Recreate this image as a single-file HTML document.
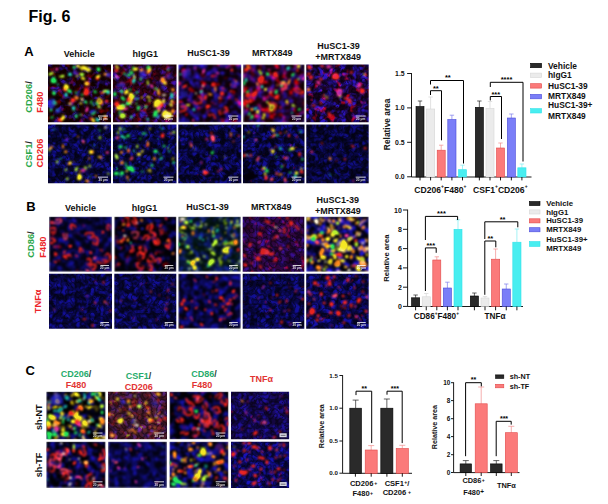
<!DOCTYPE html>
<html><head><meta charset="utf-8"><title>Fig. 6</title>
<style>html,body{margin:0;padding:0;background:#fff;}svg{display:block;}text{font-family:"Liberation Sans", sans-serif;font-weight:bold;}</style></head><body>
<svg width="608" height="504" viewBox="0 0 608 504">
<rect width="608" height="504" fill="#ffffff"/>
<defs>
<filter id="bl" x="-5%" y="-5%" width="110%" height="110%" color-interpolation-filters="sRGB"><feTurbulence type="fractalNoise" baseFrequency="0.11" numOctaves="2" seed="7" result="t"/><feDisplacementMap in="SourceGraphic" in2="t" scale="5" xChannelSelector="R" yChannelSelector="G" result="d"/><feGaussianBlur in="d" stdDeviation="0.85" result="g"/><feComponentTransfer in="g"><feFuncA type="linear" slope="1.35" intercept="0"/></feComponentTransfer></filter>
<filter id="bl2" x="-20%" y="-20%" width="140%" height="140%"><feGaussianBlur stdDeviation="0.9"/></filter>
<filter id="tb" x="-5%" y="-5%" width="110%" height="110%"><feGaussianBlur stdDeviation="0.28"/></filter>
<clipPath id="c0"><rect x="48.0" y="64.5" width="63.00" height="57.70"/></clipPath>
<filter id="f0" x="0" y="0" width="100%" height="100%" color-interpolation-filters="sRGB"><feTurbulence type="fractalNoise" baseFrequency="0.15" numOctaves="2" seed="1" result="n1"/><feColorMatrix in="n1" type="matrix" values="0 0 0 0 0.090  0 0 0 0 0.000  4.000 0 0 0 -1.880  0 0 0 0 1" result="b1"/><feComponentTransfer in="b1" result="b2"><feFuncB type="table" tableValues="0.0 0.5"/></feComponentTransfer><feTurbulence type="fractalNoise" baseFrequency="0.14" numOctaves="2" seed="18" result="n2"/><feColorMatrix in="n2" type="matrix" values="3 0 0 0 -1.740  0 6 0 0 -6.600  0 0 0 0 0  0 0 0 0 1" result="r0"/><feComponentTransfer in="r0" result="r1"><feFuncR type="table" tableValues="0 0.4"/><feFuncG type="table" tableValues="0 0.85"/></feComponentTransfer><feTurbulence type="turbulence" baseFrequency="0.21" numOctaves="1" seed="41" result="n3"/><feColorMatrix in="n3" type="matrix" values="4.0 0 0 0 -0.120  4.0 0 0 0 -0.120  4.0 0 0 0 -0.120  0 0 0 0 1" result="m0"/><feComponentTransfer in="m0" result="m1"><feFuncR type="table" tableValues="0.5 1"/><feFuncG type="table" tableValues="0.5 1"/><feFuncB type="table" tableValues="0.5 1"/></feComponentTransfer><feComposite in="b2" in2="m1" operator="arithmetic" k1="1.15" k2="0" k3="0" k4="0" result="b3"/><feColorMatrix in="b3" type="matrix" values="1 0 0.12 0 0  0 1 0.10 0 0  0 0 1 0 0  0 0 0 1 0" result="b4"/><feComposite in="b4" in2="r1" operator="arithmetic" k1="0" k2="1" k3="1" k4="0" result="cc"/><feGaussianBlur in="cc" stdDeviation="0.6"/></filter>
<clipPath id="c1"><rect x="113.0" y="64.5" width="63.50" height="57.70"/></clipPath>
<filter id="f1" x="0" y="0" width="100%" height="100%" color-interpolation-filters="sRGB"><feTurbulence type="fractalNoise" baseFrequency="0.15" numOctaves="2" seed="2" result="n1"/><feColorMatrix in="n1" type="matrix" values="0 0 0 0 0.160  0 0 0 0 0.000  4.000 0 0 0 -1.840  0 0 0 0 1" result="b1"/><feComponentTransfer in="b1" result="b2"><feFuncB type="table" tableValues="0.06 0.6"/></feComponentTransfer><feTurbulence type="fractalNoise" baseFrequency="0.14" numOctaves="2" seed="19" result="n2"/><feColorMatrix in="n2" type="matrix" values="3 0 0 0 -1.680  0 6 0 0 -6.600  0 0 0 0 0  0 0 0 0 1" result="r0"/><feComponentTransfer in="r0" result="r1"><feFuncR type="table" tableValues="0 0.5"/><feFuncG type="table" tableValues="0 0.85"/></feComponentTransfer><feTurbulence type="turbulence" baseFrequency="0.21" numOctaves="1" seed="42" result="n3"/><feColorMatrix in="n3" type="matrix" values="4.0 0 0 0 -0.120  4.0 0 0 0 -0.120  4.0 0 0 0 -0.120  0 0 0 0 1" result="m0"/><feComponentTransfer in="m0" result="m1"><feFuncR type="table" tableValues="0.5 1"/><feFuncG type="table" tableValues="0.5 1"/><feFuncB type="table" tableValues="0.5 1"/></feComponentTransfer><feComposite in="b2" in2="m1" operator="arithmetic" k1="1.15" k2="0" k3="0" k4="0" result="b3"/><feColorMatrix in="b3" type="matrix" values="1 0 0.12 0 0  0 1 0.10 0 0  0 0 1 0 0  0 0 0 1 0" result="b4"/><feComposite in="b4" in2="r1" operator="arithmetic" k1="0" k2="1" k3="1" k4="0" result="cc"/><feGaussianBlur in="cc" stdDeviation="0.6"/></filter>
<clipPath id="c2"><rect x="178.3" y="64.5" width="63.00" height="57.70"/></clipPath>
<filter id="f2" x="0" y="0" width="100%" height="100%" color-interpolation-filters="sRGB"><feTurbulence type="fractalNoise" baseFrequency="0.16" numOctaves="2" seed="3" result="n1"/><feColorMatrix in="n1" type="matrix" values="0 0 0 0 0.060  0 0 0 0 0.000  4.000 0 0 0 -1.640  0 0 0 0 1" result="b1"/><feComponentTransfer in="b1" result="b2"><feFuncB type="table" tableValues="0.02 0.72"/></feComponentTransfer><feTurbulence type="fractalNoise" baseFrequency="0.16" numOctaves="2" seed="20" result="n2"/><feColorMatrix in="n2" type="matrix" values="5 0 0 0 -3.000  0 6 0 0 -6.600  0 0 0 0 0  0 0 0 0 1" result="r0"/><feComponentTransfer in="r0" result="r1"><feFuncR type="table" tableValues="0 0.9"/><feFuncG type="table" tableValues="0 0.85"/></feComponentTransfer><feTurbulence type="turbulence" baseFrequency="0.21" numOctaves="1" seed="43" result="n3"/><feColorMatrix in="n3" type="matrix" values="4.0 0 0 0 -0.120  4.0 0 0 0 -0.120  4.0 0 0 0 -0.120  0 0 0 0 1" result="m0"/><feComponentTransfer in="m0" result="m1"><feFuncR type="table" tableValues="0.5 1"/><feFuncG type="table" tableValues="0.5 1"/><feFuncB type="table" tableValues="0.5 1"/></feComponentTransfer><feComposite in="b2" in2="m1" operator="arithmetic" k1="1.15" k2="0" k3="0" k4="0" result="b3"/><feColorMatrix in="b3" type="matrix" values="1 0 0.12 0 0  0 1 0.10 0 0  0 0 1 0 0  0 0 0 1 0" result="b4"/><feComposite in="b4" in2="r1" operator="arithmetic" k1="0" k2="1" k3="1" k4="0" result="cc"/><feGaussianBlur in="cc" stdDeviation="0.8"/></filter>
<clipPath id="c3"><rect x="243.0" y="64.5" width="61.50" height="57.70"/></clipPath>
<filter id="f3" x="0" y="0" width="100%" height="100%" color-interpolation-filters="sRGB"><feTurbulence type="fractalNoise" baseFrequency="0.16" numOctaves="2" seed="4" result="n1"/><feColorMatrix in="n1" type="matrix" values="0 0 0 0 0.100  0 0 0 0 0.000  4.000 0 0 0 -1.720  0 0 0 0 1" result="b1"/><feComponentTransfer in="b1" result="b2"><feFuncB type="table" tableValues="0.02 0.66"/></feComponentTransfer><feTurbulence type="fractalNoise" baseFrequency="0.16" numOctaves="2" seed="21" result="n2"/><feColorMatrix in="n2" type="matrix" values="5 0 0 0 -2.800  0 6 0 0 -6.600  0 0 0 0 0  0 0 0 0 1" result="r0"/><feComponentTransfer in="r0" result="r1"><feFuncR type="table" tableValues="0 0.9"/><feFuncG type="table" tableValues="0 0.85"/></feComponentTransfer><feTurbulence type="turbulence" baseFrequency="0.21" numOctaves="1" seed="44" result="n3"/><feColorMatrix in="n3" type="matrix" values="4.0 0 0 0 -0.120  4.0 0 0 0 -0.120  4.0 0 0 0 -0.120  0 0 0 0 1" result="m0"/><feComponentTransfer in="m0" result="m1"><feFuncR type="table" tableValues="0.5 1"/><feFuncG type="table" tableValues="0.5 1"/><feFuncB type="table" tableValues="0.5 1"/></feComponentTransfer><feComposite in="b2" in2="m1" operator="arithmetic" k1="1.15" k2="0" k3="0" k4="0" result="b3"/><feColorMatrix in="b3" type="matrix" values="1 0 0.12 0 0  0 1 0.10 0 0  0 0 1 0 0  0 0 0 1 0" result="b4"/><feComposite in="b4" in2="r1" operator="arithmetic" k1="0" k2="1" k3="1" k4="0" result="cc"/><feGaussianBlur in="cc" stdDeviation="0.8"/></filter>
<clipPath id="c4"><rect x="306.3" y="64.5" width="62.40" height="57.70"/></clipPath>
<filter id="f4" x="0" y="0" width="100%" height="100%" color-interpolation-filters="sRGB"><feTurbulence type="fractalNoise" baseFrequency="0.15" numOctaves="2" seed="5" result="n1"/><feColorMatrix in="n1" type="matrix" values="0 0 0 0 0.070  0 0 0 0 0.000  4.000 0 0 0 -1.680  0 0 0 0 1" result="b1"/><feComponentTransfer in="b1" result="b2"><feFuncB type="table" tableValues="0.12 0.66"/></feComponentTransfer><feTurbulence type="fractalNoise" baseFrequency="0.14" numOctaves="2" seed="22" result="n2"/><feColorMatrix in="n2" type="matrix" values="4 0 0 0 -2.280  0 6 0 0 -6.600  0 0 0 0 0  0 0 0 0 1" result="r0"/><feComponentTransfer in="r0" result="r1"><feFuncR type="table" tableValues="0 0.7"/><feFuncG type="table" tableValues="0 0.85"/></feComponentTransfer><feTurbulence type="turbulence" baseFrequency="0.21" numOctaves="1" seed="45" result="n3"/><feColorMatrix in="n3" type="matrix" values="4.0 0 0 0 -0.120  4.0 0 0 0 -0.120  4.0 0 0 0 -0.120  0 0 0 0 1" result="m0"/><feComponentTransfer in="m0" result="m1"><feFuncR type="table" tableValues="0.5 1"/><feFuncG type="table" tableValues="0.5 1"/><feFuncB type="table" tableValues="0.5 1"/></feComponentTransfer><feComposite in="b2" in2="m1" operator="arithmetic" k1="1.15" k2="0" k3="0" k4="0" result="b3"/><feColorMatrix in="b3" type="matrix" values="1 0 0.12 0 0  0 1 0.10 0 0  0 0 1 0 0  0 0 0 1 0" result="b4"/><feComposite in="b4" in2="r1" operator="arithmetic" k1="0" k2="1" k3="1" k4="0" result="cc"/><feGaussianBlur in="cc" stdDeviation="0.6"/></filter>
<clipPath id="c5"><rect x="48.0" y="124.4" width="63.00" height="58.90"/></clipPath>
<filter id="f5" x="0" y="0" width="100%" height="100%" color-interpolation-filters="sRGB"><feTurbulence type="fractalNoise" baseFrequency="0.16" numOctaves="2" seed="6" result="n1"/><feColorMatrix in="n1" type="matrix" values="0 0 0 0 0.000  0 0 0 0 0.000  4.000 0 0 0 -1.560  0 0 0 0 1" result="b1"/><feComponentTransfer in="b1" result="b2"><feFuncB type="table" tableValues="0.14 0.5"/></feComponentTransfer><feTurbulence type="fractalNoise" baseFrequency="0.14" numOctaves="2" seed="23" result="n2"/><feColorMatrix in="n2" type="matrix" values="3 0 0 0 -2.400  0 6 0 0 -6.600  0 0 0 0 0  0 0 0 0 1" result="r0"/><feComponentTransfer in="r0" result="r1"><feFuncR type="table" tableValues="0 0.9"/><feFuncG type="table" tableValues="0 0.85"/></feComponentTransfer><feTurbulence type="turbulence" baseFrequency="0.21" numOctaves="1" seed="46" result="n3"/><feColorMatrix in="n3" type="matrix" values="4.0 0 0 0 -0.120  4.0 0 0 0 -0.120  4.0 0 0 0 -0.120  0 0 0 0 1" result="m0"/><feComponentTransfer in="m0" result="m1"><feFuncR type="table" tableValues="0.5 1"/><feFuncG type="table" tableValues="0.5 1"/><feFuncB type="table" tableValues="0.5 1"/></feComponentTransfer><feComposite in="b2" in2="m1" operator="arithmetic" k1="1.15" k2="0" k3="0" k4="0" result="b3"/><feColorMatrix in="b3" type="matrix" values="1 0 0.12 0 0  0 1 0.10 0 0  0 0 1 0 0  0 0 0 1 0" result="b4"/><feComposite in="b4" in2="r1" operator="arithmetic" k1="0" k2="1" k3="1" k4="0" result="cc"/><feGaussianBlur in="cc" stdDeviation="0.75"/></filter>
<clipPath id="c6"><rect x="113.0" y="124.4" width="63.50" height="58.90"/></clipPath>
<filter id="f6" x="0" y="0" width="100%" height="100%" color-interpolation-filters="sRGB"><feTurbulence type="fractalNoise" baseFrequency="0.16" numOctaves="2" seed="7" result="n1"/><feColorMatrix in="n1" type="matrix" values="0 0 0 0 0.000  0 0 0 0 0.000  4.000 0 0 0 -1.560  0 0 0 0 1" result="b1"/><feComponentTransfer in="b1" result="b2"><feFuncB type="table" tableValues="0.14 0.5"/></feComponentTransfer><feTurbulence type="fractalNoise" baseFrequency="0.14" numOctaves="2" seed="24" result="n2"/><feColorMatrix in="n2" type="matrix" values="3 0 0 0 -2.400  0 3 0 0 -2.250  0 0 0 0 0  0 0 0 0 1" result="r0"/><feComponentTransfer in="r0" result="r1"><feFuncR type="table" tableValues="0 0.9"/><feFuncG type="table" tableValues="0 0.85"/></feComponentTransfer><feTurbulence type="turbulence" baseFrequency="0.21" numOctaves="1" seed="47" result="n3"/><feColorMatrix in="n3" type="matrix" values="4.0 0 0 0 -0.120  4.0 0 0 0 -0.120  4.0 0 0 0 -0.120  0 0 0 0 1" result="m0"/><feComponentTransfer in="m0" result="m1"><feFuncR type="table" tableValues="0.5 1"/><feFuncG type="table" tableValues="0.5 1"/><feFuncB type="table" tableValues="0.5 1"/></feComponentTransfer><feComposite in="b2" in2="m1" operator="arithmetic" k1="1.15" k2="0" k3="0" k4="0" result="b3"/><feColorMatrix in="b3" type="matrix" values="1 0 0.12 0 0  0 1 0.10 0 0  0 0 1 0 0  0 0 0 1 0" result="b4"/><feComposite in="b4" in2="r1" operator="arithmetic" k1="0" k2="1" k3="1" k4="0" result="cc"/><feGaussianBlur in="cc" stdDeviation="0.75"/></filter>
<clipPath id="c7"><rect x="178.3" y="124.4" width="63.00" height="58.90"/></clipPath>
<filter id="f7" x="0" y="0" width="100%" height="100%" color-interpolation-filters="sRGB"><feTurbulence type="fractalNoise" baseFrequency="0.16" numOctaves="2" seed="8" result="n1"/><feColorMatrix in="n1" type="matrix" values="0 0 0 0 0.000  0 0 0 0 0.000  4.000 0 0 0 -1.560  0 0 0 0 1" result="b1"/><feComponentTransfer in="b1" result="b2"><feFuncB type="table" tableValues="0.14 0.5"/></feComponentTransfer><feTurbulence type="fractalNoise" baseFrequency="0.14" numOctaves="2" seed="25" result="n2"/><feColorMatrix in="n2" type="matrix" values="3 0 0 0 -2.400  0 6 0 0 -6.600  0 0 0 0 0  0 0 0 0 1" result="r0"/><feComponentTransfer in="r0" result="r1"><feFuncR type="table" tableValues="0 0.9"/><feFuncG type="table" tableValues="0 0.85"/></feComponentTransfer><feTurbulence type="turbulence" baseFrequency="0.21" numOctaves="1" seed="48" result="n3"/><feColorMatrix in="n3" type="matrix" values="4.0 0 0 0 -0.120  4.0 0 0 0 -0.120  4.0 0 0 0 -0.120  0 0 0 0 1" result="m0"/><feComponentTransfer in="m0" result="m1"><feFuncR type="table" tableValues="0.5 1"/><feFuncG type="table" tableValues="0.5 1"/><feFuncB type="table" tableValues="0.5 1"/></feComponentTransfer><feComposite in="b2" in2="m1" operator="arithmetic" k1="1.15" k2="0" k3="0" k4="0" result="b3"/><feColorMatrix in="b3" type="matrix" values="1 0 0.12 0 0  0 1 0.10 0 0  0 0 1 0 0  0 0 0 1 0" result="b4"/><feComposite in="b4" in2="r1" operator="arithmetic" k1="0" k2="1" k3="1" k4="0" result="cc"/><feGaussianBlur in="cc" stdDeviation="0.75"/></filter>
<clipPath id="c8"><rect x="243.0" y="124.4" width="61.50" height="58.90"/></clipPath>
<filter id="f8" x="0" y="0" width="100%" height="100%" color-interpolation-filters="sRGB"><feTurbulence type="fractalNoise" baseFrequency="0.16" numOctaves="2" seed="9" result="n1"/><feColorMatrix in="n1" type="matrix" values="0 0 0 0 0.000  0 0 0 0 0.000  4.000 0 0 0 -1.560  0 0 0 0 1" result="b1"/><feComponentTransfer in="b1" result="b2"><feFuncB type="table" tableValues="0.14 0.5"/></feComponentTransfer><feTurbulence type="fractalNoise" baseFrequency="0.14" numOctaves="2" seed="26" result="n2"/><feColorMatrix in="n2" type="matrix" values="3 0 0 0 -2.250  0 6 0 0 -6.600  0 0 0 0 0  0 0 0 0 1" result="r0"/><feComponentTransfer in="r0" result="r1"><feFuncR type="table" tableValues="0 0.9"/><feFuncG type="table" tableValues="0 0.85"/></feComponentTransfer><feTurbulence type="turbulence" baseFrequency="0.21" numOctaves="1" seed="49" result="n3"/><feColorMatrix in="n3" type="matrix" values="4.0 0 0 0 -0.120  4.0 0 0 0 -0.120  4.0 0 0 0 -0.120  0 0 0 0 1" result="m0"/><feComponentTransfer in="m0" result="m1"><feFuncR type="table" tableValues="0.5 1"/><feFuncG type="table" tableValues="0.5 1"/><feFuncB type="table" tableValues="0.5 1"/></feComponentTransfer><feComposite in="b2" in2="m1" operator="arithmetic" k1="1.15" k2="0" k3="0" k4="0" result="b3"/><feColorMatrix in="b3" type="matrix" values="1 0 0.12 0 0  0 1 0.10 0 0  0 0 1 0 0  0 0 0 1 0" result="b4"/><feComposite in="b4" in2="r1" operator="arithmetic" k1="0" k2="1" k3="1" k4="0" result="cc"/><feGaussianBlur in="cc" stdDeviation="0.75"/></filter>
<clipPath id="c9"><rect x="306.3" y="124.4" width="62.40" height="58.90"/></clipPath>
<filter id="f9" x="0" y="0" width="100%" height="100%" color-interpolation-filters="sRGB"><feTurbulence type="fractalNoise" baseFrequency="0.16" numOctaves="2" seed="10" result="n1"/><feColorMatrix in="n1" type="matrix" values="0 0 0 0 0.000  0 0 0 0 0.000  4.000 0 0 0 -1.560  0 0 0 0 1" result="b1"/><feComponentTransfer in="b1" result="b2"><feFuncB type="table" tableValues="0.14 0.44"/></feComponentTransfer><feTurbulence type="fractalNoise" baseFrequency="0.14" numOctaves="2" seed="27" result="n2"/><feColorMatrix in="n2" type="matrix" values="3 0 0 0 -2.700  0 6 0 0 -6.600  0 0 0 0 0  0 0 0 0 1" result="r0"/><feComponentTransfer in="r0" result="r1"><feFuncR type="table" tableValues="0 0.9"/><feFuncG type="table" tableValues="0 0.85"/></feComponentTransfer><feTurbulence type="turbulence" baseFrequency="0.21" numOctaves="1" seed="50" result="n3"/><feColorMatrix in="n3" type="matrix" values="4.0 0 0 0 -0.120  4.0 0 0 0 -0.120  4.0 0 0 0 -0.120  0 0 0 0 1" result="m0"/><feComponentTransfer in="m0" result="m1"><feFuncR type="table" tableValues="0.5 1"/><feFuncG type="table" tableValues="0.5 1"/><feFuncB type="table" tableValues="0.5 1"/></feComponentTransfer><feComposite in="b2" in2="m1" operator="arithmetic" k1="1.15" k2="0" k3="0" k4="0" result="b3"/><feColorMatrix in="b3" type="matrix" values="1 0 0.12 0 0  0 1 0.10 0 0  0 0 1 0 0  0 0 0 1 0" result="b4"/><feComposite in="b4" in2="r1" operator="arithmetic" k1="0" k2="1" k3="1" k4="0" result="cc"/><feGaussianBlur in="cc" stdDeviation="0.75"/></filter>
<clipPath id="c10"><rect x="49.0" y="216.8" width="63.00" height="54.90"/></clipPath>
<filter id="f10" x="0" y="0" width="100%" height="100%" color-interpolation-filters="sRGB"><feTurbulence type="fractalNoise" baseFrequency="0.16" numOctaves="2" seed="11" result="n1"/><feColorMatrix in="n1" type="matrix" values="0 0 0 0 0.000  0 0 0 0 0.000  4.000 0 0 0 -1.640  0 0 0 0 1" result="b1"/><feComponentTransfer in="b1" result="b2"><feFuncB type="table" tableValues="0.1 0.56"/></feComponentTransfer><feTurbulence type="fractalNoise" baseFrequency="0.16" numOctaves="2" seed="28" result="n2"/><feColorMatrix in="n2" type="matrix" values="4 0 0 0 -2.800  0 6 0 0 -6.600  0 0 0 0 0  0 0 0 0 1" result="r0"/><feComponentTransfer in="r0" result="r1"><feFuncR type="table" tableValues="0 0.9"/><feFuncG type="table" tableValues="0 0.85"/></feComponentTransfer><feTurbulence type="turbulence" baseFrequency="0.21" numOctaves="1" seed="51" result="n3"/><feColorMatrix in="n3" type="matrix" values="4.0 0 0 0 -0.120  4.0 0 0 0 -0.120  4.0 0 0 0 -0.120  0 0 0 0 1" result="m0"/><feComponentTransfer in="m0" result="m1"><feFuncR type="table" tableValues="0.5 1"/><feFuncG type="table" tableValues="0.5 1"/><feFuncB type="table" tableValues="0.5 1"/></feComponentTransfer><feComposite in="b2" in2="m1" operator="arithmetic" k1="1.15" k2="0" k3="0" k4="0" result="b3"/><feColorMatrix in="b3" type="matrix" values="1 0 0.12 0 0  0 1 0.10 0 0  0 0 1 0 0  0 0 0 1 0" result="b4"/><feComposite in="b4" in2="r1" operator="arithmetic" k1="0" k2="1" k3="1" k4="0" result="cc"/><feGaussianBlur in="cc" stdDeviation="0.8"/></filter>
<clipPath id="c11"><rect x="114.3" y="216.8" width="62.00" height="54.90"/></clipPath>
<filter id="f11" x="0" y="0" width="100%" height="100%" color-interpolation-filters="sRGB"><feTurbulence type="fractalNoise" baseFrequency="0.16" numOctaves="2" seed="12" result="n1"/><feColorMatrix in="n1" type="matrix" values="0 0 0 0 0.000  0 0 0 0 0.000  4.000 0 0 0 -1.880  0 0 0 0 1" result="b1"/><feComponentTransfer in="b1" result="b2"><feFuncB type="table" tableValues="0.03 0.56"/></feComponentTransfer><feTurbulence type="fractalNoise" baseFrequency="0.16" numOctaves="2" seed="29" result="n2"/><feColorMatrix in="n2" type="matrix" values="4 0 0 0 -2.640  0 6 0 0 -6.600  0 0 0 0 0  0 0 0 0 1" result="r0"/><feComponentTransfer in="r0" result="r1"><feFuncR type="table" tableValues="0 0.9"/><feFuncG type="table" tableValues="0 0.85"/></feComponentTransfer><feTurbulence type="turbulence" baseFrequency="0.21" numOctaves="1" seed="52" result="n3"/><feColorMatrix in="n3" type="matrix" values="4.0 0 0 0 -0.120  4.0 0 0 0 -0.120  4.0 0 0 0 -0.120  0 0 0 0 1" result="m0"/><feComponentTransfer in="m0" result="m1"><feFuncR type="table" tableValues="0.5 1"/><feFuncG type="table" tableValues="0.5 1"/><feFuncB type="table" tableValues="0.5 1"/></feComponentTransfer><feComposite in="b2" in2="m1" operator="arithmetic" k1="1.15" k2="0" k3="0" k4="0" result="b3"/><feColorMatrix in="b3" type="matrix" values="1 0 0.12 0 0  0 1 0.10 0 0  0 0 1 0 0  0 0 0 1 0" result="b4"/><feComposite in="b4" in2="r1" operator="arithmetic" k1="0" k2="1" k3="1" k4="0" result="cc"/><feGaussianBlur in="cc" stdDeviation="0.8"/></filter>
<clipPath id="c12"><rect x="178.3" y="216.8" width="62.50" height="54.90"/></clipPath>
<filter id="f12" x="0" y="0" width="100%" height="100%" color-interpolation-filters="sRGB"><feTurbulence type="fractalNoise" baseFrequency="0.15" numOctaves="2" seed="13" result="n1"/><feColorMatrix in="n1" type="matrix" values="0 0 0 0 0.000  0 0 0 0 0.070  4.000 0 0 0 -1.680  0 0 0 0 1" result="b1"/><feComponentTransfer in="b1" result="b2"><feFuncB type="table" tableValues="0.08 0.56"/></feComponentTransfer><feTurbulence type="fractalNoise" baseFrequency="0.17" numOctaves="2" seed="30" result="n2"/><feColorMatrix in="n2" type="matrix" values="5 0 0 0 -3.000  6 0 0 0 -3.600  0 0 0 0 0  0 0 0 0 1" result="r0"/><feComponentTransfer in="r0" result="r1"><feFuncR type="table" tableValues="0 0.7"/><feFuncG type="table" tableValues="0 0.72"/></feComponentTransfer><feTurbulence type="turbulence" baseFrequency="0.21" numOctaves="1" seed="53" result="n3"/><feColorMatrix in="n3" type="matrix" values="4.0 0 0 0 -0.120  4.0 0 0 0 -0.120  4.0 0 0 0 -0.120  0 0 0 0 1" result="m0"/><feComponentTransfer in="m0" result="m1"><feFuncR type="table" tableValues="0.5 1"/><feFuncG type="table" tableValues="0.5 1"/><feFuncB type="table" tableValues="0.5 1"/></feComponentTransfer><feComposite in="b2" in2="m1" operator="arithmetic" k1="1.15" k2="0" k3="0" k4="0" result="b3"/><feColorMatrix in="b3" type="matrix" values="1 0 0.12 0 0  0 1 0.10 0 0  0 0 1 0 0  0 0 0 1 0" result="b4"/><feComposite in="b4" in2="r1" operator="arithmetic" k1="0" k2="1" k3="1" k4="0" result="cc"/><feGaussianBlur in="cc" stdDeviation="0.8"/></filter>
<clipPath id="c13"><rect x="242.7" y="216.8" width="61.60" height="54.90"/></clipPath>
<filter id="f13" x="0" y="0" width="100%" height="100%" color-interpolation-filters="sRGB"><feTurbulence type="fractalNoise" baseFrequency="0.15" numOctaves="2" seed="14" result="n1"/><feColorMatrix in="n1" type="matrix" values="0 0 0 0 0.130  0 0 0 0 0.000  3.000 0 0 0 -1.320  0 0 0 0 1" result="b1"/><feComponentTransfer in="b1" result="b2"><feFuncB type="table" tableValues="0.22 0.55"/></feComponentTransfer><feTurbulence type="fractalNoise" baseFrequency="0.14" numOctaves="2" seed="31" result="n2"/><feColorMatrix in="n2" type="matrix" values="4 0 0 0 -2.440  0 6 0 0 -7.200  0 0 0 0 0  0 0 0 0 1" result="r0"/><feComponentTransfer in="r0" result="r1"><feFuncR type="table" tableValues="0 0.5"/><feFuncG type="table" tableValues="0 0.85"/></feComponentTransfer><feTurbulence type="turbulence" baseFrequency="0.21" numOctaves="1" seed="54" result="n3"/><feColorMatrix in="n3" type="matrix" values="4.0 0 0 0 -0.120  4.0 0 0 0 -0.120  4.0 0 0 0 -0.120  0 0 0 0 1" result="m0"/><feComponentTransfer in="m0" result="m1"><feFuncR type="table" tableValues="0.5 1"/><feFuncG type="table" tableValues="0.5 1"/><feFuncB type="table" tableValues="0.5 1"/></feComponentTransfer><feComposite in="b2" in2="m1" operator="arithmetic" k1="1.15" k2="0" k3="0" k4="0" result="b3"/><feColorMatrix in="b3" type="matrix" values="1 0 0.12 0 0  0 1 0.10 0 0  0 0 1 0 0  0 0 0 1 0" result="b4"/><feComposite in="b4" in2="r1" operator="arithmetic" k1="0" k2="1" k3="1" k4="0" result="cc"/><feGaussianBlur in="cc" stdDeviation="0.6"/></filter>
<clipPath id="c14"><rect x="306.2" y="216.8" width="62.50" height="54.90"/></clipPath>
<filter id="f14" x="0" y="0" width="100%" height="100%" color-interpolation-filters="sRGB"><feTurbulence type="fractalNoise" baseFrequency="0.15" numOctaves="2" seed="15" result="n1"/><feColorMatrix in="n1" type="matrix" values="0 0 0 0 0.000  0 0 0 0 0.000  4.000 0 0 0 -1.680  0 0 0 0 1" result="b1"/><feComponentTransfer in="b1" result="b2"><feFuncB type="table" tableValues="0.05 0.95"/></feComponentTransfer><feTurbulence type="fractalNoise" baseFrequency="0.17" numOctaves="2" seed="32" result="n2"/><feColorMatrix in="n2" type="matrix" values="6 0 0 0 -3.360  6 0 0 0 -3.540  0 0 0 0 0  0 0 0 0 1" result="r0"/><feComponentTransfer in="r0" result="r1"><feFuncR type="table" tableValues="0 0.98"/><feFuncG type="table" tableValues="0 0.9"/></feComponentTransfer><feTurbulence type="turbulence" baseFrequency="0.21" numOctaves="1" seed="55" result="n3"/><feColorMatrix in="n3" type="matrix" values="4.0 0 0 0 -0.120  4.0 0 0 0 -0.120  4.0 0 0 0 -0.120  0 0 0 0 1" result="m0"/><feComponentTransfer in="m0" result="m1"><feFuncR type="table" tableValues="0.5 1"/><feFuncG type="table" tableValues="0.5 1"/><feFuncB type="table" tableValues="0.5 1"/></feComponentTransfer><feComposite in="b2" in2="m1" operator="arithmetic" k1="1.15" k2="0" k3="0" k4="0" result="b3"/><feColorMatrix in="b3" type="matrix" values="1 0 0.12 0 0  0 1 0.10 0 0  0 0 1 0 0  0 0 0 1 0" result="b4"/><feComposite in="b4" in2="r1" operator="arithmetic" k1="0" k2="1" k3="1" k4="0" result="cc"/><feGaussianBlur in="cc" stdDeviation="0.8"/></filter>
<clipPath id="c15"><rect x="49.0" y="273.7" width="63.00" height="55.00"/></clipPath>
<filter id="f15" x="0" y="0" width="100%" height="100%" color-interpolation-filters="sRGB"><feTurbulence type="fractalNoise" baseFrequency="0.16" numOctaves="2" seed="16" result="n1"/><feColorMatrix in="n1" type="matrix" values="0 0 0 0 0.000  0 0 0 0 0.000  3.500 0 0 0 -1.295  0 0 0 0 1" result="b1"/><feComponentTransfer in="b1" result="b2"><feFuncB type="table" tableValues="0.18 0.52"/></feComponentTransfer><feTurbulence type="fractalNoise" baseFrequency="0.14" numOctaves="2" seed="33" result="n2"/><feColorMatrix in="n2" type="matrix" values="3 0 0 0 -2.400  0 6 0 0 -7.200  0 0 0 0 0  0 0 0 0 1" result="r0"/><feComponentTransfer in="r0" result="r1"><feFuncR type="table" tableValues="0 0.6"/><feFuncG type="table" tableValues="0 0.85"/></feComponentTransfer><feTurbulence type="turbulence" baseFrequency="0.21" numOctaves="1" seed="56" result="n3"/><feColorMatrix in="n3" type="matrix" values="4.0 0 0 0 -0.120  4.0 0 0 0 -0.120  4.0 0 0 0 -0.120  0 0 0 0 1" result="m0"/><feComponentTransfer in="m0" result="m1"><feFuncR type="table" tableValues="0.5 1"/><feFuncG type="table" tableValues="0.5 1"/><feFuncB type="table" tableValues="0.5 1"/></feComponentTransfer><feComposite in="b2" in2="m1" operator="arithmetic" k1="1.15" k2="0" k3="0" k4="0" result="b3"/><feColorMatrix in="b3" type="matrix" values="1 0 0.12 0 0  0 1 0.10 0 0  0 0 1 0 0  0 0 0 1 0" result="b4"/><feComposite in="b4" in2="r1" operator="arithmetic" k1="0" k2="1" k3="1" k4="0" result="cc"/><feGaussianBlur in="cc" stdDeviation="0.75"/></filter>
<clipPath id="c16"><rect x="114.3" y="273.7" width="62.00" height="55.00"/></clipPath>
<filter id="f16" x="0" y="0" width="100%" height="100%" color-interpolation-filters="sRGB"><feTurbulence type="fractalNoise" baseFrequency="0.16" numOctaves="2" seed="17" result="n1"/><feColorMatrix in="n1" type="matrix" values="0 0 0 0 0.000  0 0 0 0 0.000  3.500 0 0 0 -1.295  0 0 0 0 1" result="b1"/><feComponentTransfer in="b1" result="b2"><feFuncB type="table" tableValues="0.18 0.52"/></feComponentTransfer><feTurbulence type="fractalNoise" baseFrequency="0.14" numOctaves="2" seed="34" result="n2"/><feColorMatrix in="n2" type="matrix" values="3 0 0 0 -2.400  0 6 0 0 -7.200  0 0 0 0 0  0 0 0 0 1" result="r0"/><feComponentTransfer in="r0" result="r1"><feFuncR type="table" tableValues="0 0.6"/><feFuncG type="table" tableValues="0 0.85"/></feComponentTransfer><feTurbulence type="turbulence" baseFrequency="0.21" numOctaves="1" seed="57" result="n3"/><feColorMatrix in="n3" type="matrix" values="4.0 0 0 0 -0.120  4.0 0 0 0 -0.120  4.0 0 0 0 -0.120  0 0 0 0 1" result="m0"/><feComponentTransfer in="m0" result="m1"><feFuncR type="table" tableValues="0.5 1"/><feFuncG type="table" tableValues="0.5 1"/><feFuncB type="table" tableValues="0.5 1"/></feComponentTransfer><feComposite in="b2" in2="m1" operator="arithmetic" k1="1.15" k2="0" k3="0" k4="0" result="b3"/><feColorMatrix in="b3" type="matrix" values="1 0 0.12 0 0  0 1 0.10 0 0  0 0 1 0 0  0 0 0 1 0" result="b4"/><feComposite in="b4" in2="r1" operator="arithmetic" k1="0" k2="1" k3="1" k4="0" result="cc"/><feGaussianBlur in="cc" stdDeviation="0.75"/></filter>
<clipPath id="c17"><rect x="178.3" y="273.7" width="62.50" height="55.00"/></clipPath>
<filter id="f17" x="0" y="0" width="100%" height="100%" color-interpolation-filters="sRGB"><feTurbulence type="fractalNoise" baseFrequency="0.16" numOctaves="2" seed="18" result="n1"/><feColorMatrix in="n1" type="matrix" values="0 0 0 0 0.000  0 0 0 0 0.000  4.000 0 0 0 -1.560  0 0 0 0 1" result="b1"/><feComponentTransfer in="b1" result="b2"><feFuncB type="table" tableValues="0.08 0.62"/></feComponentTransfer><feTurbulence type="fractalNoise" baseFrequency="0.14" numOctaves="2" seed="35" result="n2"/><feColorMatrix in="n2" type="matrix" values="3 0 0 0 -2.250  0 6 0 0 -7.200  0 0 0 0 0  0 0 0 0 1" result="r0"/><feComponentTransfer in="r0" result="r1"><feFuncR type="table" tableValues="0 0.7"/><feFuncG type="table" tableValues="0 0.85"/></feComponentTransfer><feTurbulence type="turbulence" baseFrequency="0.21" numOctaves="1" seed="58" result="n3"/><feColorMatrix in="n3" type="matrix" values="4.0 0 0 0 -0.120  4.0 0 0 0 -0.120  4.0 0 0 0 -0.120  0 0 0 0 1" result="m0"/><feComponentTransfer in="m0" result="m1"><feFuncR type="table" tableValues="0.5 1"/><feFuncG type="table" tableValues="0.5 1"/><feFuncB type="table" tableValues="0.5 1"/></feComponentTransfer><feComposite in="b2" in2="m1" operator="arithmetic" k1="1.15" k2="0" k3="0" k4="0" result="b3"/><feColorMatrix in="b3" type="matrix" values="1 0 0.12 0 0  0 1 0.10 0 0  0 0 1 0 0  0 0 0 1 0" result="b4"/><feComposite in="b4" in2="r1" operator="arithmetic" k1="0" k2="1" k3="1" k4="0" result="cc"/><feGaussianBlur in="cc" stdDeviation="0.8"/></filter>
<clipPath id="c18"><rect x="242.7" y="273.7" width="61.60" height="55.00"/></clipPath>
<filter id="f18" x="0" y="0" width="100%" height="100%" color-interpolation-filters="sRGB"><feTurbulence type="fractalNoise" baseFrequency="0.16" numOctaves="2" seed="19" result="n1"/><feColorMatrix in="n1" type="matrix" values="0 0 0 0 0.000  0 0 0 0 0.000  3.500 0 0 0 -1.295  0 0 0 0 1" result="b1"/><feComponentTransfer in="b1" result="b2"><feFuncB type="table" tableValues="0.18 0.52"/></feComponentTransfer><feTurbulence type="fractalNoise" baseFrequency="0.14" numOctaves="2" seed="36" result="n2"/><feColorMatrix in="n2" type="matrix" values="3 0 0 0 -2.250  0 6 0 0 -7.200  0 0 0 0 0  0 0 0 0 1" result="r0"/><feComponentTransfer in="r0" result="r1"><feFuncR type="table" tableValues="0 0.6"/><feFuncG type="table" tableValues="0 0.85"/></feComponentTransfer><feTurbulence type="turbulence" baseFrequency="0.21" numOctaves="1" seed="59" result="n3"/><feColorMatrix in="n3" type="matrix" values="4.0 0 0 0 -0.120  4.0 0 0 0 -0.120  4.0 0 0 0 -0.120  0 0 0 0 1" result="m0"/><feComponentTransfer in="m0" result="m1"><feFuncR type="table" tableValues="0.5 1"/><feFuncG type="table" tableValues="0.5 1"/><feFuncB type="table" tableValues="0.5 1"/></feComponentTransfer><feComposite in="b2" in2="m1" operator="arithmetic" k1="1.15" k2="0" k3="0" k4="0" result="b3"/><feColorMatrix in="b3" type="matrix" values="1 0 0.12 0 0  0 1 0.10 0 0  0 0 1 0 0  0 0 0 1 0" result="b4"/><feComposite in="b4" in2="r1" operator="arithmetic" k1="0" k2="1" k3="1" k4="0" result="cc"/><feGaussianBlur in="cc" stdDeviation="0.75"/></filter>
<clipPath id="c19"><rect x="306.2" y="273.7" width="62.50" height="55.00"/></clipPath>
<filter id="f19" x="0" y="0" width="100%" height="100%" color-interpolation-filters="sRGB"><feTurbulence type="fractalNoise" baseFrequency="0.16" numOctaves="2" seed="20" result="n1"/><feColorMatrix in="n1" type="matrix" values="0 0 0 0 0.000  0 0 0 0 0.000  3.500 0 0 0 -1.330  0 0 0 0 1" result="b1"/><feComponentTransfer in="b1" result="b2"><feFuncB type="table" tableValues="0.2 0.58"/></feComponentTransfer><feTurbulence type="fractalNoise" baseFrequency="0.14" numOctaves="2" seed="37" result="n2"/><feColorMatrix in="n2" type="matrix" values="3 0 0 0 -2.100  0 6 0 0 -7.200  0 0 0 0 0  0 0 0 0 1" result="r0"/><feComponentTransfer in="r0" result="r1"><feFuncR type="table" tableValues="0 0.7"/><feFuncG type="table" tableValues="0 0.85"/></feComponentTransfer><feTurbulence type="turbulence" baseFrequency="0.21" numOctaves="1" seed="60" result="n3"/><feColorMatrix in="n3" type="matrix" values="4.0 0 0 0 -0.120  4.0 0 0 0 -0.120  4.0 0 0 0 -0.120  0 0 0 0 1" result="m0"/><feComponentTransfer in="m0" result="m1"><feFuncR type="table" tableValues="0.5 1"/><feFuncG type="table" tableValues="0.5 1"/><feFuncB type="table" tableValues="0.5 1"/></feComponentTransfer><feComposite in="b2" in2="m1" operator="arithmetic" k1="1.15" k2="0" k3="0" k4="0" result="b3"/><feColorMatrix in="b3" type="matrix" values="1 0 0.12 0 0  0 1 0.10 0 0  0 0 1 0 0  0 0 0 1 0" result="b4"/><feComposite in="b4" in2="r1" operator="arithmetic" k1="0" k2="1" k3="1" k4="0" result="cc"/><feGaussianBlur in="cc" stdDeviation="0.6"/></filter>
<clipPath id="c20"><rect x="46.3" y="391.8" width="59.20" height="47.40"/></clipPath>
<filter id="f20" x="0" y="0" width="100%" height="100%" color-interpolation-filters="sRGB"><feTurbulence type="fractalNoise" baseFrequency="0.15" numOctaves="2" seed="21" result="n1"/><feColorMatrix in="n1" type="matrix" values="0 0 0 0 0.000  0 0 0 0 0.000  4.000 0 0 0 -1.840  0 0 0 0 1" result="b1"/><feComponentTransfer in="b1" result="b2"><feFuncB type="table" tableValues="0.0 0.65"/></feComponentTransfer><feTurbulence type="fractalNoise" baseFrequency="0.17" numOctaves="2" seed="38" result="n2"/><feColorMatrix in="n2" type="matrix" values="6 0 0 0 -3.480  6 0 0 0 -3.540  0 0 0 0 0  0 0 0 0 1" result="r0"/><feComponentTransfer in="r0" result="r1"><feFuncR type="table" tableValues="0 0.95"/><feFuncG type="table" tableValues="0 0.88"/></feComponentTransfer><feTurbulence type="turbulence" baseFrequency="0.21" numOctaves="1" seed="61" result="n3"/><feColorMatrix in="n3" type="matrix" values="4.0 0 0 0 -0.120  4.0 0 0 0 -0.120  4.0 0 0 0 -0.120  0 0 0 0 1" result="m0"/><feComponentTransfer in="m0" result="m1"><feFuncR type="table" tableValues="0.5 1"/><feFuncG type="table" tableValues="0.5 1"/><feFuncB type="table" tableValues="0.5 1"/></feComponentTransfer><feComposite in="b2" in2="m1" operator="arithmetic" k1="1.15" k2="0" k3="0" k4="0" result="b3"/><feColorMatrix in="b3" type="matrix" values="1 0 0.12 0 0  0 1 0.10 0 0  0 0 1 0 0  0 0 0 1 0" result="b4"/><feComposite in="b4" in2="r1" operator="arithmetic" k1="0" k2="1" k3="1" k4="0" result="cc"/><feGaussianBlur in="cc" stdDeviation="0.9"/></filter>
<clipPath id="c21"><rect x="108.0" y="391.8" width="59.00" height="47.40"/></clipPath>
<filter id="f21" x="0" y="0" width="100%" height="100%" color-interpolation-filters="sRGB"><feTurbulence type="fractalNoise" baseFrequency="0.16" numOctaves="2" seed="22" result="n1"/><feColorMatrix in="n1" type="matrix" values="0 0 0 0 0.240  0 0 0 0 0.080  3.000 0 0 0 -1.410  0 0 0 0 1" result="b1"/><feComponentTransfer in="b1" result="b2"><feFuncB type="table" tableValues="0.15 0.55"/></feComponentTransfer><feTurbulence type="fractalNoise" baseFrequency="0.16" numOctaves="2" seed="39" result="n2"/><feColorMatrix in="n2" type="matrix" values="3 0 0 0 -1.680  4 0 0 0 -2.800  0 0 0 0 0  0 0 0 0 1" result="r0"/><feComponentTransfer in="r0" result="r1"><feFuncR type="table" tableValues="0 0.4"/><feFuncG type="table" tableValues="0 0.7"/></feComponentTransfer><feTurbulence type="turbulence" baseFrequency="0.21" numOctaves="1" seed="62" result="n3"/><feColorMatrix in="n3" type="matrix" values="4.0 0 0 0 -0.120  4.0 0 0 0 -0.120  4.0 0 0 0 -0.120  0 0 0 0 1" result="m0"/><feComponentTransfer in="m0" result="m1"><feFuncR type="table" tableValues="0.5 1"/><feFuncG type="table" tableValues="0.5 1"/><feFuncB type="table" tableValues="0.5 1"/></feComponentTransfer><feComposite in="b2" in2="m1" operator="arithmetic" k1="1.15" k2="0" k3="0" k4="0" result="b3"/><feColorMatrix in="b3" type="matrix" values="1 0 0.12 0 0  0 1 0.10 0 0  0 0 1 0 0  0 0 0 1 0" result="b4"/><feComposite in="b4" in2="r1" operator="arithmetic" k1="0" k2="1" k3="1" k4="0" result="cc"/><feGaussianBlur in="cc" stdDeviation="0.6"/></filter>
<clipPath id="c22"><rect x="169.5" y="391.8" width="58.90" height="47.40"/></clipPath>
<filter id="f22" x="0" y="0" width="100%" height="100%" color-interpolation-filters="sRGB"><feTurbulence type="fractalNoise" baseFrequency="0.16" numOctaves="2" seed="23" result="n1"/><feColorMatrix in="n1" type="matrix" values="0 0 0 0 0.000  0 0 0 0 0.000  4.000 0 0 0 -1.680  0 0 0 0 1" result="b1"/><feComponentTransfer in="b1" result="b2"><feFuncB type="table" tableValues="0.02 0.6"/></feComponentTransfer><feTurbulence type="fractalNoise" baseFrequency="0.16" numOctaves="2" seed="40" result="n2"/><feColorMatrix in="n2" type="matrix" values="4 0 0 0 -2.800  0 6 0 0 -7.200  0 0 0 0 0  0 0 0 0 1" result="r0"/><feComponentTransfer in="r0" result="r1"><feFuncR type="table" tableValues="0 0.9"/><feFuncG type="table" tableValues="0 0.85"/></feComponentTransfer><feTurbulence type="turbulence" baseFrequency="0.21" numOctaves="1" seed="63" result="n3"/><feColorMatrix in="n3" type="matrix" values="4.0 0 0 0 -0.120  4.0 0 0 0 -0.120  4.0 0 0 0 -0.120  0 0 0 0 1" result="m0"/><feComponentTransfer in="m0" result="m1"><feFuncR type="table" tableValues="0.5 1"/><feFuncG type="table" tableValues="0.5 1"/><feFuncB type="table" tableValues="0.5 1"/></feComponentTransfer><feComposite in="b2" in2="m1" operator="arithmetic" k1="1.15" k2="0" k3="0" k4="0" result="b3"/><feColorMatrix in="b3" type="matrix" values="1 0 0.12 0 0  0 1 0.10 0 0  0 0 1 0 0  0 0 0 1 0" result="b4"/><feComposite in="b4" in2="r1" operator="arithmetic" k1="0" k2="1" k3="1" k4="0" result="cc"/><feGaussianBlur in="cc" stdDeviation="0.8"/></filter>
<clipPath id="c23"><rect x="231.0" y="391.8" width="58.10" height="47.40"/></clipPath>
<filter id="f23" x="0" y="0" width="100%" height="100%" color-interpolation-filters="sRGB"><feTurbulence type="fractalNoise" baseFrequency="0.16" numOctaves="2" seed="24" result="n1"/><feColorMatrix in="n1" type="matrix" values="0 0 0 0 0.040  0 0 0 0 0.000  3.500 0 0 0 -1.295  0 0 0 0 1" result="b1"/><feComponentTransfer in="b1" result="b2"><feFuncB type="table" tableValues="0.22 0.52"/></feComponentTransfer><feTurbulence type="fractalNoise" baseFrequency="0.14" numOctaves="2" seed="41" result="n2"/><feColorMatrix in="n2" type="matrix" values="3 0 0 0 -2.250  0 6 0 0 -7.200  0 0 0 0 0  0 0 0 0 1" result="r0"/><feComponentTransfer in="r0" result="r1"><feFuncR type="table" tableValues="0 0.6"/><feFuncG type="table" tableValues="0 0.85"/></feComponentTransfer><feTurbulence type="turbulence" baseFrequency="0.21" numOctaves="1" seed="64" result="n3"/><feColorMatrix in="n3" type="matrix" values="4.0 0 0 0 -0.120  4.0 0 0 0 -0.120  4.0 0 0 0 -0.120  0 0 0 0 1" result="m0"/><feComponentTransfer in="m0" result="m1"><feFuncR type="table" tableValues="0.5 1"/><feFuncG type="table" tableValues="0.5 1"/><feFuncB type="table" tableValues="0.5 1"/></feComponentTransfer><feComposite in="b2" in2="m1" operator="arithmetic" k1="1.15" k2="0" k3="0" k4="0" result="b3"/><feColorMatrix in="b3" type="matrix" values="1 0 0.12 0 0  0 1 0.10 0 0  0 0 1 0 0  0 0 0 1 0" result="b4"/><feComposite in="b4" in2="r1" operator="arithmetic" k1="0" k2="1" k3="1" k4="0" result="cc"/><feGaussianBlur in="cc" stdDeviation="0.75"/></filter>
<clipPath id="c24"><rect x="46.3" y="441.8" width="59.20" height="46.20"/></clipPath>
<filter id="f24" x="0" y="0" width="100%" height="100%" color-interpolation-filters="sRGB"><feTurbulence type="fractalNoise" baseFrequency="0.16" numOctaves="2" seed="25" result="n1"/><feColorMatrix in="n1" type="matrix" values="0 0 0 0 0.000  0 0 0 0 0.000  4.000 0 0 0 -1.680  0 0 0 0 1" result="b1"/><feComponentTransfer in="b1" result="b2"><feFuncB type="table" tableValues="0.02 0.62"/></feComponentTransfer><feTurbulence type="fractalNoise" baseFrequency="0.16" numOctaves="2" seed="42" result="n2"/><feColorMatrix in="n2" type="matrix" values="4 0 0 0 -2.800  0 6 0 0 -7.200  0 0 0 0 0  0 0 0 0 1" result="r0"/><feComponentTransfer in="r0" result="r1"><feFuncR type="table" tableValues="0 0.9"/><feFuncG type="table" tableValues="0 0.85"/></feComponentTransfer><feTurbulence type="turbulence" baseFrequency="0.21" numOctaves="1" seed="65" result="n3"/><feColorMatrix in="n3" type="matrix" values="4.0 0 0 0 -0.120  4.0 0 0 0 -0.120  4.0 0 0 0 -0.120  0 0 0 0 1" result="m0"/><feComponentTransfer in="m0" result="m1"><feFuncR type="table" tableValues="0.5 1"/><feFuncG type="table" tableValues="0.5 1"/><feFuncB type="table" tableValues="0.5 1"/></feComponentTransfer><feComposite in="b2" in2="m1" operator="arithmetic" k1="1.15" k2="0" k3="0" k4="0" result="b3"/><feColorMatrix in="b3" type="matrix" values="1 0 0.12 0 0  0 1 0.10 0 0  0 0 1 0 0  0 0 0 1 0" result="b4"/><feComposite in="b4" in2="r1" operator="arithmetic" k1="0" k2="1" k3="1" k4="0" result="cc"/><feGaussianBlur in="cc" stdDeviation="0.8"/></filter>
<clipPath id="c25"><rect x="108.0" y="441.8" width="59.00" height="46.20"/></clipPath>
<filter id="f25" x="0" y="0" width="100%" height="100%" color-interpolation-filters="sRGB"><feTurbulence type="fractalNoise" baseFrequency="0.16" numOctaves="2" seed="26" result="n1"/><feColorMatrix in="n1" type="matrix" values="0 0 0 0 0.000  0 0 0 0 0.000  4.000 0 0 0 -1.520  0 0 0 0 1" result="b1"/><feComponentTransfer in="b1" result="b2"><feFuncB type="table" tableValues="0.1 0.56"/></feComponentTransfer><feTurbulence type="fractalNoise" baseFrequency="0.14" numOctaves="2" seed="43" result="n2"/><feColorMatrix in="n2" type="matrix" values="3 0 0 0 -2.400  0 6 0 0 -7.200  0 0 0 0 0  0 0 0 0 1" result="r0"/><feComponentTransfer in="r0" result="r1"><feFuncR type="table" tableValues="0 0.6"/><feFuncG type="table" tableValues="0 0.85"/></feComponentTransfer><feTurbulence type="turbulence" baseFrequency="0.21" numOctaves="1" seed="66" result="n3"/><feColorMatrix in="n3" type="matrix" values="4.0 0 0 0 -0.120  4.0 0 0 0 -0.120  4.0 0 0 0 -0.120  0 0 0 0 1" result="m0"/><feComponentTransfer in="m0" result="m1"><feFuncR type="table" tableValues="0.5 1"/><feFuncG type="table" tableValues="0.5 1"/><feFuncB type="table" tableValues="0.5 1"/></feComponentTransfer><feComposite in="b2" in2="m1" operator="arithmetic" k1="1.15" k2="0" k3="0" k4="0" result="b3"/><feColorMatrix in="b3" type="matrix" values="1 0 0.12 0 0  0 1 0.10 0 0  0 0 1 0 0  0 0 0 1 0" result="b4"/><feComposite in="b4" in2="r1" operator="arithmetic" k1="0" k2="1" k3="1" k4="0" result="cc"/><feGaussianBlur in="cc" stdDeviation="0.8"/></filter>
<clipPath id="c26"><rect x="169.5" y="441.8" width="58.90" height="46.20"/></clipPath>
<filter id="f26" x="0" y="0" width="100%" height="100%" color-interpolation-filters="sRGB"><feTurbulence type="fractalNoise" baseFrequency="0.16" numOctaves="2" seed="27" result="n1"/><feColorMatrix in="n1" type="matrix" values="0 0 0 0 0.000  0 0 0 0 0.000  4.000 0 0 0 -1.640  0 0 0 0 1" result="b1"/><feComponentTransfer in="b1" result="b2"><feFuncB type="table" tableValues="0.04 0.76"/></feComponentTransfer><feTurbulence type="fractalNoise" baseFrequency="0.16" numOctaves="2" seed="44" result="n2"/><feColorMatrix in="n2" type="matrix" values="5 0 0 0 -3.200  5 0 0 0 -3.350  0 0 0 0 0  0 0 0 0 1" result="r0"/><feComponentTransfer in="r0" result="r1"><feFuncR type="table" tableValues="0 0.85"/><feFuncG type="table" tableValues="0 0.75"/></feComponentTransfer><feTurbulence type="turbulence" baseFrequency="0.21" numOctaves="1" seed="67" result="n3"/><feColorMatrix in="n3" type="matrix" values="4.0 0 0 0 -0.120  4.0 0 0 0 -0.120  4.0 0 0 0 -0.120  0 0 0 0 1" result="m0"/><feComponentTransfer in="m0" result="m1"><feFuncR type="table" tableValues="0.5 1"/><feFuncG type="table" tableValues="0.5 1"/><feFuncB type="table" tableValues="0.5 1"/></feComponentTransfer><feComposite in="b2" in2="m1" operator="arithmetic" k1="1.15" k2="0" k3="0" k4="0" result="b3"/><feColorMatrix in="b3" type="matrix" values="1 0 0.12 0 0  0 1 0.10 0 0  0 0 1 0 0  0 0 0 1 0" result="b4"/><feComposite in="b4" in2="r1" operator="arithmetic" k1="0" k2="1" k3="1" k4="0" result="cc"/><feGaussianBlur in="cc" stdDeviation="0.8"/></filter>
<clipPath id="c27"><rect x="231.0" y="441.8" width="58.10" height="46.20"/></clipPath>
<filter id="f27" x="0" y="0" width="100%" height="100%" color-interpolation-filters="sRGB"><feTurbulence type="fractalNoise" baseFrequency="0.16" numOctaves="2" seed="28" result="n1"/><feColorMatrix in="n1" type="matrix" values="0 0 0 0 0.000  0 0 0 0 0.000  3.500 0 0 0 -1.295  0 0 0 0 1" result="b1"/><feComponentTransfer in="b1" result="b2"><feFuncB type="table" tableValues="0.24 0.64"/></feComponentTransfer><feTurbulence type="fractalNoise" baseFrequency="0.14" numOctaves="2" seed="45" result="n2"/><feColorMatrix in="n2" type="matrix" values="3 0 0 0 -2.100  0 6 0 0 -7.200  0 0 0 0 0  0 0 0 0 1" result="r0"/><feComponentTransfer in="r0" result="r1"><feFuncR type="table" tableValues="0 0.7"/><feFuncG type="table" tableValues="0 0.85"/></feComponentTransfer><feTurbulence type="turbulence" baseFrequency="0.21" numOctaves="1" seed="68" result="n3"/><feColorMatrix in="n3" type="matrix" values="4.0 0 0 0 -0.120  4.0 0 0 0 -0.120  4.0 0 0 0 -0.120  0 0 0 0 1" result="m0"/><feComponentTransfer in="m0" result="m1"><feFuncR type="table" tableValues="0.5 1"/><feFuncG type="table" tableValues="0.5 1"/><feFuncB type="table" tableValues="0.5 1"/></feComponentTransfer><feComposite in="b2" in2="m1" operator="arithmetic" k1="1.15" k2="0" k3="0" k4="0" result="b3"/><feColorMatrix in="b3" type="matrix" values="1 0 0.12 0 0  0 1 0.10 0 0  0 0 1 0 0  0 0 0 1 0" result="b4"/><feComposite in="b4" in2="r1" operator="arithmetic" k1="0" k2="1" k3="1" k4="0" result="cc"/><feGaussianBlur in="cc" stdDeviation="0.6"/></filter>
</defs>
<g clip-path="url(#c0)">
<rect x="48.0" y="64.5" width="63.00" height="57.70" fill="#000" filter="url(#f0)"/>
<g filter="url(#bl)" transform="translate(48.0 64.5)" opacity="1">
<ellipse cx="9.3" cy="46.1" rx="1.72" ry="1.73" fill="#22d8b8" transform="rotate(-30 9.3 46.1)" opacity="0.8"/>
<ellipse cx="6.4" cy="13.3" rx="1.14" ry="1.58" fill="#22e05a" transform="rotate(30 6.4 13.3)" opacity="0.8"/>
<ellipse cx="57.2" cy="51.7" rx="1.05" ry="1.01" fill="#f6e824" transform="rotate(60 57.2 51.7)" opacity="0.91"/>
<ellipse cx="43.0" cy="36.9" rx="1.01" ry="1.29" fill="#22e05a" transform="rotate(60 43.0 36.9)" opacity="0.84"/>
<ellipse cx="44.9" cy="55.6" rx="1.76" ry="1.52" fill="#f6e824" transform="rotate(60 44.9 55.6)"/>
<ellipse cx="59.7" cy="28.0" rx="1.73" ry="2.44" fill="#22d8b8" opacity="0.8"/>
<ellipse cx="21.8" cy="39.4" rx="1.59" ry="1.13" fill="#f6e824" transform="rotate(30 21.8 39.4)" opacity="0.9"/>
<ellipse cx="34.6" cy="3.0" rx="1.64" ry="2.18" fill="#f6e824" transform="rotate(60 34.6 3.0)" opacity="0.78"/>
<ellipse cx="40.0" cy="4.8" rx="1.76" ry="1.48" fill="#f6e824" transform="rotate(90 40.0 4.8)" opacity="0.84"/>
<ellipse cx="3.4" cy="44.8" rx="1.62" ry="1.55" fill="#22e05a" transform="rotate(60 3.4 44.8)" opacity="0.86"/>
<ellipse cx="25.6" cy="44.3" rx="1.58" ry="1.72" fill="#22d8b8" transform="rotate(-30 25.6 44.3)" opacity="0.76"/>
<ellipse cx="29.6" cy="11.6" rx="1.13" ry="1.65" fill="#f6e824" transform="rotate(90 29.6 11.6)" opacity="0.85"/>
<ellipse cx="3.3" cy="51.8" rx="1.23" ry="1.15" fill="#22e05a" transform="rotate(60 3.3 51.8)" opacity="0.86"/>
<ellipse cx="34.7" cy="9.9" rx="1.5" ry="1.09" fill="#22e05a" transform="rotate(90 34.7 9.9)" opacity="0.96"/>
<ellipse cx="50.9" cy="43.1" rx="1.36" ry="1.42" fill="#b4f030" transform="rotate(60 50.9 43.1)" opacity="0.97"/>
<ellipse cx="49.7" cy="39.6" rx="1.65" ry="1.89" fill="#22e05a" transform="rotate(60 49.7 39.6)" opacity="0.99"/>
<ellipse cx="57.7" cy="9.7" rx="1.32" ry="1.93" fill="#ff8a1e" transform="rotate(90 57.7 9.7)" opacity="0.99"/>
<ellipse cx="7.0" cy="37.9" rx="1.38" ry="1.96" fill="#22e05a" transform="rotate(90 7.0 37.9)" opacity="0.85"/>
<ellipse cx="33.8" cy="34.9" rx="1.43" ry="1.46" fill="#f6e824" transform="rotate(60 33.8 34.9)" opacity="0.95"/>
<ellipse cx="28.6" cy="51.7" rx="1.8" ry="1.49" fill="#22e05a" transform="rotate(60 28.6 51.7)"/>
<ellipse cx="35.1" cy="50.2" rx="1.29" ry="1.07" fill="#f2261e" opacity="0.75"/>
<ellipse cx="45.7" cy="49.2" rx="1.47" ry="2.18" fill="#22e05a" transform="rotate(60 45.7 49.2)" opacity="0.9"/>
<ellipse cx="28.6" cy="33.3" rx="1.64" ry="2.12" fill="#ff8a1e" transform="rotate(-30 28.6 33.3)" opacity="0.8"/>
<ellipse cx="50.0" cy="55.8" rx="1.66" ry="1.46" fill="#22d8b8" transform="rotate(-30 50.0 55.8)" opacity="0.83"/>
<ellipse cx="32.2" cy="39.9" rx="1.12" ry="0.78" fill="#f6e824" transform="rotate(-30 32.2 39.9)" opacity="0.93"/>
<ellipse cx="57.2" cy="53.5" rx="1.44" ry="1.49" fill="#ff8a1e" transform="rotate(60 57.2 53.5)"/>
<ellipse cx="35.1" cy="29.3" rx="1.12" ry="1.07" fill="#22e05a" transform="rotate(-30 35.1 29.3)" opacity="0.78"/>
<ellipse cx="57.3" cy="53.6" rx="1.07" ry="1.21" fill="#f2261e" transform="rotate(60 57.3 53.6)" opacity="0.89"/>
<ellipse cx="3.5" cy="39.0" rx="4.68" ry="4.68" fill="#2a2ae0" opacity="0.5"/>
<ellipse cx="60.0" cy="10.4" rx="2.34" ry="2.34" fill="#2a2ae0" opacity="0.6"/>
<ellipse cx="27.0" cy="8.0" rx="2.34" ry="2.34" fill="#2a2ae0" opacity="0.5"/>
<ellipse cx="10.0" cy="47.0" rx="3.12" ry="3.12" fill="#2a2ae0" opacity="0.4"/>
<ellipse cx="45.0" cy="47.0" rx="3.12" ry="2.34" fill="#2a2ae0" opacity="0.4"/>
<ellipse cx="30.0" cy="30.0" rx="2.34" ry="2.34" fill="#2a2ae0" opacity="0.4"/>
<ellipse cx="2.5" cy="9.2" rx="2.5" ry="0.94" fill="#b4f030" transform="rotate(-35.0 2.5 9.2)"/>
<ellipse cx="6.3" cy="15.5" rx="2.5" ry="1.95" fill="#22e05a"/>
<ellipse cx="8.6" cy="4.6" rx="1.56" ry="1.17" fill="#e8309a" transform="rotate(-30.0 8.6 4.6)"/>
<ellipse cx="13.6" cy="11.5" rx="1.72" ry="1.56" fill="#b4f030"/>
<ellipse cx="21.9" cy="10.4" rx="1.95" ry="1.17" fill="#22d8b8"/>
<ellipse cx="25.9" cy="2.9" rx="1.4" ry="1.4" fill="#22e05a"/>
<ellipse cx="31.1" cy="1.4" rx="1.95" ry="1.17" fill="#f6e824"/>
<ellipse cx="36.6" cy="4.0" rx="1.56" ry="1.72" fill="#f6e824"/>
<ellipse cx="34.3" cy="9.8" rx="1.56" ry="1.4" fill="#b4f030"/>
<ellipse cx="35.1" cy="14.4" rx="1.95" ry="1.72" fill="#f6e824"/>
<ellipse cx="49.8" cy="5.5" rx="1.95" ry="2.34" fill="#22e05a"/>
<ellipse cx="49.0" cy="13.8" rx="1.95" ry="1.56" fill="#f2261e"/>
<ellipse cx="50.1" cy="12.1" rx="2.34" ry="1.25" fill="#f6e824" transform="rotate(-20.0 50.1 12.1)"/>
<ellipse cx="39.2" cy="19.4" rx="2.5" ry="2.5" fill="#f2261e"/>
<ellipse cx="39.2" cy="19.2" rx="1.72" ry="1.72" fill="#f6e824"/>
<ellipse cx="38.6" cy="27.0" rx="2.34" ry="2.73" fill="#f2261e"/>
<ellipse cx="17.5" cy="24.0" rx="2.34" ry="2.73" fill="#f2261e" opacity="0.9"/>
<ellipse cx="18.4" cy="21.9" rx="2.34" ry="2.57" fill="#f6e824"/>
<ellipse cx="21.3" cy="26.5" rx="2.73" ry="1.4" fill="#22e05a" transform="rotate(30.0 21.3 26.5)"/>
<ellipse cx="17.9" cy="31.1" rx="1.4" ry="2.34" fill="#22d8b8"/>
<ellipse cx="6.3" cy="28.8" rx="1.17" ry="1.95" fill="#22e05a"/>
<ellipse cx="47.2" cy="26.5" rx="1.4" ry="1.95" fill="#22e05a"/>
<ellipse cx="54.1" cy="28.8" rx="1.72" ry="1.56" fill="#f2261e"/>
<ellipse cx="57.0" cy="27.6" rx="3.12" ry="1.09" fill="#b4f030" transform="rotate(-25.0 57.0 27.6)"/>
<ellipse cx="52.4" cy="37.4" rx="2.5" ry="2.5" fill="#f2261e"/>
<ellipse cx="52.4" cy="37.4" rx="2.03" ry="2.03" fill="#f6e824"/>
<ellipse cx="52.4" cy="37.4" rx="0.86" ry="0.86" fill="#02000a"/>
<ellipse cx="57.6" cy="36.3" rx="1.72" ry="1.72" fill="#f2261e"/>
<ellipse cx="24.8" cy="35.7" rx="2.34" ry="1.95" fill="#f2261e"/>
<ellipse cx="23.6" cy="39.4" rx="1.72" ry="1.56" fill="#7a20c0"/>
<ellipse cx="36.9" cy="37.4" rx="1.17" ry="1.17" fill="#22e05a"/>
<ellipse cx="38.6" cy="43.8" rx="1.56" ry="2.73" fill="#e8309a" transform="rotate(15.0 38.6 43.8)"/>
<ellipse cx="11.5" cy="55.3" rx="1.95" ry="1.56" fill="#f2261e"/>
<ellipse cx="14.4" cy="53.6" rx="3.12" ry="1.56" fill="#f6e824" transform="rotate(-35.0 14.4 53.6)"/>
<ellipse cx="33.4" cy="50.7" rx="1.25" ry="1.09" fill="#22e05a"/>
<ellipse cx="42.6" cy="54.1" rx="1.17" ry="1.17" fill="#f2261e"/>
<ellipse cx="28.0" cy="28.0" rx="0.94" ry="0.94" fill="#22e05a"/>
<ellipse cx="45.0" cy="40.0" rx="0.94" ry="1.17" fill="#22e05a" opacity="0.8"/>
<ellipse cx="9.0" cy="20.0" rx="0.94" ry="0.94" fill="#22d8b8" opacity="0.7"/>
</g>
<g filter="url(#tb)"><rect x="98.00" y="115.60" width="10.0" height="0.85" fill="#fff" opacity="0.95"/><text x="103.00" y="119.80" font-size="3.2" text-anchor="middle" fill="#fff" opacity="0.85">20 μm</text></g>
</g>
<g clip-path="url(#c1)">
<rect x="113.0" y="64.5" width="63.50" height="57.70" fill="#000" filter="url(#f1)"/>
<g filter="url(#bl)" transform="translate(113.0 64.5)" opacity="1">
<ellipse cx="35.2" cy="2.8" rx="1.79" ry="1.66" fill="#22e05a" transform="rotate(30 35.2 2.8)" opacity="0.84"/>
<ellipse cx="44.6" cy="52.3" rx="1.24" ry="1.07" fill="#22d8b8" opacity="0.87"/>
<ellipse cx="20.9" cy="3.0" rx="1.08" ry="1.25" fill="#22e05a" transform="rotate(-30 20.9 3.0)" opacity="0.94"/>
<ellipse cx="18.6" cy="8.4" rx="1.56" ry="1.85" fill="#22e05a" transform="rotate(90 18.6 8.4)" opacity="0.82"/>
<ellipse cx="51.5" cy="38.0" rx="1.56" ry="1.4" fill="#f6e824" transform="rotate(-30 51.5 38.0)" opacity="0.93"/>
<ellipse cx="1.9" cy="30.9" rx="1.2" ry="1.5" fill="#f2261e" transform="rotate(-30 1.9 30.9)" opacity="0.83"/>
<ellipse cx="19.5" cy="32.8" rx="1.16" ry="1.58" fill="#b4f030" transform="rotate(90 19.5 32.8)" opacity="0.93"/>
<ellipse cx="20.8" cy="16.3" rx="1.6" ry="1.83" fill="#22d8b8" transform="rotate(30 20.8 16.3)" opacity="0.94"/>
<ellipse cx="5.6" cy="48.5" rx="1.0" ry="1.08" fill="#22e05a" transform="rotate(30 5.6 48.5)" opacity="0.82"/>
<ellipse cx="36.6" cy="36.0" rx="1.48" ry="1.12" fill="#b4f030" transform="rotate(-30 36.6 36.0)" opacity="0.76"/>
<ellipse cx="46.0" cy="46.4" rx="1.32" ry="1.64" fill="#f6e824" opacity="0.82"/>
<ellipse cx="57.3" cy="40.2" rx="1.4" ry="1.26" fill="#f6e824" opacity="0.92"/>
<ellipse cx="58.9" cy="31.2" rx="1.76" ry="1.97" fill="#22d8b8" transform="rotate(-30 58.9 31.2)" opacity="0.77"/>
<ellipse cx="21.1" cy="12.8" rx="1.21" ry="1.75" fill="#b4f030" transform="rotate(-30 21.1 12.8)" opacity="0.96"/>
<ellipse cx="4.4" cy="1.8" rx="1.43" ry="1.5" fill="#f6e824" opacity="0.77"/>
<ellipse cx="25.2" cy="44.1" rx="1.41" ry="1.81" fill="#22e05a" opacity="0.81"/>
<ellipse cx="15.9" cy="38.4" rx="1.77" ry="2.14" fill="#22e05a" transform="rotate(90 15.9 38.4)" opacity="0.78"/>
<ellipse cx="10.3" cy="33.6" rx="1.47" ry="1.86" fill="#22e05a" opacity="0.91"/>
<ellipse cx="20.6" cy="32.4" rx="1.61" ry="1.36" fill="#22e05a" opacity="0.89"/>
<ellipse cx="43.4" cy="24.3" rx="1.4" ry="1.08" fill="#22e05a" transform="rotate(60 43.4 24.3)" opacity="0.82"/>
<ellipse cx="34.7" cy="55.4" rx="1.16" ry="1.28" fill="#22d8b8" transform="rotate(30 34.7 55.4)" opacity="0.9"/>
<ellipse cx="57.8" cy="36.5" rx="1.19" ry="1.74" fill="#f6e824" transform="rotate(30 57.8 36.5)" opacity="0.93"/>
<ellipse cx="10.2" cy="40.7" rx="1.76" ry="2.39" fill="#22e05a" transform="rotate(-30 10.2 40.7)" opacity="0.99"/>
<ellipse cx="61.4" cy="28.8" rx="1.15" ry="0.94" fill="#f2261e" transform="rotate(-30 61.4 28.8)" opacity="0.77"/>
<ellipse cx="17.5" cy="37.1" rx="1.65" ry="1.32" fill="#f6e824" transform="rotate(-30 17.5 37.1)" opacity="0.76"/>
<ellipse cx="13.0" cy="26.5" rx="1.72" ry="2.56" fill="#f6e824" opacity="0.97"/>
<ellipse cx="28.5" cy="5.7" rx="1.4" ry="1.89" fill="#ff8a1e" transform="rotate(60 28.5 5.7)" opacity="0.97"/>
<ellipse cx="22.6" cy="5.7" rx="1.69" ry="1.42" fill="#f6e824"/>
<ellipse cx="7.9" cy="18.0" rx="1.19" ry="1.12" fill="#f2261e" transform="rotate(-30 7.9 18.0)" opacity="0.84"/>
<ellipse cx="36.1" cy="31.9" rx="1.35" ry="1.54" fill="#f6e824" transform="rotate(90 36.1 31.9)" opacity="0.89"/>
<ellipse cx="14.9" cy="10.5" rx="1.44" ry="1.24" fill="#22e05a" transform="rotate(60 14.9 10.5)" opacity="0.95"/>
<ellipse cx="52.4" cy="48.2" rx="1.65" ry="1.82" fill="#f6e824" transform="rotate(30 52.4 48.2)" opacity="0.81"/>
<ellipse cx="30.0" cy="10.0" rx="3.9" ry="3.9" fill="#2a2ae0" opacity="0.5"/>
<ellipse cx="8.0" cy="20.0" rx="3.12" ry="3.12" fill="#2a2ae0" opacity="0.5"/>
<ellipse cx="56.0" cy="12.0" rx="3.12" ry="3.12" fill="#2a2ae0" opacity="0.4"/>
<ellipse cx="30.0" cy="50.0" rx="3.9" ry="3.12" fill="#2a2ae0" opacity="0.4"/>
<ellipse cx="50.0" cy="22.0" rx="2.34" ry="2.34" fill="#2a2ae0" opacity="0.4"/>
<ellipse cx="3.5" cy="5.8" rx="1.79" ry="2.03" fill="#f2261e"/>
<ellipse cx="3.5" cy="5.8" rx="0.78" ry="0.94" fill="#02000a" opacity="0.7"/>
<ellipse cx="3.5" cy="12.7" rx="0.94" ry="0.94" fill="#fff4d8" opacity="0.6"/>
<ellipse cx="11.5" cy="8.6" rx="1.17" ry="1.17" fill="#22e05a"/>
<ellipse cx="35.7" cy="6.3" rx="1.56" ry="2.73" fill="#ff8a1e"/>
<ellipse cx="35.7" cy="5.0" rx="0.94" ry="1.4" fill="#f6e824"/>
<ellipse cx="27.6" cy="15.0" rx="1.17" ry="1.17" fill="#22e05a"/>
<ellipse cx="34.5" cy="19.0" rx="1.17" ry="2.34" fill="#b4f030"/>
<ellipse cx="49.5" cy="15.0" rx="2.34" ry="1.95" fill="#ff8a1e"/>
<ellipse cx="51.8" cy="17.5" rx="1.56" ry="1.56" fill="#f6e824"/>
<ellipse cx="46.0" cy="27.6" rx="1.56" ry="3.12" fill="#ff8a1e"/>
<ellipse cx="46.0" cy="26.5" rx="0.94" ry="1.95" fill="#f6e824"/>
<ellipse cx="51.2" cy="31.1" rx="1.79" ry="1.79" fill="#fff4d8" opacity="0.9"/>
<ellipse cx="51.2" cy="31.1" rx="0.86" ry="0.86" fill="#02000a"/>
<ellipse cx="59.8" cy="25.3" rx="1.56" ry="1.56" fill="#ff8a1e"/>
<ellipse cx="16.0" cy="34.0" rx="2.5" ry="2.34" fill="#f2261e"/>
<ellipse cx="17.8" cy="32.2" rx="2.73" ry="3.12" fill="#f6e824"/>
<ellipse cx="2.3" cy="29.9" rx="1.95" ry="2.73" fill="#22e05a"/>
<ellipse cx="8.6" cy="27.0" rx="1.4" ry="1.4" fill="#22e05a"/>
<ellipse cx="17.3" cy="24.7" rx="1.4" ry="1.4" fill="#22e05a"/>
<ellipse cx="4.6" cy="39.1" rx="2.5" ry="2.34" fill="#f2261e"/>
<ellipse cx="8.1" cy="42.6" rx="3.51" ry="2.73" fill="#f6e824"/>
<ellipse cx="12.7" cy="44.8" rx="1.95" ry="1.56" fill="#e8309a"/>
<ellipse cx="14.4" cy="38.0" rx="1.56" ry="1.56" fill="#22e05a"/>
<ellipse cx="23.0" cy="39.1" rx="1.17" ry="1.17" fill="#22e05a"/>
<ellipse cx="24.2" cy="34.5" rx="1.17" ry="0.94" fill="#22d8b8"/>
<ellipse cx="32.2" cy="43.2" rx="1.56" ry="1.56" fill="#22e05a"/>
<ellipse cx="48.3" cy="41.0" rx="2.5" ry="2.34" fill="#f2261e"/>
<ellipse cx="44.3" cy="38.5" rx="4.29" ry="3.51" fill="#f6e824"/>
<ellipse cx="46.0" cy="43.5" rx="2.34" ry="1.56" fill="#e8309a"/>
<ellipse cx="42.6" cy="48.3" rx="1.95" ry="3.12" fill="#22e05a"/>
<ellipse cx="54.1" cy="50.6" rx="4.68" ry="3.12" fill="#f6e824"/>
<ellipse cx="55.0" cy="51.0" rx="2.34" ry="1.56" fill="#fff4d8" opacity="0.8"/>
<ellipse cx="59.8" cy="46.0" rx="1.56" ry="2.34" fill="#ff8a1e"/>
<ellipse cx="8.6" cy="51.8" rx="2.73" ry="1.95" fill="#b4f030"/>
<ellipse cx="18.4" cy="52.4" rx="1.17" ry="1.17" fill="#22e05a"/>
<ellipse cx="39.1" cy="21.9" rx="2.73" ry="1.17" fill="#e8309a" transform="rotate(40.0 39.1 21.9)"/>
<ellipse cx="55.2" cy="5.2" rx="1.17" ry="1.17" fill="#159a8a"/>
<ellipse cx="24.0" cy="28.0" rx="1.17" ry="1.17" fill="#22e05a" opacity="0.8"/>
<ellipse cx="29.0" cy="33.0" rx="0.94" ry="0.94" fill="#f6e824" opacity="0.8"/>
<ellipse cx="60.0" cy="38.0" rx="1.17" ry="1.56" fill="#f2261e"/>
</g>
<g filter="url(#tb)"><rect x="163.50" y="115.60" width="10.0" height="0.85" fill="#fff" opacity="0.95"/><text x="168.50" y="119.80" font-size="3.2" text-anchor="middle" fill="#fff" opacity="0.85">20 μm</text></g>
</g>
<g clip-path="url(#c2)">
<rect x="178.3" y="64.5" width="63.00" height="57.70" fill="#000" filter="url(#f2)"/>
<g filter="url(#bl)" transform="translate(178.3 64.5)" opacity="0.88">
<ellipse cx="34.6" cy="11.8" rx="0.93" ry="0.86" fill="#f2261e" transform="rotate(90 34.6 11.8)" opacity="0.96"/>
<ellipse cx="22.9" cy="27.2" rx="1.31" ry="1.89" fill="#22d8b8" transform="rotate(30 22.9 27.2)" opacity="0.9"/>
<ellipse cx="51.6" cy="19.1" rx="0.88" ry="1.02" fill="#f2261e" transform="rotate(-30 51.6 19.1)" opacity="0.99"/>
<ellipse cx="41.1" cy="32.4" rx="0.95" ry="1.18" fill="#ff8a1e" transform="rotate(-30 41.1 32.4)" opacity="0.91"/>
<ellipse cx="57.7" cy="17.8" rx="1.0" ry="1.06" fill="#ff8a1e" transform="rotate(60 57.7 17.8)" opacity="0.94"/>
<ellipse cx="45.1" cy="24.0" rx="1.22" ry="1.13" fill="#f2261e" transform="rotate(90 45.1 24.0)" opacity="0.77"/>
<ellipse cx="1.6" cy="9.8" rx="0.82" ry="0.84" fill="#22d8b8" transform="rotate(30 1.6 9.8)" opacity="0.93"/>
<ellipse cx="10.2" cy="39.5" rx="1.05" ry="1.54" fill="#f6e824" transform="rotate(90 10.2 39.5)" opacity="0.98"/>
<ellipse cx="52.7" cy="26.8" rx="1.2" ry="1.4" fill="#f2261e" transform="rotate(60 52.7 26.8)" opacity="0.83"/>
<ellipse cx="17.8" cy="4.3" rx="0.88" ry="1.23" fill="#f2261e" opacity="0.82"/>
<ellipse cx="8.0" cy="8.0" rx="5.02" ry="4.31" fill="#2a2ae0" opacity="0.5"/>
<ellipse cx="6.0" cy="30.0" rx="3.59" ry="3.59" fill="#2a2ae0" opacity="0.4"/>
<ellipse cx="55.0" cy="20.0" rx="3.59" ry="3.59" fill="#2a2ae0" opacity="0.4"/>
<ellipse cx="34.6" cy="20.7" rx="2.15" ry="2.15" fill="#f2261e"/>
<ellipse cx="32.3" cy="30.0" rx="2.87" ry="1.08" fill="#ff8a1e"/>
<ellipse cx="19.6" cy="35.7" rx="3.95" ry="2.96" fill="#f2261e" fill-opacity="0.12" stroke="#f2261e" stroke-width="1.3" stroke-dasharray="14.4 5.0" stroke-dashoffset="4.3"/>
<ellipse cx="5.8" cy="21.9" rx="2.51" ry="1.08" fill="#f2261e" transform="rotate(-40.0 5.8 21.9)"/>
<ellipse cx="4.6" cy="43.8" rx="3.95" ry="2.51" fill="#f2261e" fill-opacity="0.12" stroke="#f2261e" stroke-width="1.3" stroke-dasharray="13.4 4.7" stroke-dashoffset="3.6" transform="rotate(-30.0 4.6 43.8)"/>
<ellipse cx="28.8" cy="42.6" rx="2.51" ry="1.44" fill="#f2261e"/>
<ellipse cx="44.9" cy="46.0" rx="3.95" ry="2.96" fill="#f2261e" fill-opacity="0.12" stroke="#f2261e" stroke-width="1.3" stroke-dasharray="14.4 5.0" stroke-dashoffset="2.3"/>
<ellipse cx="43.8" cy="28.8" rx="1.79" ry="2.15" fill="#f2261e"/>
<ellipse cx="25.3" cy="6.9" rx="1.08" ry="2.87" fill="#e8309a" transform="rotate(20.0 25.3 6.9)"/>
<ellipse cx="39.2" cy="8.0" rx="2.15" ry="1.08" fill="#e8309a" transform="rotate(30.0 39.2 8.0)"/>
<ellipse cx="15.6" cy="46.0" rx="1.29" ry="1.29" fill="#22d8b8"/>
<ellipse cx="17.3" cy="29.4" rx="1.36" ry="1.36" fill="#fff4d8"/>
<ellipse cx="17.3" cy="29.4" rx="0.57" ry="0.57" fill="#02000a"/>
<ellipse cx="24.8" cy="21.3" rx="1.08" ry="1.29" fill="#fff4d8" opacity="0.8"/>
<ellipse cx="34.6" cy="51.8" rx="2.96" ry="1.98" fill="#f2261e" fill-opacity="0.12" stroke="#f2261e" stroke-width="1.3" stroke-dasharray="10.3 3.6" stroke-dashoffset="7.6"/>
<ellipse cx="14.4" cy="55.9" rx="1.44" ry="1.44" fill="#e8309a"/>
<ellipse cx="53.0" cy="5.8" rx="1.79" ry="1.79" fill="#f2261e"/>
<ellipse cx="57.6" cy="34.6" rx="1.44" ry="1.44" fill="#f2261e"/>
<ellipse cx="27.0" cy="33.0" rx="1.79" ry="2.87" fill="#f2261e" transform="rotate(20.0 27.0 33.0)" opacity="0.8"/>
<ellipse cx="37.0" cy="25.0" rx="1.08" ry="2.15" fill="#ff8a1e" opacity="0.8"/>
</g>
<g filter="url(#tb)"><rect x="228.30" y="115.60" width="10.0" height="0.85" fill="#fff" opacity="0.95"/><text x="233.30" y="119.80" font-size="3.2" text-anchor="middle" fill="#fff" opacity="0.85">20 μm</text></g>
</g>
<g clip-path="url(#c3)">
<rect x="243.0" y="64.5" width="61.50" height="57.70" fill="#000" filter="url(#f3)"/>
<g filter="url(#bl)" transform="translate(243.0 64.5)" opacity="0.93">
<ellipse cx="14.2" cy="19.4" rx="1.33" ry="1.19" fill="#ff8a1e" transform="rotate(60 14.2 19.4)"/>
<ellipse cx="50.4" cy="41.8" rx="1.59" ry="1.78" fill="#b4f030" transform="rotate(90 50.4 41.8)" opacity="0.78"/>
<ellipse cx="54.4" cy="5.8" rx="1.17" ry="1.32" fill="#f2261e" transform="rotate(-30 54.4 5.8)" opacity="0.83"/>
<ellipse cx="4.1" cy="15.0" rx="1.47" ry="1.53" fill="#22d8b8" transform="rotate(30 4.1 15.0)" opacity="0.79"/>
<ellipse cx="5.7" cy="40.4" rx="1.44" ry="1.19" fill="#22e05a" transform="rotate(90 5.7 40.4)" opacity="0.78"/>
<ellipse cx="55.6" cy="14.8" rx="1.16" ry="1.4" fill="#b4f030" transform="rotate(30 55.6 14.8)" opacity="0.89"/>
<ellipse cx="25.7" cy="40.8" rx="1.0" ry="1.44" fill="#f6e824" transform="rotate(-30 25.7 40.8)"/>
<ellipse cx="5.5" cy="1.8" rx="1.41" ry="1.62" fill="#ff8a1e" transform="rotate(30 5.5 1.8)" opacity="0.78"/>
<ellipse cx="40.6" cy="18.3" rx="1.58" ry="2.0" fill="#f6e824" transform="rotate(60 40.6 18.3)" opacity="0.78"/>
<ellipse cx="7.3" cy="2.8" rx="0.97" ry="1.44" fill="#f2261e" transform="rotate(90 7.3 2.8)" opacity="0.79"/>
<ellipse cx="33.0" cy="9.3" rx="1.5" ry="2.2" fill="#f2261e" transform="rotate(90 33.0 9.3)" opacity="0.81"/>
<ellipse cx="34.2" cy="21.2" rx="1.26" ry="1.01" fill="#ff8a1e" opacity="0.75"/>
<ellipse cx="12.4" cy="44.0" rx="1.57" ry="2.02" fill="#22d8b8" transform="rotate(60 12.4 44.0)"/>
<ellipse cx="5.6" cy="29.8" rx="1.5" ry="1.87" fill="#f2261e" transform="rotate(-30 5.6 29.8)" opacity="0.88"/>
<ellipse cx="1.9" cy="18.2" rx="1.47" ry="1.48" fill="#22e05a" transform="rotate(60 1.9 18.2)" opacity="0.97"/>
<ellipse cx="43.8" cy="36.5" rx="1.07" ry="1.4" fill="#f6e824" transform="rotate(90 43.8 36.5)" opacity="0.86"/>
<ellipse cx="49.5" cy="10.8" rx="1.19" ry="1.36" fill="#22e05a" transform="rotate(90 49.5 10.8)" opacity="0.88"/>
<ellipse cx="44.6" cy="38.4" rx="1.05" ry="1.01" fill="#ff8a1e" transform="rotate(90 44.6 38.4)" opacity="0.9"/>
<ellipse cx="55.8" cy="1.8" rx="1.43" ry="1.93" fill="#f6e824" transform="rotate(60 55.8 1.8)" opacity="0.93"/>
<ellipse cx="26.7" cy="42.4" rx="1.05" ry="1.24" fill="#22d8b8" transform="rotate(60 26.7 42.4)" opacity="0.92"/>
<ellipse cx="33.1" cy="28.1" rx="1.44" ry="1.49" fill="#22e05a" opacity="0.94"/>
<ellipse cx="38.8" cy="22.1" rx="1.42" ry="1.92" fill="#22e05a" transform="rotate(90 38.8 22.1)" opacity="0.93"/>
<ellipse cx="17.3" cy="8.6" rx="1.93" ry="1.93" fill="#b4f030"/>
<ellipse cx="17.3" cy="8.6" rx="0.82" ry="0.82" fill="#02000a" opacity="0.8"/>
<ellipse cx="24.7" cy="9.8" rx="1.48" ry="1.48" fill="#22e05a"/>
<ellipse cx="45.5" cy="4.6" rx="1.85" ry="1.33" fill="#22d8b8"/>
<ellipse cx="17.8" cy="15.0" rx="2.96" ry="3.71" fill="#f2261e"/>
<ellipse cx="22.4" cy="24.7" rx="1.48" ry="1.48" fill="#f6e824"/>
<ellipse cx="19.0" cy="21.3" rx="1.33" ry="1.33" fill="#22d8b8"/>
<ellipse cx="40.3" cy="21.9" rx="4.07" ry="3.06" fill="#ff4a6a" fill-opacity="0.12" stroke="#ff4a6a" stroke-width="1.3" stroke-dasharray="14.8 5.1" stroke-dashoffset="7.8"/>
<ellipse cx="40.3" cy="21.5" rx="1.11" ry="0.89" fill="#fff4d8" opacity="0.8"/>
<ellipse cx="34.5" cy="32.2" rx="3.71" ry="1.48" fill="#f2261e" transform="rotate(-50.0 34.5 32.2)"/>
<ellipse cx="55.2" cy="26.5" rx="5.10" ry="2.04" fill="#f2261e" fill-opacity="0.12" stroke="#f2261e" stroke-width="1.3" stroke-dasharray="14.8 5.1" stroke-dashoffset="5.9" transform="rotate(35.0 55.2 26.5)"/>
<ellipse cx="46.0" cy="17.3" rx="1.11" ry="2.96" fill="#ff8a1e"/>
<ellipse cx="33.4" cy="10.4" rx="1.85" ry="2.96" fill="#f2261e"/>
<ellipse cx="28.2" cy="43.2" rx="4.26" ry="4.26" fill="#f2261e" fill-opacity="0.12" stroke="#f2261e" stroke-width="1.3" stroke-dasharray="17.7 6.1" stroke-dashoffset="7.0"/>
<ellipse cx="28.2" cy="43.2" rx="2.45" ry="2.45" fill="#f6e824"/>
<ellipse cx="28.2" cy="43.2" rx="1.11" ry="1.11" fill="#02000a"/>
<ellipse cx="15.0" cy="48.3" rx="1.85" ry="1.85" fill="#f6e824"/>
<ellipse cx="21.3" cy="50.6" rx="1.48" ry="1.48" fill="#f6e824"/>
<ellipse cx="20.1" cy="53.5" rx="1.48" ry="1.11" fill="#f6e824"/>
<ellipse cx="8.1" cy="52.9" rx="1.48" ry="1.48" fill="#22e05a"/>
<ellipse cx="5.2" cy="49.5" rx="1.11" ry="1.11" fill="#22e05a"/>
<ellipse cx="5.2" cy="27.6" rx="1.11" ry="1.11" fill="#22e05a"/>
<ellipse cx="8.6" cy="45.5" rx="1.48" ry="2.22" fill="#ff8a1e"/>
<ellipse cx="11.5" cy="28.8" rx="1.48" ry="3.71" fill="#f2261e" transform="rotate(20.0 11.5 28.8)"/>
<ellipse cx="4.6" cy="34.5" rx="4.07" ry="2.04" fill="#f2261e" fill-opacity="0.12" stroke="#f2261e" stroke-width="1.3" stroke-dasharray="12.7 4.4" stroke-dashoffset="5.7" transform="rotate(30.0 4.6 34.5)"/>
<ellipse cx="55.8" cy="44.9" rx="1.11" ry="1.11" fill="#22e05a"/>
<ellipse cx="27.6" cy="27.6" rx="0.89" ry="0.89" fill="#f6e824"/>
<ellipse cx="3.5" cy="4.6" rx="2.22" ry="2.22" fill="#f2261e"/>
<ellipse cx="59.8" cy="15.0" rx="1.48" ry="1.48" fill="#e8309a"/>
<ellipse cx="49.0" cy="50.0" rx="0.89" ry="0.89" fill="#22d8b8"/>
<ellipse cx="24.0" cy="38.0" rx="1.48" ry="1.48" fill="#b4f030" opacity="0.8"/>
</g>
<g filter="url(#tb)"><rect x="291.50" y="115.60" width="10.0" height="0.85" fill="#fff" opacity="0.95"/><text x="296.50" y="119.80" font-size="3.2" text-anchor="middle" fill="#fff" opacity="0.85">20 μm</text></g>
</g>
<g clip-path="url(#c4)">
<rect x="306.3" y="64.5" width="62.40" height="57.70" fill="#000" filter="url(#f4)"/>
<g filter="url(#bl)" transform="translate(306.3 64.5)" opacity="1">
<ellipse cx="2.6" cy="25.5" rx="1.21" ry="1.25" fill="#f2261e" transform="rotate(90 2.6 25.5)" opacity="0.95"/>
<ellipse cx="14.6" cy="14.7" rx="1.57" ry="1.22" fill="#f2261e" transform="rotate(90 14.6 14.7)" opacity="0.78"/>
<ellipse cx="22.7" cy="2.5" rx="1.68" ry="2.26" fill="#e8309a" opacity="0.76"/>
<ellipse cx="5.5" cy="12.9" rx="1.49" ry="1.58" fill="#f2261e" transform="rotate(60 5.5 12.9)" opacity="0.79"/>
<ellipse cx="2.1" cy="9.4" rx="1.4" ry="1.32" fill="#f2261e" transform="rotate(30 2.1 9.4)" opacity="0.78"/>
<ellipse cx="42.7" cy="34.4" rx="1.47" ry="2.08" fill="#f2261e" transform="rotate(90 42.7 34.4)" opacity="0.8"/>
<ellipse cx="39.5" cy="32.8" rx="1.4" ry="1.4" fill="#f2261e" opacity="0.89"/>
<ellipse cx="14.9" cy="37.2" rx="1.04" ry="1.5" fill="#f2261e" opacity="0.95"/>
<ellipse cx="29.8" cy="12.3" rx="3.9" ry="3.51" fill="#f2261e"/>
<ellipse cx="29.0" cy="11.0" rx="1.95" ry="1.56" fill="#e8309a" opacity="0.8"/>
<ellipse cx="33.5" cy="28.5" rx="2.73" ry="3.12" fill="#e8309a"/>
<ellipse cx="33.5" cy="28.5" rx="1.17" ry="1.4" fill="#2a2ae0" opacity="0.7"/>
<ellipse cx="56.0" cy="27.0" rx="2.34" ry="3.12" fill="#f2261e" opacity="0.9"/>
<ellipse cx="52.0" cy="20.0" rx="1.95" ry="1.95" fill="#e8309a" opacity="0.8"/>
<ellipse cx="12.0" cy="18.5" rx="1.95" ry="1.95" fill="#e8309a" opacity="0.8"/>
<ellipse cx="3.5" cy="2.0" rx="2.34" ry="1.56" fill="#f2261e"/>
<ellipse cx="16.0" cy="2.0" rx="1.95" ry="1.56" fill="#f2261e" opacity="0.9"/>
<ellipse cx="19.0" cy="33.0" rx="2.34" ry="0.78" fill="#fff4d8" transform="rotate(45.0 19.0 33.0)" opacity="0.7"/>
<ellipse cx="20.5" cy="34.0" rx="2.34" ry="0.78" fill="#a05a20" transform="rotate(-45.0 20.5 34.0)"/>
<ellipse cx="35.0" cy="31.6" rx="0.7" ry="1.72" fill="#b4f030" transform="rotate(15.0 35.0 31.6)"/>
<ellipse cx="23.5" cy="50.0" rx="1.95" ry="2.34" fill="#f2261e" transform="rotate(-30.0 23.5 50.0)" opacity="0.8"/>
<ellipse cx="43.5" cy="37.0" rx="1.95" ry="1.56" fill="#f2261e" opacity="0.7"/>
<ellipse cx="2.0" cy="25.0" rx="1.56" ry="1.95" fill="#ff8a1e" opacity="0.8"/>
<ellipse cx="58.0" cy="10.0" rx="0.94" ry="0.94" fill="#b4f030"/>
<ellipse cx="45.0" cy="8.0" rx="1.56" ry="1.56" fill="#f2261e" opacity="0.6"/>
<ellipse cx="8.0" cy="40.0" rx="1.56" ry="1.17" fill="#f2261e" opacity="0.6"/>
</g>
<g filter="url(#tb)"><rect x="355.70" y="115.60" width="10.0" height="0.85" fill="#fff" opacity="0.95"/><text x="360.70" y="119.80" font-size="3.2" text-anchor="middle" fill="#fff" opacity="0.85">20 μm</text></g>
</g>
<g clip-path="url(#c5)">
<rect x="48.0" y="124.4" width="63.00" height="58.90" fill="#000" filter="url(#f5)"/>
<g filter="url(#bl)" transform="translate(48.0 124.4)" opacity="1">
<ellipse cx="18.1" cy="45.6" rx="1.19" ry="1.26" fill="#b4f030" transform="rotate(60 18.1 45.6)" opacity="0.99"/>
<ellipse cx="51.4" cy="6.8" rx="1.17" ry="1.28" fill="#22e05a" transform="rotate(60 51.4 6.8)" opacity="0.96"/>
<ellipse cx="36.7" cy="43.1" rx="1.08" ry="1.62" fill="#b4f030" opacity="0.9"/>
<ellipse cx="26.1" cy="37.7" rx="0.78" ry="0.79" fill="#ff8a1e" transform="rotate(60 26.1 37.7)" opacity="0.88"/>
<ellipse cx="42.3" cy="51.5" rx="0.77" ry="0.89" fill="#22e05a" opacity="0.89"/>
<ellipse cx="41.5" cy="40.5" rx="1.25" ry="1.7" fill="#b4f030" transform="rotate(-30 41.5 40.5)" opacity="0.79"/>
<ellipse cx="49.0" cy="52.8" rx="1.16" ry="0.86" fill="#ff8a1e" transform="rotate(90 49.0 52.8)" opacity="0.95"/>
<ellipse cx="19.3" cy="54.4" rx="1.14" ry="1.32" fill="#b4f030" transform="rotate(30 19.3 54.4)" opacity="0.94"/>
<ellipse cx="16.5" cy="28.4" rx="0.79" ry="0.91" fill="#f6e824" opacity="0.83"/>
<ellipse cx="3.6" cy="22.7" rx="1.15" ry="1.4" fill="#ff8a1e" transform="rotate(60 3.6 22.7)" opacity="0.82"/>
<ellipse cx="41.2" cy="33.1" rx="1.11" ry="0.88" fill="#ff8a1e" transform="rotate(90 41.2 33.1)" opacity="0.9"/>
<ellipse cx="60.3" cy="49.1" rx="1.04" ry="1.17" fill="#b4f030" transform="rotate(-30 60.3 49.1)" opacity="0.78"/>
<ellipse cx="51.9" cy="13.2" rx="1.06" ry="1.42" fill="#b4f030" transform="rotate(60 51.9 13.2)" opacity="0.89"/>
<ellipse cx="51.4" cy="33.6" rx="1.02" ry="1.09" fill="#f6e824" opacity="0.88"/>
<ellipse cx="58.9" cy="29.2" rx="1.17" ry="1.21" fill="#e8309a" transform="rotate(-30 58.9 29.2)" opacity="0.87"/>
<ellipse cx="1.9" cy="24.3" rx="0.98" ry="1.43" fill="#f6e824" transform="rotate(60 1.9 24.3)" opacity="0.94"/>
<ellipse cx="43.2" cy="27.6" rx="2.25" ry="1.76" fill="#f6e824"/>
<ellipse cx="44.5" cy="27.6" rx="1.26" ry="1.4" fill="#ff8a1e" opacity="0.8"/>
<ellipse cx="17.9" cy="27.6" rx="1.26" ry="1.4" fill="#ff8a1e"/>
<ellipse cx="30.0" cy="12.7" rx="1.05" ry="1.05" fill="#ff8a1e"/>
<ellipse cx="35.1" cy="17.9" rx="1.26" ry="1.26" fill="#ff4a6a"/>
<ellipse cx="15.0" cy="21.3" rx="0.84" ry="1.76" fill="#ff8a1e"/>
<ellipse cx="21.3" cy="38.6" rx="1.4" ry="1.4" fill="#f6e824"/>
<ellipse cx="20.6" cy="39.4" rx="0.98" ry="0.84" fill="#ff8a1e"/>
<ellipse cx="28.2" cy="44.4" rx="1.05" ry="1.76" fill="#b4f030" transform="rotate(15.0 28.2 44.4)"/>
<ellipse cx="35.7" cy="46.1" rx="1.4" ry="1.4" fill="#e8309a" opacity="0.8"/>
<ellipse cx="31.7" cy="53.6" rx="2.11" ry="3.16" fill="#f6e824" transform="rotate(20.0 31.7 53.6)"/>
<ellipse cx="38.6" cy="55.9" rx="1.4" ry="1.4" fill="#ff8a1e"/>
<ellipse cx="9.2" cy="36.9" rx="1.05" ry="1.05" fill="#b4f030"/>
<ellipse cx="12.1" cy="33.4" rx="0.7" ry="0.7" fill="#22e05a"/>
<ellipse cx="5.8" cy="4.6" rx="1.4" ry="1.05" fill="#159a8a"/>
<ellipse cx="57.6" cy="3.5" rx="1.26" ry="1.05" fill="#fff4d8" opacity="0.7"/>
<ellipse cx="53.0" cy="34.0" rx="1.05" ry="1.05" fill="#ff8a1e"/>
<ellipse cx="18.4" cy="15.0" rx="1.4" ry="1.4" fill="#7a20c0" opacity="0.8"/>
<ellipse cx="46.7" cy="20.7" rx="0.84" ry="0.84" fill="#22e05a" opacity="0.7"/>
<ellipse cx="33.0" cy="47.0" rx="0.84" ry="1.05" fill="#ff8a1e"/>
<ellipse cx="2.0" cy="28.0" rx="0.7" ry="1.4" fill="#22d8b8" opacity="0.6"/>
</g>
<g filter="url(#tb)"><rect x="98.00" y="176.70" width="10.0" height="0.85" fill="#fff" opacity="0.95"/><text x="103.00" y="180.90" font-size="3.2" text-anchor="middle" fill="#fff" opacity="0.85">20 μm</text></g>
</g>
<g clip-path="url(#c6)">
<rect x="113.0" y="124.4" width="63.50" height="58.90" fill="#000" filter="url(#f6)"/>
<g filter="url(#bl)" transform="translate(113.0 124.4)" opacity="1">
<ellipse cx="48.3" cy="5.4" rx="0.97" ry="0.91" fill="#22d8b8" opacity="0.97"/>
<ellipse cx="14.9" cy="55.7" rx="0.86" ry="1.18" fill="#f6e824" transform="rotate(90 14.9 55.7)" opacity="0.94"/>
<ellipse cx="14.5" cy="11.3" rx="1.21" ry="1.59" fill="#22e05a" opacity="0.83"/>
<ellipse cx="7.2" cy="51.2" rx="0.83" ry="1.21" fill="#22d8b8" opacity="0.76"/>
<ellipse cx="30.7" cy="9.1" rx="1.11" ry="1.59" fill="#22e05a" transform="rotate(90 30.7 9.1)" opacity="0.96"/>
<ellipse cx="13.7" cy="42.9" rx="0.88" ry="1.26" fill="#22e05a" opacity="0.95"/>
<ellipse cx="4.4" cy="8.4" rx="1.12" ry="1.19" fill="#b4f030" transform="rotate(30 4.4 8.4)" opacity="0.97"/>
<ellipse cx="54.7" cy="23.7" rx="0.81" ry="0.61" fill="#f6e824" transform="rotate(-30 54.7 23.7)" opacity="0.94"/>
<ellipse cx="29.3" cy="27.1" rx="1.26" ry="1.14" fill="#f6e824" transform="rotate(90 29.3 27.1)" opacity="0.81"/>
<ellipse cx="12.9" cy="37.9" rx="0.79" ry="0.82" fill="#22d8b8" opacity="0.97"/>
<ellipse cx="57.8" cy="9.1" rx="0.77" ry="1.05" fill="#ff8a1e" transform="rotate(90 57.8 9.1)" opacity="0.97"/>
<ellipse cx="13.8" cy="47.6" rx="1.1" ry="1.28" fill="#f6e824" transform="rotate(30 13.8 47.6)" opacity="0.79"/>
<ellipse cx="4.1" cy="48.8" rx="0.97" ry="0.76" fill="#22e05a" transform="rotate(30 4.1 48.8)" opacity="0.81"/>
<ellipse cx="27.2" cy="14.8" rx="1.06" ry="1.12" fill="#22e05a" transform="rotate(90 27.2 14.8)" opacity="0.9"/>
<ellipse cx="16.7" cy="45.3" rx="1.0" ry="1.38" fill="#22e05a" transform="rotate(60 16.7 45.3)" opacity="0.96"/>
<ellipse cx="35.9" cy="4.3" rx="0.84" ry="0.83" fill="#f6e824" transform="rotate(90 35.9 4.3)" opacity="0.88"/>
<ellipse cx="10.2" cy="12.5" rx="1.41" ry="2.08" fill="#22d8b8" transform="rotate(-30 10.2 12.5)" opacity="0.97"/>
<ellipse cx="21.0" cy="26.6" rx="0.92" ry="0.99" fill="#22d8b8" transform="rotate(-30 21.0 26.6)" opacity="0.86"/>
<ellipse cx="56.4" cy="27.8" rx="0.93" ry="1.0" fill="#22e05a" transform="rotate(-30 56.4 27.8)" opacity="0.83"/>
<ellipse cx="60.8" cy="7.8" rx="1.2" ry="1.14" fill="#b4f030" transform="rotate(-30 60.8 7.8)" opacity="0.98"/>
<ellipse cx="7.0" cy="3.7" rx="1.15" ry="1.69" fill="#b4f030" transform="rotate(-30 7.0 3.7)" opacity="0.81"/>
<ellipse cx="38.0" cy="40.1" rx="1.14" ry="1.52" fill="#22e05a" transform="rotate(60 38.0 40.1)" opacity="0.9"/>
<ellipse cx="29.6" cy="46.9" rx="0.79" ry="0.99" fill="#22e05a" transform="rotate(30 29.6 46.9)" opacity="0.97"/>
<ellipse cx="12.1" cy="13.3" rx="0.89" ry="0.98" fill="#22e05a" transform="rotate(90 12.1 13.3)" opacity="0.96"/>
<ellipse cx="5.2" cy="13.2" rx="1.4" ry="1.12" fill="#ff4a6a"/>
<ellipse cx="34.5" cy="20.1" rx="1.4" ry="2.81" fill="#ff8a1e"/>
<ellipse cx="34.0" cy="22.0" rx="1.05" ry="1.4" fill="#f2261e" opacity="0.8"/>
<ellipse cx="15.0" cy="25.9" rx="1.76" ry="2.46" fill="#ff8a1e"/>
<ellipse cx="15.0" cy="27.0" rx="1.05" ry="1.4" fill="#f2261e" opacity="0.8"/>
<ellipse cx="49.5" cy="11.5" rx="1.76" ry="1.76" fill="#f2261e"/>
<ellipse cx="25.9" cy="29.9" rx="2.11" ry="1.4" fill="#f6e824" opacity="0.9"/>
<ellipse cx="24.2" cy="21.9" rx="1.05" ry="1.76" fill="#b4f030"/>
<ellipse cx="42.6" cy="27.0" rx="2.11" ry="1.4" fill="#22e05a"/>
<ellipse cx="48.3" cy="34.5" rx="1.76" ry="1.05" fill="#22e05a" opacity="0.9"/>
<ellipse cx="41.4" cy="33.4" rx="1.05" ry="1.76" fill="#ff8a1e"/>
<ellipse cx="17.3" cy="44.3" rx="3.16" ry="2.46" fill="#22e05a"/>
<ellipse cx="21.0" cy="46.5" rx="1.4" ry="1.4" fill="#22e05a"/>
<ellipse cx="4.0" cy="32.8" rx="1.4" ry="2.11" fill="#b4f030"/>
<ellipse cx="8.6" cy="28.2" rx="1.4" ry="1.4" fill="#ff8a1e"/>
<ellipse cx="6.9" cy="22.4" rx="1.4" ry="1.4" fill="#22e05a"/>
<ellipse cx="11.5" cy="22.4" rx="1.05" ry="1.05" fill="#22e05a" opacity="0.8"/>
<ellipse cx="17.8" cy="34.5" rx="1.4" ry="1.4" fill="#ff4a6a" opacity="0.8"/>
<ellipse cx="9.2" cy="37.4" rx="1.4" ry="1.4" fill="#ff8a1e"/>
<ellipse cx="8.1" cy="49.5" rx="1.76" ry="1.76" fill="#22e05a"/>
<ellipse cx="2.3" cy="48.3" rx="1.4" ry="1.4" fill="#22e05a"/>
<ellipse cx="13.8" cy="52.9" rx="1.4" ry="1.4" fill="#ff8a1e"/>
<ellipse cx="36.8" cy="46.0" rx="1.4" ry="1.4" fill="#f6e824" opacity="0.8"/>
<ellipse cx="36.8" cy="46.0" rx="0.63" ry="0.63" fill="#02000a" opacity="0.6"/>
<ellipse cx="33.4" cy="9.2" rx="1.05" ry="1.05" fill="#22e05a" opacity="0.8"/>
<ellipse cx="59.8" cy="38.0" rx="1.05" ry="1.76" fill="#22e05a"/>
<ellipse cx="59.8" cy="34.0" rx="1.05" ry="1.05" fill="#f6e824"/>
<ellipse cx="50.6" cy="20.7" rx="0.84" ry="0.84" fill="#22e05a"/>
<ellipse cx="10.9" cy="5.2" rx="1.05" ry="1.05" fill="#22e05a" opacity="0.6"/>
<ellipse cx="28.8" cy="46.6" rx="1.05" ry="1.05" fill="#22d8b8" opacity="0.8"/>
<ellipse cx="24.2" cy="2.3" rx="1.05" ry="1.05" fill="#ff4a6a"/>
<ellipse cx="47.0" cy="29.0" rx="1.05" ry="0.84" fill="#22e05a" opacity="0.7"/>
<ellipse cx="13.0" cy="40.0" rx="1.05" ry="1.05" fill="#22e05a" opacity="0.7"/>
</g>
<g filter="url(#tb)"><rect x="163.50" y="176.70" width="10.0" height="0.85" fill="#fff" opacity="0.95"/><text x="168.50" y="180.90" font-size="3.2" text-anchor="middle" fill="#fff" opacity="0.85">20 μm</text></g>
</g>
<g clip-path="url(#c7)">
<rect x="178.3" y="124.4" width="63.00" height="58.90" fill="#000" filter="url(#f7)"/>
<g filter="url(#bl)" transform="translate(178.3 124.4)" opacity="1">
<ellipse cx="55.2" cy="17.6" rx="1.03" ry="1.0" fill="#ff4a6a" opacity="0.89"/>
<ellipse cx="40.0" cy="45.9" rx="0.85" ry="1.12" fill="#e8309a" transform="rotate(60 40.0 45.9)" opacity="0.76"/>
<ellipse cx="28.2" cy="15.5" rx="1.02" ry="1.5" fill="#e8309a" transform="rotate(-30 28.2 15.5)" opacity="0.78"/>
<ellipse cx="43.0" cy="44.4" rx="0.95" ry="0.94" fill="#e8309a" transform="rotate(30 43.0 44.4)"/>
<ellipse cx="59.7" cy="11.6" rx="0.95" ry="0.72" fill="#f2261e" transform="rotate(30 59.7 11.6)" opacity="0.96"/>
<ellipse cx="34.0" cy="8.7" rx="1.09" ry="0.94" fill="#f2261e" transform="rotate(90 34.0 8.7)" opacity="0.87"/>
<ellipse cx="52.5" cy="12.2" rx="0.83" ry="0.67" fill="#f2261e" transform="rotate(60 52.5 12.2)" opacity="0.94"/>
<ellipse cx="34.6" cy="14.4" rx="1.76" ry="3.51" fill="#ff4a6a"/>
<ellipse cx="27.6" cy="47.8" rx="2.46" ry="2.11" fill="#f2261e"/>
<ellipse cx="26.0" cy="46.5" rx="1.05" ry="1.05" fill="#ff4a6a"/>
<ellipse cx="34.0" cy="28.2" rx="1.4" ry="1.76" fill="#22e05a"/>
<ellipse cx="12.1" cy="19.6" rx="1.26" ry="2.11" fill="#e8309a" opacity="0.8"/>
<ellipse cx="12.1" cy="21.0" rx="0.7" ry="0.7" fill="#ff8a1e"/>
<ellipse cx="52.4" cy="9.8" rx="1.26" ry="1.26" fill="#ff8a1e" opacity="0.9"/>
<ellipse cx="22.5" cy="38.0" rx="1.4" ry="1.4" fill="#e8309a" opacity="0.6"/>
<ellipse cx="31.7" cy="32.8" rx="1.05" ry="1.05" fill="#e8309a" opacity="0.7"/>
<ellipse cx="16.1" cy="23.6" rx="0.7" ry="0.7" fill="#fff4d8" opacity="0.6"/>
<ellipse cx="47.2" cy="32.3" rx="0.7" ry="0.7" fill="#fff4d8" opacity="0.6"/>
</g>
<g filter="url(#tb)"><rect x="228.30" y="176.70" width="10.0" height="0.85" fill="#fff" opacity="0.95"/><text x="233.30" y="180.90" font-size="3.2" text-anchor="middle" fill="#fff" opacity="0.85">20 μm</text></g>
</g>
<g clip-path="url(#c8)">
<rect x="243.0" y="124.4" width="61.50" height="58.90" fill="#000" filter="url(#f8)"/>
<g filter="url(#bl)" transform="translate(243.0 124.4)" opacity="1">
<ellipse cx="41.5" cy="54.9" rx="1.3" ry="1.73" fill="#ff4a6a" opacity="0.97"/>
<ellipse cx="56.6" cy="30.4" rx="1.22" ry="1.55" fill="#f2261e" transform="rotate(-30 56.6 30.4)" opacity="0.9"/>
<ellipse cx="52.8" cy="52.4" rx="1.17" ry="0.83" fill="#22d8b8" transform="rotate(60 52.8 52.4)" opacity="0.98"/>
<ellipse cx="19.6" cy="44.8" rx="1.28" ry="0.91" fill="#f2261e" transform="rotate(90 19.6 44.8)" opacity="0.96"/>
<ellipse cx="32.5" cy="10.5" rx="1.14" ry="1.35" fill="#ff8a1e" transform="rotate(60 32.5 10.5)" opacity="0.92"/>
<ellipse cx="38.3" cy="49.2" rx="0.88" ry="1.3" fill="#ff8a1e" transform="rotate(60 38.3 49.2)" opacity="0.87"/>
<ellipse cx="34.4" cy="32.2" rx="0.86" ry="0.79" fill="#22d8b8" transform="rotate(60 34.4 32.2)" opacity="0.94"/>
<ellipse cx="8.7" cy="30.9" rx="1.31" ry="1.04" fill="#ff4a6a" transform="rotate(30 8.7 30.9)" opacity="0.92"/>
<ellipse cx="57.7" cy="7.4" rx="1.05" ry="1.37" fill="#22d8b8" transform="rotate(60 57.7 7.4)" opacity="0.79"/>
<ellipse cx="37.9" cy="41.3" rx="1.04" ry="1.34" fill="#22e05a" transform="rotate(30 37.9 41.3)" opacity="0.93"/>
<ellipse cx="54.3" cy="49.1" rx="1.1" ry="1.09" fill="#22e05a" transform="rotate(90 54.3 49.1)" opacity="0.97"/>
<ellipse cx="29.4" cy="5.0" rx="1.24" ry="1.47" fill="#ff8a1e" opacity="0.76"/>
<ellipse cx="41.4" cy="32.5" rx="1.05" ry="1.45" fill="#f2261e" transform="rotate(90 41.4 32.5)" opacity="0.77"/>
<ellipse cx="47.0" cy="24.9" rx="1.02" ry="1.47" fill="#22e05a" transform="rotate(90 47.0 24.9)" opacity="0.97"/>
<ellipse cx="35.0" cy="10.9" rx="0.92" ry="0.88" fill="#22d8b8" transform="rotate(60 35.0 10.9)" opacity="0.96"/>
<ellipse cx="33.0" cy="23.4" rx="0.84" ry="0.76" fill="#ff4a6a" opacity="0.82"/>
<ellipse cx="13.0" cy="15.4" rx="1.04" ry="1.23" fill="#ff4a6a" transform="rotate(60 13.0 15.4)" opacity="0.86"/>
<ellipse cx="27.7" cy="25.3" rx="0.89" ry="0.76" fill="#ff8a1e" transform="rotate(90 27.7 25.3)" opacity="0.84"/>
<ellipse cx="6.0" cy="52.0" rx="6.32" ry="4.21" fill="#02000a" opacity="0.8"/>
<ellipse cx="30.5" cy="6.3" rx="1.26" ry="1.26" fill="#f6e824"/>
<ellipse cx="29.9" cy="12.7" rx="1.76" ry="1.26" fill="#f2261e"/>
<ellipse cx="5.2" cy="8.1" rx="1.05" ry="1.05" fill="#f6e824"/>
<ellipse cx="37.4" cy="8.6" rx="1.05" ry="1.05" fill="#f2261e"/>
<ellipse cx="42.6" cy="7.5" rx="1.05" ry="1.05" fill="#ff8a1e"/>
<ellipse cx="29.9" cy="27.6" rx="1.4" ry="1.76" fill="#f6e824"/>
<ellipse cx="49.5" cy="23.0" rx="2.11" ry="1.26" fill="#f6e824"/>
<ellipse cx="37.4" cy="24.7" rx="1.05" ry="1.05" fill="#22d8b8"/>
<ellipse cx="59.3" cy="34.5" rx="1.05" ry="1.76" fill="#22e05a"/>
<ellipse cx="43.7" cy="33.4" rx="1.26" ry="1.26" fill="#ff4a6a"/>
<ellipse cx="1.2" cy="32.2" rx="1.4" ry="1.4" fill="#f2261e"/>
<ellipse cx="4.6" cy="31.6" rx="1.05" ry="1.05" fill="#fff4d8" opacity="0.7"/>
<ellipse cx="14.4" cy="34.0" rx="1.05" ry="2.11" fill="#ff4a6a" opacity="0.9"/>
<ellipse cx="21.3" cy="43.7" rx="1.76" ry="1.05" fill="#b4f030"/>
<ellipse cx="24.2" cy="46.0" rx="1.26" ry="1.26" fill="#22e05a"/>
<ellipse cx="22.4" cy="49.5" rx="1.4" ry="1.4" fill="#f6e824"/>
<ellipse cx="23.0" cy="53.5" rx="1.4" ry="2.11" fill="#f2261e"/>
<ellipse cx="34.5" cy="49.5" rx="1.05" ry="2.11" fill="#ff4a6a"/>
<ellipse cx="58.7" cy="47.2" rx="1.76" ry="1.76" fill="#f2261e"/>
<ellipse cx="53.5" cy="49.5" rx="1.4" ry="1.4" fill="#f6e824"/>
<ellipse cx="47.2" cy="49.5" rx="1.05" ry="1.05" fill="#22e05a"/>
<ellipse cx="57.5" cy="43.7" rx="1.05" ry="1.05" fill="#f6e824"/>
<ellipse cx="46.0" cy="11.5" rx="1.05" ry="1.05" fill="#f2261e"/>
<ellipse cx="54.0" cy="12.7" rx="1.05" ry="1.05" fill="#f2261e" opacity="0.8"/>
<ellipse cx="0.6" cy="12.7" rx="1.05" ry="1.05" fill="#22d8b8"/>
<ellipse cx="28.8" cy="55.8" rx="1.4" ry="1.4" fill="#ff4a6a"/>
<ellipse cx="15.0" cy="2.0" rx="1.05" ry="0.84" fill="#22e05a"/>
<ellipse cx="40.0" cy="40.0" rx="0.84" ry="0.84" fill="#f2261e" opacity="0.7"/>
</g>
<g filter="url(#tb)"><rect x="291.50" y="176.70" width="10.0" height="0.85" fill="#fff" opacity="0.95"/><text x="296.50" y="180.90" font-size="3.2" text-anchor="middle" fill="#fff" opacity="0.85">20 μm</text></g>
</g>
<g clip-path="url(#c9)">
<rect x="306.3" y="124.4" width="62.40" height="58.90" fill="#000" filter="url(#f9)"/>
<g filter="url(#bl)" transform="translate(306.3 124.4)" opacity="1">
<ellipse cx="30.1" cy="37.0" rx="0.82" ry="0.63" fill="#f2261e" transform="rotate(-30 30.1 37.0)" opacity="0.82"/>
<ellipse cx="46.9" cy="56.0" rx="0.73" ry="0.68" fill="#e8309a" transform="rotate(60 46.9 56.0)" opacity="0.91"/>
<ellipse cx="38.6" cy="33.8" rx="0.85" ry="1.09" fill="#f2261e" transform="rotate(60 38.6 33.8)" opacity="0.87"/>
<ellipse cx="5.9" cy="27.6" rx="0.94" ry="1.04" fill="#f2261e" opacity="0.86"/>
<ellipse cx="23.8" cy="34.4" rx="1.17" ry="1.4" fill="#ff8a1e" opacity="0.9"/>
<ellipse cx="46.9" cy="21.3" rx="1.17" ry="1.17" fill="#f2261e" opacity="0.8"/>
<ellipse cx="58.8" cy="23.8" rx="1.17" ry="1.17" fill="#f2261e" opacity="0.8"/>
<ellipse cx="15.6" cy="18.8" rx="0.94" ry="0.94" fill="#f2261e" opacity="0.7"/>
<ellipse cx="24.4" cy="49.4" rx="0.94" ry="0.78" fill="#22e05a" opacity="0.6"/>
<ellipse cx="30.0" cy="50.6" rx="0.94" ry="0.78" fill="#22e05a" opacity="0.6"/>
</g>
<g filter="url(#tb)"><rect x="355.70" y="176.70" width="10.0" height="0.85" fill="#fff" opacity="0.95"/><text x="360.70" y="180.90" font-size="3.2" text-anchor="middle" fill="#fff" opacity="0.85">20 μm</text></g>
</g>
<g clip-path="url(#c10)">
<rect x="49.0" y="216.8" width="63.00" height="54.90" fill="#000" filter="url(#f10)"/>
<g filter="url(#bl)" transform="translate(49.0 216.8)" opacity="0.9">
<ellipse cx="15.3" cy="38.4" rx="1.45" ry="1.65" fill="#f2261e" opacity="0.88"/>
<ellipse cx="7.3" cy="37.3" rx="1.29" ry="1.13" fill="#f2261e" opacity="0.95"/>
<ellipse cx="22.0" cy="11.6" rx="1.2" ry="0.98" fill="#ff4a6a" transform="rotate(60 22.0 11.6)" opacity="0.89"/>
<ellipse cx="60.2" cy="39.8" rx="1.15" ry="1.58" fill="#f2261e" opacity="0.76"/>
<ellipse cx="38.9" cy="53.1" rx="1.26" ry="1.67" fill="#ff4a6a" transform="rotate(-30 38.9 53.1)" opacity="0.91"/>
<ellipse cx="53.9" cy="15.4" rx="1.21" ry="1.34" fill="#f2261e" opacity="0.99"/>
<ellipse cx="52.4" cy="34.6" rx="1.39" ry="1.09" fill="#f2261e" transform="rotate(-30 52.4 34.6)" opacity="0.91"/>
<ellipse cx="6.4" cy="44.9" rx="1.37" ry="1.25" fill="#f2261e" transform="rotate(30 6.4 44.9)" opacity="0.94"/>
<ellipse cx="40.4" cy="18.6" rx="4.29" ry="2.73" fill="#f2261e" fill-opacity="0.12" stroke="#f2261e" stroke-width="1.3" stroke-dasharray="14.6 5.0" stroke-dashoffset="8.6"/>
<ellipse cx="46.4" cy="23.5" rx="2.73" ry="4.29" fill="#f2261e" fill-opacity="0.12" stroke="#f2261e" stroke-width="1.3" stroke-dasharray="14.6 5.0" stroke-dashoffset="5.3"/>
<ellipse cx="41.0" cy="21.0" rx="1.56" ry="1.56" fill="#2a2ae0" opacity="0.8"/>
<ellipse cx="24.0" cy="10.4" rx="2.73" ry="2.15" fill="#f2261e" fill-opacity="0.12" stroke="#f2261e" stroke-width="1.3" stroke-dasharray="10.1 3.5" stroke-dashoffset="9.2"/>
<ellipse cx="7.1" cy="4.4" rx="5.36" ry="1.95" fill="#ff4a6a" fill-opacity="0.12" stroke="#ff4a6a" stroke-width="1.3" stroke-dasharray="15.2 5.3" stroke-dashoffset="2.9" opacity="0.9"/>
<ellipse cx="3.8" cy="13.1" rx="3.80" ry="2.15" fill="#f2261e" fill-opacity="0.12" stroke="#f2261e" stroke-width="1.3" stroke-dasharray="12.4 4.3" stroke-dashoffset="5.9" opacity="0.9"/>
<ellipse cx="3.3" cy="23.5" rx="2.15" ry="3.21" fill="#f2261e" fill-opacity="0.12" stroke="#f2261e" stroke-width="1.3" stroke-dasharray="11.2 3.9" stroke-dashoffset="3.6"/>
<ellipse cx="16.4" cy="18.6" rx="1.66" ry="3.21" fill="#ff4a6a" fill-opacity="0.12" stroke="#ff4a6a" stroke-width="1.3" stroke-dasharray="10.1 3.5" stroke-dashoffset="0.6" opacity="0.8"/>
<ellipse cx="20.7" cy="29.5" rx="1.56" ry="1.56" fill="#f2261e"/>
<ellipse cx="18.6" cy="39.8" rx="2.73" ry="2.15" fill="#f2261e" fill-opacity="0.12" stroke="#f2261e" stroke-width="1.3" stroke-dasharray="10.1 3.5" stroke-dashoffset="9.6"/>
<ellipse cx="32.2" cy="34.4" rx="1.66" ry="3.21" fill="#f2261e" fill-opacity="0.12" stroke="#f2261e" stroke-width="1.3" stroke-dasharray="10.1 3.5" stroke-dashoffset="8.6"/>
<ellipse cx="41.5" cy="34.9" rx="1.56" ry="1.56" fill="#f2261e"/>
<ellipse cx="39.3" cy="43.7" rx="2.73" ry="3.21" fill="#f2261e" fill-opacity="0.12" stroke="#f2261e" stroke-width="1.3" stroke-dasharray="12.3 4.3" stroke-dashoffset="6.2"/>
<ellipse cx="45.9" cy="41.5" rx="1.56" ry="1.56" fill="#ff4a6a"/>
<ellipse cx="57.9" cy="40.4" rx="2.73" ry="3.80" fill="#f2261e" fill-opacity="0.12" stroke="#f2261e" stroke-width="1.3" stroke-dasharray="13.6 4.7" stroke-dashoffset="6.5"/>
<ellipse cx="52.4" cy="45.3" rx="4.29" ry="2.15" fill="#f2261e" fill-opacity="0.12" stroke="#f2261e" stroke-width="1.3" stroke-dasharray="13.4 4.6" stroke-dashoffset="2.7"/>
<ellipse cx="43.7" cy="50.2" rx="3.21" ry="2.73" fill="#f2261e" fill-opacity="0.12" stroke="#f2261e" stroke-width="1.3" stroke-dasharray="12.3 4.3" stroke-dashoffset="6.5"/>
<ellipse cx="59.5" cy="10.9" rx="1.66" ry="3.21" fill="#f2261e" fill-opacity="0.12" stroke="#f2261e" stroke-width="1.3" stroke-dasharray="10.1 3.5" stroke-dashoffset="9.2" opacity="0.8"/>
<ellipse cx="15.3" cy="34.9" rx="1.17" ry="1.17" fill="#f2261e"/>
<ellipse cx="27.0" cy="40.0" rx="1.17" ry="1.17" fill="#f2261e" opacity="0.8"/>
<ellipse cx="6.0" cy="30.0" rx="1.17" ry="1.17" fill="#f2261e" opacity="0.7"/>
</g>
<g filter="url(#tb)"><rect x="100.40" y="265.10" width="8.6" height="0.85" fill="#fff" opacity="0.95"/><text x="104.70" y="269.30" font-size="3.2" text-anchor="middle" fill="#fff" opacity="0.85">20 μm</text></g>
</g>
<g clip-path="url(#c11)">
<rect x="114.3" y="216.8" width="62.00" height="54.90" fill="#000" filter="url(#f11)"/>
<g filter="url(#bl)" transform="translate(114.3 216.8)" opacity="0.92">
<ellipse cx="52.2" cy="28.9" rx="1.25" ry="1.68" fill="#f2261e" transform="rotate(90 52.2 28.9)" opacity="0.81"/>
<ellipse cx="51.3" cy="2.0" rx="1.49" ry="1.33" fill="#f2261e" opacity="0.9"/>
<ellipse cx="12.8" cy="22.2" rx="1.26" ry="1.61" fill="#ff8a1e" transform="rotate(30 12.8 22.2)" opacity="0.99"/>
<ellipse cx="27.2" cy="3.6" rx="1.17" ry="1.63" fill="#ff8a1e" transform="rotate(-30 27.2 3.6)" opacity="0.75"/>
<ellipse cx="25.6" cy="30.9" rx="1.68" ry="1.57" fill="#f2261e" opacity="0.86"/>
<ellipse cx="8.4" cy="22.2" rx="1.68" ry="1.6" fill="#f2261e" transform="rotate(90 8.4 22.2)" opacity="0.8"/>
<ellipse cx="46.1" cy="9.2" rx="1.3" ry="1.44" fill="#f2261e" transform="rotate(90 46.1 9.2)" opacity="0.9"/>
<ellipse cx="9.2" cy="7.4" rx="1.54" ry="1.64" fill="#ff8a1e" opacity="0.81"/>
<ellipse cx="41.8" cy="25.1" rx="1.57" ry="1.96" fill="#f2261e" transform="rotate(60 41.8 25.1)" opacity="0.97"/>
<ellipse cx="10.0" cy="14.6" rx="1.2" ry="0.93" fill="#f2261e" opacity="0.94"/>
<ellipse cx="57.6" cy="36.5" rx="1.43" ry="1.59" fill="#ff8a1e" transform="rotate(90 57.6 36.5)" opacity="0.79"/>
<ellipse cx="6.9" cy="24.9" rx="1.15" ry="1.66" fill="#ff8a1e" transform="rotate(90 6.9 24.9)" opacity="0.9"/>
<ellipse cx="13.1" cy="4.4" rx="1.66" ry="4.29" fill="#f2261e" fill-opacity="0.12" stroke="#f2261e" stroke-width="1.3" stroke-dasharray="12.4 4.3" stroke-dashoffset="4.9" transform="rotate(-15.0 13.1 4.4)"/>
<ellipse cx="20.2" cy="3.8" rx="1.66" ry="4.88" fill="#f2261e" fill-opacity="0.12" stroke="#f2261e" stroke-width="1.3" stroke-dasharray="13.6 4.7" stroke-dashoffset="2.8" transform="rotate(-20.0 20.2 3.8)"/>
<ellipse cx="22.9" cy="7.1" rx="0.78" ry="0.78" fill="#fff4d8" opacity="0.8"/>
<ellipse cx="36.0" cy="9.8" rx="1.66" ry="4.29" fill="#f2261e" fill-opacity="0.12" stroke="#f2261e" stroke-width="1.3" stroke-dasharray="12.4 4.3" stroke-dashoffset="1.4" transform="rotate(20.0 36.0 9.8)"/>
<ellipse cx="36.5" cy="7.0" rx="0.78" ry="0.94" fill="#ff8a1e"/>
<ellipse cx="37.1" cy="18.6" rx="4.29" ry="3.21" fill="#f2261e" fill-opacity="0.12" stroke="#f2261e" stroke-width="1.3" stroke-dasharray="15.6 5.4" stroke-dashoffset="5.5"/>
<ellipse cx="31.7" cy="21.8" rx="3.21" ry="2.15" fill="#f2261e" fill-opacity="0.12" stroke="#f2261e" stroke-width="1.3" stroke-dasharray="11.2 3.9" stroke-dashoffset="7.3"/>
<ellipse cx="20.7" cy="17.5" rx="4.29" ry="2.73" fill="#ff4a6a" fill-opacity="0.12" stroke="#ff4a6a" stroke-width="1.3" stroke-dasharray="14.6 5.0" stroke-dashoffset="7.4" opacity="0.8"/>
<ellipse cx="9.8" cy="19.1" rx="1.17" ry="1.17" fill="#fff4d8" opacity="0.8"/>
<ellipse cx="16.4" cy="25.7" rx="0.78" ry="1.56" fill="#22d8b8"/>
<ellipse cx="42.6" cy="24.6" rx="2.73" ry="3.21" fill="#f2261e" fill-opacity="0.12" stroke="#f2261e" stroke-width="1.3" stroke-dasharray="12.3 4.3" stroke-dashoffset="2.0"/>
<ellipse cx="53.5" cy="26.7" rx="2.15" ry="5.36" fill="#f2261e" fill-opacity="0.12" stroke="#f2261e" stroke-width="1.3" stroke-dasharray="15.6 5.4" stroke-dashoffset="4.6"/>
<ellipse cx="53.5" cy="23.5" rx="1.17" ry="1.17" fill="#ff8a1e"/>
<ellipse cx="16.9" cy="31.7" rx="1.66" ry="3.21" fill="#f2261e" fill-opacity="0.12" stroke="#f2261e" stroke-width="1.3" stroke-dasharray="10.1 3.5" stroke-dashoffset="3.4"/>
<ellipse cx="28.9" cy="32.8" rx="3.21" ry="5.36" fill="#f2261e" fill-opacity="0.12" stroke="#f2261e" stroke-width="1.3" stroke-dasharray="17.8 6.2" stroke-dashoffset="0.7"/>
<ellipse cx="26.2" cy="38.8" rx="3.80" ry="3.21" fill="#f2261e" fill-opacity="0.12" stroke="#f2261e" stroke-width="1.3" stroke-dasharray="14.6 5.0" stroke-dashoffset="9.8"/>
<ellipse cx="35.5" cy="42.0" rx="3.21" ry="3.21" fill="#f2261e" fill-opacity="0.12" stroke="#f2261e" stroke-width="1.3" stroke-dasharray="13.4 4.6" stroke-dashoffset="4.5"/>
<ellipse cx="35.5" cy="42.0" rx="0.94" ry="0.94" fill="#02000a" opacity="0.7"/>
<ellipse cx="43.7" cy="43.7" rx="2.73" ry="2.15" fill="#f2261e" fill-opacity="0.12" stroke="#f2261e" stroke-width="1.3" stroke-dasharray="10.1 3.5" stroke-dashoffset="7.0"/>
<ellipse cx="26.2" cy="49.1" rx="4.29" ry="2.15" fill="#f2261e" fill-opacity="0.12" stroke="#f2261e" stroke-width="1.3" stroke-dasharray="13.4 4.6" stroke-dashoffset="0.7" transform="rotate(40.0 26.2 49.1)"/>
<ellipse cx="36.0" cy="50.8" rx="2.73" ry="2.73" fill="#f2261e" fill-opacity="0.12" stroke="#f2261e" stroke-width="1.3" stroke-dasharray="11.3 3.9" stroke-dashoffset="4.4"/>
<ellipse cx="5.5" cy="24.0" rx="2.73" ry="2.15" fill="#f2261e" fill-opacity="0.12" stroke="#f2261e" stroke-width="1.3" stroke-dasharray="10.1 3.5" stroke-dashoffset="0.5" opacity="0.6"/>
<ellipse cx="3.8" cy="46.9" rx="1.56" ry="1.56" fill="#f2261e" opacity="0.6"/>
<ellipse cx="40.9" cy="36.0" rx="1.17" ry="1.17" fill="#f2261e"/>
<ellipse cx="47.0" cy="14.0" rx="1.66" ry="2.73" fill="#f2261e" fill-opacity="0.12" stroke="#f2261e" stroke-width="1.3" stroke-dasharray="9.1 3.2" stroke-dashoffset="1.0" opacity="0.7"/>
<ellipse cx="28.0" cy="12.0" rx="1.56" ry="1.56" fill="#2a2ae0" opacity="0.6"/>
</g>
<g filter="url(#tb)"><rect x="164.70" y="265.10" width="8.6" height="0.85" fill="#fff" opacity="0.95"/><text x="169.00" y="269.30" font-size="3.2" text-anchor="middle" fill="#fff" opacity="0.85">20 μm</text></g>
</g>
<g clip-path="url(#c12)">
<rect x="178.3" y="216.8" width="62.50" height="54.90" fill="#000" filter="url(#f12)"/>
<g filter="url(#bl)" transform="translate(178.3 216.8)" opacity="1">
<ellipse cx="10.2" cy="29.9" rx="1.54" ry="1.93" fill="#b4f030" opacity="0.8"/>
<ellipse cx="2.4" cy="4.4" rx="1.24" ry="1.4" fill="#a05a20" opacity="0.95"/>
<ellipse cx="13.5" cy="10.6" rx="1.01" ry="1.29" fill="#b4f030" transform="rotate(60 13.5 10.6)" opacity="0.89"/>
<ellipse cx="25.0" cy="23.0" rx="1.15" ry="1.18" fill="#159a8a" transform="rotate(-30 25.0 23.0)" opacity="0.92"/>
<ellipse cx="5.6" cy="20.6" rx="1.61" ry="1.15" fill="#159a8a" transform="rotate(30 5.6 20.6)" opacity="0.8"/>
<ellipse cx="1.7" cy="34.6" rx="1.29" ry="1.72" fill="#ff8a1e" transform="rotate(60 1.7 34.6)" opacity="0.94"/>
<ellipse cx="52.5" cy="6.0" rx="1.52" ry="2.27" fill="#f6e824" transform="rotate(30 52.5 6.0)" opacity="0.85"/>
<ellipse cx="25.2" cy="40.5" rx="1.29" ry="1.14" fill="#b4f030" opacity="0.81"/>
<ellipse cx="4.8" cy="18.4" rx="1.05" ry="0.97" fill="#a05a20" transform="rotate(-30 4.8 18.4)" opacity="0.97"/>
<ellipse cx="39.0" cy="13.6" rx="1.58" ry="2.32" fill="#159a8a" transform="rotate(30 39.0 13.6)" opacity="0.77"/>
<ellipse cx="47.9" cy="24.1" rx="1.28" ry="1.15" fill="#22e05a" transform="rotate(60 47.9 24.1)" opacity="0.93"/>
<ellipse cx="59.6" cy="5.1" rx="1.32" ry="1.45" fill="#b4f030" transform="rotate(90 59.6 5.1)" opacity="0.83"/>
<ellipse cx="14.9" cy="11.8" rx="1.08" ry="0.87" fill="#b4f030" transform="rotate(60 14.9 11.8)" opacity="0.87"/>
<ellipse cx="7.1" cy="10.8" rx="1.39" ry="1.7" fill="#ff8a1e" transform="rotate(30 7.1 10.8)" opacity="0.8"/>
<ellipse cx="33.1" cy="44.8" rx="1.49" ry="2.06" fill="#f6e824" transform="rotate(90 33.1 44.8)" opacity="0.97"/>
<ellipse cx="4.2" cy="9.6" rx="1.16" ry="1.09" fill="#ff8a1e" opacity="0.99"/>
<ellipse cx="56.0" cy="10.9" rx="1.24" ry="1.41" fill="#a05a20" transform="rotate(90 56.0 10.9)" opacity="0.77"/>
<ellipse cx="10.2" cy="47.1" rx="1.19" ry="1.61" fill="#22e05a" opacity="0.77"/>
<ellipse cx="7.6" cy="5.5" rx="2.34" ry="1.95" fill="#b4f030"/>
<ellipse cx="4.4" cy="10.9" rx="2.73" ry="1.17" fill="#f6e824"/>
<ellipse cx="4.4" cy="1.6" rx="3.12" ry="1.17" fill="#fff4d8" opacity="0.8"/>
<ellipse cx="12.6" cy="4.9" rx="0.94" ry="0.94" fill="#22e05a"/>
<ellipse cx="14.7" cy="16.4" rx="1.56" ry="2.34" fill="#a05a20"/>
<ellipse cx="30.6" cy="15.3" rx="1.17" ry="1.95" fill="#a05a20"/>
<ellipse cx="34.9" cy="19.7" rx="1.17" ry="1.17" fill="#22e05a"/>
<ellipse cx="36.6" cy="26.2" rx="3.9" ry="1.56" fill="#b4f030" transform="rotate(-40.0 36.6 26.2)"/>
<ellipse cx="48.0" cy="32.8" rx="4.29" ry="2.34" fill="#f6e824" transform="rotate(-30.0 48.0 32.8)"/>
<ellipse cx="49.7" cy="36.0" rx="1.95" ry="1.56" fill="#f6e824"/>
<ellipse cx="48.0" cy="33.0" rx="1.17" ry="0.78" fill="#22e05a" transform="rotate(-30.0 48.0 33.0)" opacity="0.7"/>
<ellipse cx="57.3" cy="25.7" rx="1.95" ry="3.51" fill="#ff8a1e"/>
<ellipse cx="60.0" cy="32.8" rx="1.56" ry="1.56" fill="#f2261e" opacity="0.7"/>
<ellipse cx="34.4" cy="36.6" rx="2.03" ry="2.03" fill="#b4f030"/>
<ellipse cx="34.4" cy="36.6" rx="0.78" ry="0.78" fill="#02000a" opacity="0.7"/>
<ellipse cx="32.8" cy="45.9" rx="3.51" ry="2.34" fill="#b4f030" transform="rotate(-40.0 32.8 45.9)"/>
<ellipse cx="30.6" cy="49.7" rx="1.56" ry="1.56" fill="#22e05a"/>
<ellipse cx="19.1" cy="42.6" rx="2.34" ry="1.56" fill="#f6e824"/>
<ellipse cx="14.7" cy="46.9" rx="2.73" ry="3.12" fill="#f6e824"/>
<ellipse cx="14.7" cy="47.5" rx="1.17" ry="1.17" fill="#ff8a1e"/>
<ellipse cx="16.4" cy="51.3" rx="1.95" ry="1.56" fill="#f6e824"/>
<ellipse cx="9.8" cy="44.8" rx="1.56" ry="1.17" fill="#b4f030"/>
<ellipse cx="0.5" cy="27.3" rx="1.56" ry="1.56" fill="#22e05a"/>
<ellipse cx="8.2" cy="29.5" rx="1.17" ry="1.17" fill="#159a8a"/>
<ellipse cx="43.7" cy="21.8" rx="1.17" ry="1.17" fill="#a05a20"/>
<ellipse cx="55.7" cy="18.6" rx="1.17" ry="1.17" fill="#a05a20"/>
<ellipse cx="46.9" cy="15.8" rx="0.78" ry="0.78" fill="#f6e824"/>
<ellipse cx="27.3" cy="7.6" rx="0.94" ry="0.94" fill="#fff4d8" opacity="0.7"/>
<ellipse cx="22.0" cy="20.0" rx="1.17" ry="1.56" fill="#159a8a" opacity="0.7"/>
<ellipse cx="52.0" cy="8.0" rx="1.17" ry="2.34" fill="#159a8a" opacity="0.6"/>
</g>
<g filter="url(#tb)"><rect x="229.20" y="265.10" width="8.6" height="0.85" fill="#fff" opacity="0.95"/><text x="233.50" y="269.30" font-size="3.2" text-anchor="middle" fill="#fff" opacity="0.85">20 μm</text></g>
</g>
<g clip-path="url(#c13)">
<rect x="242.7" y="216.8" width="61.60" height="54.90" fill="#000" filter="url(#f13)"/>
<g filter="url(#bl)" transform="translate(242.7 216.8)" opacity="0.88">
<ellipse cx="5.0" cy="10.8" rx="1.13" ry="0.97" fill="#f2261e" transform="rotate(90 5.0 10.8)" opacity="0.99"/>
<ellipse cx="55.6" cy="12.1" rx="1.51" ry="1.33" fill="#f2261e" transform="rotate(30 55.6 12.1)" opacity="0.84"/>
<ellipse cx="37.3" cy="13.9" rx="1.45" ry="1.05" fill="#ff4a6a" transform="rotate(90 37.3 13.9)" opacity="0.93"/>
<ellipse cx="38.4" cy="30.9" rx="1.15" ry="1.02" fill="#ff4a6a" transform="rotate(30 38.4 30.9)" opacity="0.85"/>
<ellipse cx="34.6" cy="21.1" rx="1.23" ry="1.3" fill="#ff4a6a" transform="rotate(60 34.6 21.1)" opacity="0.79"/>
<ellipse cx="16.9" cy="17.2" rx="1.53" ry="1.97" fill="#f2261e" transform="rotate(60 16.9 17.2)" opacity="0.88"/>
<ellipse cx="41.5" cy="15.3" rx="1.1" ry="1.51" fill="#f2261e" opacity="0.89"/>
<ellipse cx="18.1" cy="50.3" rx="1.34" ry="1.34" fill="#f2261e" transform="rotate(30 18.1 50.3)" opacity="0.8"/>
<ellipse cx="19.4" cy="11.4" rx="1.01" ry="1.08" fill="#f2261e" transform="rotate(-30 19.4 11.4)" opacity="0.93"/>
<ellipse cx="53.5" cy="9.8" rx="1.33" ry="1.51" fill="#f2261e" transform="rotate(30 53.5 9.8)" opacity="0.79"/>
<ellipse cx="21.8" cy="34.9" rx="4.68" ry="2.73" fill="#f2261e"/>
<ellipse cx="28.4" cy="37.7" rx="3.12" ry="1.95" fill="#f2261e" opacity="0.9"/>
<ellipse cx="24.0" cy="35.5" rx="1.56" ry="1.17" fill="#ff4a6a"/>
<ellipse cx="15.3" cy="41.5" rx="2.34" ry="3.12" fill="#f2261e" opacity="0.9"/>
<ellipse cx="7.6" cy="28.4" rx="1.56" ry="2.73" fill="#f2261e" opacity="0.9"/>
<ellipse cx="16.4" cy="25.1" rx="1.95" ry="1.56" fill="#f2261e" opacity="0.8"/>
<ellipse cx="32.8" cy="20.7" rx="3.9" ry="1.17" fill="#f2261e" transform="rotate(-35.0 32.8 20.7)" opacity="0.8"/>
<ellipse cx="25.1" cy="5.5" rx="2.73" ry="1.56" fill="#f2261e" opacity="0.8"/>
<ellipse cx="48.0" cy="7.6" rx="1.56" ry="2.34" fill="#f2261e" opacity="0.9"/>
<ellipse cx="41.5" cy="12.0" rx="1.56" ry="1.56" fill="#f2261e" opacity="0.8"/>
<ellipse cx="33.8" cy="10.4" rx="1.17" ry="1.17" fill="#fff4d8" opacity="0.7"/>
<ellipse cx="44.8" cy="1.6" rx="1.56" ry="1.56" fill="#f2261e" opacity="0.8"/>
<ellipse cx="2.2" cy="38.2" rx="1.95" ry="1.95" fill="#f2261e"/>
<ellipse cx="2.2" cy="46.9" rx="1.56" ry="1.56" fill="#f2261e"/>
<ellipse cx="8.2" cy="46.9" rx="1.56" ry="1.56" fill="#f2261e" opacity="0.8"/>
<ellipse cx="31.7" cy="43.7" rx="1.56" ry="1.56" fill="#f2261e" opacity="0.8"/>
<ellipse cx="45.9" cy="29.5" rx="1.4" ry="1.4" fill="#f2261e" opacity="0.6"/>
<ellipse cx="12.0" cy="33.0" rx="2.34" ry="2.34" fill="#02000a" opacity="0.5"/>
<ellipse cx="5.0" cy="12.0" rx="3.12" ry="2.34" fill="#02000a" opacity="0.4"/>
<ellipse cx="50.0" cy="45.0" rx="3.9" ry="3.12" fill="#02000a" opacity="0.35"/>
</g>
<g filter="url(#tb)"><rect x="292.70" y="265.10" width="8.6" height="0.85" fill="#fff" opacity="0.95"/><text x="297.00" y="269.30" font-size="3.2" text-anchor="middle" fill="#fff" opacity="0.85">20 μm</text></g>
</g>
<g clip-path="url(#c14)">
<rect x="306.2" y="216.8" width="62.50" height="54.90" fill="#000" filter="url(#f14)"/>
<g filter="url(#bl)" transform="translate(306.2 216.8)" opacity="1">
<ellipse cx="37.3" cy="32.0" rx="1.42" ry="1.86" fill="#f6e824" transform="rotate(-30 37.3 32.0)" opacity="0.76"/>
<ellipse cx="6.6" cy="40.0" rx="1.12" ry="0.87" fill="#f6e824" transform="rotate(60 6.6 40.0)" opacity="0.86"/>
<ellipse cx="27.4" cy="34.1" rx="1.39" ry="1.4" fill="#f6e824" opacity="0.84"/>
<ellipse cx="54.9" cy="30.9" rx="1.58" ry="1.64" fill="#ff8a1e" transform="rotate(60 54.9 30.9)" opacity="0.93"/>
<ellipse cx="10.1" cy="4.9" rx="1.9" ry="2.54" fill="#fff4d8" transform="rotate(-30 10.1 4.9)" opacity="0.96"/>
<ellipse cx="24.3" cy="29.2" rx="1.28" ry="1.57" fill="#f6e824" transform="rotate(90 24.3 29.2)" opacity="0.79"/>
<ellipse cx="49.3" cy="7.4" rx="1.1" ry="1.6" fill="#ff8a1e" opacity="0.79"/>
<ellipse cx="18.0" cy="52.5" rx="1.58" ry="1.51" fill="#b4f030" transform="rotate(60 18.0 52.5)" opacity="0.75"/>
<ellipse cx="29.6" cy="38.6" rx="1.58" ry="1.27" fill="#f2261e" transform="rotate(30 29.6 38.6)" opacity="0.88"/>
<ellipse cx="25.5" cy="8.4" rx="1.17" ry="0.83" fill="#f6e824" transform="rotate(60 25.5 8.4)" opacity="0.87"/>
<ellipse cx="31.4" cy="6.3" rx="1.5" ry="1.65" fill="#b4f030" transform="rotate(60 31.4 6.3)" opacity="0.95"/>
<ellipse cx="19.4" cy="45.0" rx="1.32" ry="1.72" fill="#fff4d8" transform="rotate(-30 19.4 45.0)" opacity="0.87"/>
<ellipse cx="55.6" cy="42.4" rx="1.51" ry="1.93" fill="#b4f030" transform="rotate(90 55.6 42.4)" opacity="0.85"/>
<ellipse cx="35.8" cy="32.5" rx="1.9" ry="2.4" fill="#fff4d8" transform="rotate(90 35.8 32.5)" opacity="0.92"/>
<ellipse cx="57.2" cy="10.5" rx="1.72" ry="1.61" fill="#ff8a1e" transform="rotate(-30 57.2 10.5)" opacity="0.82"/>
<ellipse cx="5.8" cy="43.1" rx="1.35" ry="2.0" fill="#22e05a" transform="rotate(-30 5.8 43.1)" opacity="0.93"/>
<ellipse cx="27.8" cy="39.3" rx="1.85" ry="2.29" fill="#f6e824" opacity="0.77"/>
<ellipse cx="27.4" cy="4.3" rx="1.61" ry="1.59" fill="#ff8a1e" transform="rotate(90 27.4 4.3)" opacity="0.97"/>
<ellipse cx="14.4" cy="3.2" rx="1.11" ry="1.22" fill="#f6e824" transform="rotate(-30 14.4 3.2)" opacity="0.82"/>
<ellipse cx="13.2" cy="18.6" rx="1.9" ry="1.86" fill="#ff8a1e" transform="rotate(90 13.2 18.6)" opacity="0.77"/>
<ellipse cx="52.6" cy="52.5" rx="1.79" ry="2.65" fill="#f6e824" transform="rotate(-30 52.6 52.5)" opacity="0.86"/>
<ellipse cx="15.6" cy="18.8" rx="1.54" ry="1.19" fill="#f2261e" transform="rotate(90 15.6 18.8)" opacity="0.78"/>
<ellipse cx="16.7" cy="22.2" rx="1.58" ry="1.7" fill="#ff8a1e" transform="rotate(-30 16.7 22.2)" opacity="0.94"/>
<ellipse cx="7.1" cy="43.5" rx="1.09" ry="1.08" fill="#f2261e" transform="rotate(-30 7.1 43.5)" opacity="0.94"/>
<ellipse cx="22.3" cy="12.2" rx="1.23" ry="1.65" fill="#fff4d8" transform="rotate(-30 22.3 12.2)" opacity="0.79"/>
<ellipse cx="1.6" cy="28.8" rx="1.65" ry="2.23" fill="#ff8a1e" opacity="0.99"/>
<ellipse cx="26.7" cy="17.9" rx="1.22" ry="1.8" fill="#f6e824" transform="rotate(30 26.7 17.9)" opacity="0.92"/>
<ellipse cx="22.6" cy="14.5" rx="1.86" ry="2.72" fill="#ff8a1e" transform="rotate(60 22.6 14.5)" opacity="0.82"/>
<ellipse cx="28.3" cy="23.4" rx="1.72" ry="1.57" fill="#f6e824" transform="rotate(60 28.3 23.4)" opacity="0.76"/>
<ellipse cx="49.7" cy="22.6" rx="1.12" ry="1.3" fill="#f2261e" opacity="0.96"/>
<ellipse cx="42.8" cy="53.4" rx="1.57" ry="1.21" fill="#fff4d8" transform="rotate(-30 42.8 53.4)" opacity="0.87"/>
<ellipse cx="20.3" cy="50.2" rx="1.19" ry="1.33" fill="#f6e824" transform="rotate(90 20.3 50.2)"/>
<ellipse cx="15.7" cy="15.9" rx="1.71" ry="2.16" fill="#22e05a" transform="rotate(90 15.7 15.9)" opacity="0.79"/>
<ellipse cx="32.3" cy="49.5" rx="1.18" ry="1.28" fill="#22e05a" transform="rotate(-30 32.3 49.5)" opacity="0.92"/>
<ellipse cx="22.0" cy="46.0" rx="10.14" ry="6.24" fill="#02000a" opacity="0.5"/>
<ellipse cx="44.0" cy="40.0" rx="7.8" ry="6.24" fill="#02000a" opacity="0.45"/>
<ellipse cx="12.0" cy="30.0" rx="5.46" ry="4.68" fill="#02000a" opacity="0.4"/>
<ellipse cx="36.0" cy="30.0" rx="7.02" ry="5.46" fill="#f6e824" opacity="0.28"/>
<ellipse cx="29.0" cy="16.3" rx="3.51" ry="1.95" fill="#b4f030" transform="rotate(35.0 29.0 16.3)"/>
<ellipse cx="37.8" cy="27.5" rx="3.12" ry="3.9" fill="#f6e824"/>
<ellipse cx="43.0" cy="31.0" rx="1.56" ry="2.34" fill="#f6e824" transform="rotate(30.0 43.0 31.0)"/>
<ellipse cx="30.0" cy="24.0" rx="1.95" ry="1.17" fill="#f6e824" transform="rotate(-30.0 30.0 24.0)"/>
<ellipse cx="34.0" cy="20.0" rx="1.17" ry="1.95" fill="#ff8a1e"/>
<ellipse cx="44.0" cy="22.0" rx="1.56" ry="1.17" fill="#b4f030"/>
<ellipse cx="21.0" cy="30.0" rx="1.17" ry="2.34" fill="#f6e824" transform="rotate(20.0 21.0 30.0)"/>
<ellipse cx="28.0" cy="41.0" rx="1.56" ry="1.56" fill="#f6e824"/>
<ellipse cx="36.0" cy="44.0" rx="1.56" ry="1.17" fill="#f6e824"/>
<ellipse cx="47.0" cy="35.0" rx="1.95" ry="1.17" fill="#ff8a1e" transform="rotate(40.0 47.0 35.0)"/>
<ellipse cx="52.0" cy="42.0" rx="1.56" ry="1.95" fill="#f6e824"/>
<ellipse cx="13.0" cy="44.0" rx="1.56" ry="1.56" fill="#f6e824"/>
<ellipse cx="6.0" cy="46.0" rx="1.56" ry="1.17" fill="#ff8a1e"/>
<ellipse cx="58.0" cy="33.0" rx="1.17" ry="1.56" fill="#ff8a1e"/>
<ellipse cx="53.0" cy="17.0" rx="1.17" ry="1.56" fill="#f6e824" opacity="0.9"/>
<ellipse cx="21.5" cy="21.3" rx="2.34" ry="1.95" fill="#f6e824"/>
<ellipse cx="15.3" cy="35.0" rx="1.95" ry="3.9" fill="#ff8a1e"/>
<ellipse cx="17.1" cy="40.0" rx="2.73" ry="2.34" fill="#f6e824"/>
<ellipse cx="24.0" cy="45.0" rx="1.95" ry="1.95" fill="#f6e824"/>
<ellipse cx="31.5" cy="46.9" rx="3.51" ry="2.73" fill="#ff8a1e"/>
<ellipse cx="56.5" cy="46.9" rx="3.51" ry="3.12" fill="#ff8a1e"/>
<ellipse cx="56.5" cy="46.0" rx="1.95" ry="1.56" fill="#fff4d8" opacity="0.8"/>
<ellipse cx="11.5" cy="51.3" rx="2.73" ry="1.56" fill="#ff8a1e"/>
<ellipse cx="50.3" cy="27.5" rx="1.17" ry="2.73" fill="#b4f030"/>
<ellipse cx="56.5" cy="26.9" rx="1.56" ry="1.17" fill="#fff4d8" opacity="0.8"/>
<ellipse cx="6.5" cy="22.5" rx="1.56" ry="2.34" fill="#22e05a"/>
<ellipse cx="10.3" cy="25.0" rx="1.56" ry="1.95" fill="#ff4a6a"/>
<ellipse cx="1.5" cy="13.8" rx="1.17" ry="1.17" fill="#ff8a1e"/>
<ellipse cx="1.5" cy="1.3" rx="1.17" ry="1.17" fill="#f6e824"/>
<ellipse cx="51.5" cy="6.3" rx="1.17" ry="2.34" fill="#b4f030"/>
<ellipse cx="40.9" cy="18.8" rx="1.56" ry="1.56" fill="#e8309a"/>
<ellipse cx="26.5" cy="30.0" rx="1.56" ry="3.12" fill="#22e05a"/>
<ellipse cx="39.6" cy="38.8" rx="1.56" ry="1.56" fill="#f6e824"/>
<ellipse cx="25.3" cy="37.5" rx="1.56" ry="1.56" fill="#22e05a"/>
<ellipse cx="37.8" cy="10.0" rx="1.17" ry="1.17" fill="#ff8a1e"/>
<ellipse cx="41.5" cy="2.5" rx="0.94" ry="0.94" fill="#ff8a1e"/>
<ellipse cx="32.8" cy="38.8" rx="1.95" ry="1.95" fill="#f2261e"/>
<ellipse cx="7.8" cy="18.8" rx="1.56" ry="1.56" fill="#b4f030"/>
<ellipse cx="45.0" cy="40.0" rx="1.56" ry="2.34" fill="#ff8a1e" opacity="0.9"/>
<ellipse cx="20.0" cy="28.0" rx="1.56" ry="1.56" fill="#ff8a1e"/>
<ellipse cx="48.0" cy="50.0" rx="1.56" ry="1.56" fill="#f2261e" opacity="0.8"/>
<ellipse cx="60.0" cy="38.0" rx="1.17" ry="1.95" fill="#f6e824" opacity="0.8"/>
<ellipse cx="33.0" cy="33.0" rx="1.17" ry="1.17" fill="#b4f030"/>
</g>
<g filter="url(#tb)"><rect x="357.10" y="265.10" width="8.6" height="0.85" fill="#fff" opacity="0.95"/><text x="361.40" y="269.30" font-size="3.2" text-anchor="middle" fill="#fff" opacity="0.85">20 μm</text></g>
</g>
<g clip-path="url(#c15)">
<rect x="49.0" y="273.7" width="63.00" height="55.00" fill="#000" filter="url(#f15)"/>
<g filter="url(#bl)" transform="translate(49.0 273.7)" opacity="0.88">
<ellipse cx="54.5" cy="8.6" rx="1.0" ry="1.24" fill="#f2261e" opacity="0.82"/>
<ellipse cx="59.5" cy="37.6" rx="0.92" ry="0.73" fill="#f2261e" transform="rotate(90 59.5 37.6)" opacity="0.75"/>
<ellipse cx="55.8" cy="29.4" rx="0.95" ry="1.27" fill="#ff4a6a" transform="rotate(-30 55.8 29.4)" opacity="0.96"/>
<ellipse cx="33.2" cy="36.6" rx="0.92" ry="0.7" fill="#f2261e" transform="rotate(60 33.2 36.6)" opacity="0.85"/>
<ellipse cx="58.5" cy="30.7" rx="0.74" ry="0.93" fill="#ff4a6a" transform="rotate(30 58.5 30.7)" opacity="0.85"/>
<ellipse cx="6.2" cy="36.3" rx="0.63" ry="0.83" fill="#ff4a6a" opacity="0.87"/>
<ellipse cx="35.7" cy="45.4" rx="0.93" ry="1.31" fill="#f2261e" transform="rotate(90 35.7 45.4)" opacity="0.9"/>
<ellipse cx="46.5" cy="28.9" rx="1.33" ry="1.33" fill="#f2261e"/>
<ellipse cx="55.6" cy="28.9" rx="1.19" ry="1.19" fill="#ff4a6a" opacity="0.8"/>
<ellipse cx="38.3" cy="23.4" rx="0.8" ry="0.8" fill="#f2261e"/>
<ellipse cx="43.7" cy="51.7" rx="1.19" ry="1.19" fill="#f2261e"/>
<ellipse cx="2.4" cy="26.7" rx="0.8" ry="0.8" fill="#f2261e" opacity="0.6"/>
<ellipse cx="46.5" cy="8.3" rx="0.66" ry="0.66" fill="#f2261e" opacity="0.6"/>
<ellipse cx="62.0" cy="36.5" rx="0.8" ry="0.8" fill="#f2261e"/>
</g>
<g filter="url(#tb)"><rect x="100.40" y="322.10" width="8.6" height="0.85" fill="#fff" opacity="0.95"/><text x="104.70" y="326.30" font-size="3.2" text-anchor="middle" fill="#fff" opacity="0.85">20 μm</text></g>
</g>
<g clip-path="url(#c16)">
<rect x="114.3" y="273.7" width="62.00" height="55.00" fill="#000" filter="url(#f16)"/>
<g filter="url(#bl)" transform="translate(114.3 273.7)" opacity="0.88">
<ellipse cx="6.9" cy="27.1" rx="0.62" ry="0.83" fill="#ff4a6a" transform="rotate(30 6.9 27.1)" opacity="0.98"/>
<ellipse cx="20.5" cy="26.4" rx="0.63" ry="0.7" fill="#f2261e" opacity="0.94"/>
<ellipse cx="52.4" cy="36.7" rx="0.95" ry="1.08" fill="#f2261e" opacity="0.99"/>
<ellipse cx="19.3" cy="44.6" rx="0.62" ry="0.72" fill="#f2261e" transform="rotate(-30 19.3 44.6)" opacity="0.97"/>
<ellipse cx="58.1" cy="10.5" rx="1.02" ry="0.78" fill="#ff4a6a" transform="rotate(60 58.1 10.5)" opacity="0.81"/>
<ellipse cx="46.0" cy="21.5" rx="0.8" ry="0.61" fill="#f2261e" transform="rotate(90 46.0 21.5)" opacity="0.94"/>
<ellipse cx="53.9" cy="16.4" rx="1.06" ry="1.41" fill="#f2261e" transform="rotate(90 53.9 16.4)" opacity="0.9"/>
<ellipse cx="37.0" cy="18.0" rx="1.33" ry="1.33" fill="#ff4a6a" opacity="0.8"/>
<ellipse cx="53.3" cy="23.4" rx="0.99" ry="0.99" fill="#f2261e" opacity="0.8"/>
<ellipse cx="52.2" cy="31.0" rx="0.99" ry="0.99" fill="#ff4a6a" opacity="0.8"/>
<ellipse cx="30.5" cy="35.4" rx="0.8" ry="0.8" fill="#f2261e" opacity="0.7"/>
<ellipse cx="27.2" cy="10.4" rx="0.8" ry="0.8" fill="#f2261e" opacity="0.6"/>
<ellipse cx="42.4" cy="45.2" rx="0.8" ry="0.8" fill="#f2261e" opacity="0.7"/>
</g>
<g filter="url(#tb)"><rect x="164.70" y="322.10" width="8.6" height="0.85" fill="#fff" opacity="0.95"/><text x="169.00" y="326.30" font-size="3.2" text-anchor="middle" fill="#fff" opacity="0.85">20 μm</text></g>
</g>
<g clip-path="url(#c17)">
<rect x="178.3" y="273.7" width="62.50" height="55.00" fill="#000" filter="url(#f17)"/>
<g filter="url(#bl)" transform="translate(178.3 273.7)" opacity="0.95">
<ellipse cx="53.2" cy="31.3" rx="1.02" ry="0.76" fill="#f2261e" transform="rotate(60 53.2 31.3)" opacity="0.75"/>
<ellipse cx="51.8" cy="9.8" rx="1.42" ry="1.62" fill="#f2261e" transform="rotate(-30 51.8 9.8)" opacity="0.96"/>
<ellipse cx="12.6" cy="43.7" rx="0.98" ry="1.06" fill="#f2261e" transform="rotate(90 12.6 43.7)" opacity="0.84"/>
<ellipse cx="7.4" cy="44.1" rx="1.04" ry="0.97" fill="#f2261e" transform="rotate(90 7.4 44.1)" opacity="0.79"/>
<ellipse cx="55.8" cy="24.4" rx="1.26" ry="1.07" fill="#f2261e" transform="rotate(90 55.8 24.4)" opacity="0.86"/>
<ellipse cx="46.0" cy="45.0" rx="1.1" ry="0.82" fill="#f2261e" opacity="0.92"/>
<ellipse cx="37.5" cy="4.8" rx="1.33" ry="1.62" fill="#f2261e" opacity="0.94"/>
<ellipse cx="31.1" cy="28.6" rx="1.26" ry="0.94" fill="#f2261e" opacity="0.96"/>
<ellipse cx="33.9" cy="18.8" rx="1.01" ry="1.1" fill="#f2261e" transform="rotate(-30 33.9 18.8)" opacity="0.96"/>
<ellipse cx="29.0" cy="3.1" rx="1.16" ry="1.2" fill="#f2261e" transform="rotate(60 29.0 3.1)" opacity="0.85"/>
<ellipse cx="17.2" cy="7.1" rx="1.24" ry="0.96" fill="#f2261e" transform="rotate(30 17.2 7.1)" opacity="0.77"/>
<ellipse cx="3.0" cy="52.0" rx="1.45" ry="1.96" fill="#f2261e" transform="rotate(-30 3.0 52.0)" opacity="0.82"/>
<ellipse cx="55.2" cy="18.0" rx="1.63" ry="1.63" fill="#f2261e"/>
<ellipse cx="43.3" cy="24.1" rx="1.63" ry="1.63" fill="#f2261e"/>
<ellipse cx="49.8" cy="30.0" rx="2.22" ry="1.85" fill="#f2261e"/>
<ellipse cx="47.6" cy="36.5" rx="1.48" ry="1.48" fill="#f2261e"/>
<ellipse cx="42.2" cy="45.2" rx="1.48" ry="1.48" fill="#f2261e"/>
<ellipse cx="32.4" cy="40.8" rx="1.11" ry="1.85" fill="#f2261e"/>
<ellipse cx="4.2" cy="31.0" rx="1.48" ry="2.22" fill="#f2261e"/>
<ellipse cx="12.9" cy="26.7" rx="1.11" ry="1.11" fill="#f2261e"/>
<ellipse cx="17.2" cy="34.3" rx="1.11" ry="1.11" fill="#f2261e"/>
<ellipse cx="23.8" cy="50.6" rx="1.11" ry="1.85" fill="#f2261e"/>
<ellipse cx="39.0" cy="16.9" rx="1.11" ry="1.11" fill="#f2261e"/>
<ellipse cx="14.0" cy="47.3" rx="0.89" ry="0.89" fill="#f2261e" opacity="0.8"/>
<ellipse cx="53.0" cy="39.7" rx="1.11" ry="1.11" fill="#f2261e"/>
<ellipse cx="36.0" cy="8.0" rx="0.89" ry="0.89" fill="#f2261e" opacity="0.6"/>
<ellipse cx="46.0" cy="27.0" rx="1.48" ry="1.48" fill="#f2261e"/>
<ellipse cx="52.0" cy="26.0" rx="1.33" ry="1.63" fill="#f2261e"/>
<ellipse cx="45.0" cy="33.0" rx="1.48" ry="1.11" fill="#f2261e"/>
<ellipse cx="8.0" cy="35.0" rx="1.48" ry="1.48" fill="#f2261e"/>
<ellipse cx="6.0" cy="27.0" rx="1.11" ry="1.48" fill="#f2261e"/>
<ellipse cx="50.0" cy="42.0" rx="1.11" ry="1.11" fill="#f2261e"/>
<ellipse cx="38.0" cy="30.0" rx="1.11" ry="1.11" fill="#f2261e" opacity="0.8"/>
<ellipse cx="27.0" cy="36.0" rx="1.11" ry="1.11" fill="#f2261e" opacity="0.8"/>
<ellipse cx="58.0" cy="22.0" rx="1.11" ry="1.11" fill="#f2261e" opacity="0.8"/>
</g>
<g filter="url(#tb)"><rect x="229.20" y="322.10" width="8.6" height="0.85" fill="#fff" opacity="0.95"/><text x="233.50" y="326.30" font-size="3.2" text-anchor="middle" fill="#fff" opacity="0.85">20 μm</text></g>
</g>
<g clip-path="url(#c18)">
<rect x="242.7" y="273.7" width="61.60" height="55.00" fill="#000" filter="url(#f18)"/>
<g filter="url(#bl)" transform="translate(242.7 273.7)" opacity="0.88">
<ellipse cx="46.2" cy="36.6" rx="0.88" ry="0.88" fill="#f2261e" transform="rotate(60 46.2 36.6)" opacity="0.99"/>
<ellipse cx="56.2" cy="22.9" rx="0.93" ry="1.02" fill="#f2261e" transform="rotate(90 56.2 22.9)" opacity="0.77"/>
<ellipse cx="19.9" cy="13.8" rx="1.02" ry="1.49" fill="#f2261e" transform="rotate(60 19.9 13.8)" opacity="0.82"/>
<ellipse cx="27.6" cy="36.2" rx="1.09" ry="0.99" fill="#f2261e" opacity="0.86"/>
<ellipse cx="43.8" cy="28.3" rx="1.07" ry="0.83" fill="#f2261e" transform="rotate(90 43.8 28.3)" opacity="0.84"/>
<ellipse cx="47.9" cy="52.3" rx="0.93" ry="1.07" fill="#f2261e" opacity="0.99"/>
<ellipse cx="41.7" cy="36.5" rx="0.99" ry="0.88" fill="#f2261e" transform="rotate(-30 41.7 36.5)" opacity="0.81"/>
<ellipse cx="23.2" cy="39.6" rx="0.86" ry="0.65" fill="#f2261e" transform="rotate(90 23.2 39.6)" opacity="0.75"/>
<ellipse cx="53.3" cy="16.7" rx="1.06" ry="1.48" fill="#f2261e" transform="rotate(60 53.3 16.7)" opacity="0.75"/>
<ellipse cx="27.7" cy="9.3" rx="0.99" ry="0.99" fill="#f2261e" opacity="0.8"/>
<ellipse cx="34.3" cy="22.4" rx="1.19" ry="1.19" fill="#f2261e"/>
<ellipse cx="28.8" cy="23.4" rx="0.8" ry="0.8" fill="#f2261e" opacity="0.8"/>
<ellipse cx="37.5" cy="27.8" rx="0.99" ry="0.99" fill="#f2261e"/>
<ellipse cx="44.0" cy="26.7" rx="0.99" ry="0.99" fill="#f2261e"/>
<ellipse cx="59.9" cy="25.6" rx="1.19" ry="1.19" fill="#f2261e"/>
<ellipse cx="39.0" cy="47.3" rx="0.99" ry="1.66" fill="#f2261e"/>
<ellipse cx="15.8" cy="23.4" rx="0.8" ry="0.8" fill="#f2261e" opacity="0.7"/>
<ellipse cx="46.2" cy="13.7" rx="0.66" ry="0.66" fill="#f2261e" opacity="0.7"/>
<ellipse cx="21.0" cy="12.0" rx="0.66" ry="0.66" fill="#f2261e" opacity="0.6"/>
</g>
<g filter="url(#tb)"><rect x="292.70" y="322.10" width="8.6" height="0.85" fill="#fff" opacity="0.95"/><text x="297.00" y="326.30" font-size="3.2" text-anchor="middle" fill="#fff" opacity="0.85">20 μm</text></g>
</g>
<g clip-path="url(#c19)">
<rect x="306.2" y="273.7" width="62.50" height="55.00" fill="#000" filter="url(#f19)"/>
<g filter="url(#bl)" transform="translate(306.2 273.7)" opacity="0.95">
<ellipse cx="7.9" cy="25.6" rx="0.93" ry="0.89" fill="#ff4a6a" transform="rotate(60 7.9 25.6)" opacity="0.98"/>
<ellipse cx="12.4" cy="10.9" rx="1.33" ry="1.22" fill="#f2261e" transform="rotate(90 12.4 10.9)" opacity="0.91"/>
<ellipse cx="21.8" cy="5.0" rx="1.57" ry="2.14" fill="#f2261e" transform="rotate(-30 21.8 5.0)" opacity="0.88"/>
<ellipse cx="10.8" cy="47.2" rx="1.5" ry="2.18" fill="#f2261e" transform="rotate(60 10.8 47.2)" opacity="0.85"/>
<ellipse cx="53.1" cy="25.8" rx="1.55" ry="2.06" fill="#f2261e" transform="rotate(90 53.1 25.8)" opacity="0.94"/>
<ellipse cx="54.0" cy="46.2" rx="0.96" ry="1.04" fill="#f2261e" transform="rotate(90 54.0 46.2)" opacity="0.82"/>
<ellipse cx="60.8" cy="23.1" rx="1.31" ry="1.71" fill="#ff4a6a" transform="rotate(-30 60.8 23.1)" opacity="0.77"/>
<ellipse cx="49.3" cy="33.3" rx="1.44" ry="1.59" fill="#f2261e" opacity="0.81"/>
<ellipse cx="3.6" cy="17.3" rx="1.36" ry="1.5" fill="#ff4a6a" opacity="0.76"/>
<ellipse cx="38.8" cy="33.2" rx="1.15" ry="0.82" fill="#f2261e" opacity="0.91"/>
<ellipse cx="39.3" cy="28.2" rx="1.27" ry="1.72" fill="#f2261e" transform="rotate(60 39.3 28.2)" opacity="0.96"/>
<ellipse cx="24.1" cy="11.1" rx="1.24" ry="1.11" fill="#f2261e" opacity="0.93"/>
<ellipse cx="28.4" cy="3.1" rx="1.48" ry="1.48" fill="#f2261e"/>
<ellipse cx="41.5" cy="5.6" rx="1.48" ry="1.48" fill="#f2261e"/>
<ellipse cx="9.0" cy="9.4" rx="2.22" ry="1.85" fill="#f2261e" opacity="0.9"/>
<ellipse cx="23.4" cy="10.0" rx="1.63" ry="1.63" fill="#f2261e"/>
<ellipse cx="27.8" cy="21.9" rx="2.22" ry="1.85" fill="#ff4a6a"/>
<ellipse cx="37.1" cy="23.1" rx="1.48" ry="1.48" fill="#f2261e"/>
<ellipse cx="25.3" cy="30.6" rx="1.85" ry="2.22" fill="#f2261e"/>
<ellipse cx="3.4" cy="30.6" rx="1.48" ry="1.48" fill="#f2261e"/>
<ellipse cx="6.5" cy="37.5" rx="2.22" ry="2.59" fill="#f2261e"/>
<ellipse cx="2.1" cy="41.9" rx="1.48" ry="1.48" fill="#f2261e"/>
<ellipse cx="12.1" cy="41.3" rx="1.48" ry="1.48" fill="#f2261e"/>
<ellipse cx="24.0" cy="39.4" rx="2.22" ry="1.85" fill="#f2261e"/>
<ellipse cx="31.5" cy="40.6" rx="1.85" ry="2.59" fill="#f2261e"/>
<ellipse cx="45.3" cy="31.9" rx="1.48" ry="2.22" fill="#f2261e" opacity="0.9"/>
<ellipse cx="59.0" cy="37.5" rx="1.48" ry="1.48" fill="#f2261e"/>
<ellipse cx="42.8" cy="41.3" rx="1.48" ry="1.48" fill="#f2261e" opacity="0.8"/>
<ellipse cx="56.5" cy="18.8" rx="1.11" ry="1.11" fill="#f2261e" opacity="0.8"/>
<ellipse cx="49.0" cy="3.1" rx="1.11" ry="1.11" fill="#f2261e" opacity="0.8"/>
<ellipse cx="20.3" cy="12.5" rx="1.11" ry="1.11" fill="#f2261e"/>
<ellipse cx="25.3" cy="51.3" rx="1.11" ry="1.11" fill="#f2261e" opacity="0.7"/>
<ellipse cx="15.0" cy="20.0" rx="1.33" ry="1.33" fill="#f2261e"/>
<ellipse cx="33.0" cy="14.0" rx="1.33" ry="1.33" fill="#f2261e"/>
<ellipse cx="48.0" cy="14.0" rx="1.11" ry="1.48" fill="#f2261e"/>
<ellipse cx="52.0" cy="28.0" rx="1.33" ry="1.33" fill="#f2261e"/>
<ellipse cx="18.0" cy="30.0" rx="1.33" ry="1.48" fill="#f2261e"/>
<ellipse cx="36.0" cy="32.0" rx="1.11" ry="1.11" fill="#f2261e"/>
<ellipse cx="50.0" cy="44.0" rx="1.33" ry="1.33" fill="#f2261e"/>
<ellipse cx="16.0" cy="47.0" rx="1.11" ry="1.11" fill="#f2261e"/>
<ellipse cx="38.0" cy="48.0" rx="1.11" ry="1.11" fill="#f2261e" opacity="0.8"/>
<ellipse cx="57.0" cy="8.0" rx="1.11" ry="1.11" fill="#f2261e" opacity="0.8"/>
<ellipse cx="5.0" cy="20.0" rx="1.11" ry="1.11" fill="#f2261e" opacity="0.8"/>
<ellipse cx="44.0" cy="20.0" rx="0.89" ry="0.89" fill="#f2261e" opacity="0.8"/>
</g>
<g filter="url(#tb)"><rect x="357.10" y="322.10" width="8.6" height="0.85" fill="#fff" opacity="0.95"/><text x="361.40" y="326.30" font-size="3.2" text-anchor="middle" fill="#fff" opacity="0.85">20 μm</text></g>
</g>
<g clip-path="url(#c20)">
<rect x="46.3" y="391.8" width="59.20" height="47.40" fill="#000" filter="url(#f20)"/>
<g filter="url(#bl)" transform="translate(46.3 391.8)" opacity="1">
<ellipse cx="8.1" cy="18.8" rx="1.28" ry="1.22" fill="#22d8b8" opacity="0.94"/>
<ellipse cx="8.7" cy="38.4" rx="1.65" ry="1.94" fill="#159a8a" opacity="0.8"/>
<ellipse cx="18.2" cy="25.5" rx="1.4" ry="1.8" fill="#159a8a" transform="rotate(60 18.2 25.5)" opacity="0.96"/>
<ellipse cx="52.9" cy="8.3" rx="1.41" ry="1.62" fill="#22d8b8" transform="rotate(90 52.9 8.3)" opacity="0.97"/>
<ellipse cx="43.0" cy="11.0" rx="1.73" ry="1.68" fill="#22d8b8" transform="rotate(90 43.0 11.0)" opacity="0.84"/>
<ellipse cx="30.0" cy="18.6" rx="1.35" ry="1.05" fill="#f2261e" transform="rotate(60 30.0 18.6)" opacity="0.95"/>
<ellipse cx="2.8" cy="15.4" rx="1.44" ry="1.9" fill="#f6e824" opacity="0.92"/>
<ellipse cx="57.0" cy="31.3" rx="1.42" ry="1.33" fill="#ff8a1e" transform="rotate(60 57.0 31.3)" opacity="0.77"/>
<ellipse cx="49.9" cy="7.0" rx="1.93" ry="1.85" fill="#b4f030" transform="rotate(90 49.9 7.0)" opacity="0.92"/>
<ellipse cx="16.7" cy="28.2" rx="1.27" ry="1.09" fill="#b4f030" transform="rotate(-30 16.7 28.2)" opacity="0.89"/>
<ellipse cx="46.3" cy="3.4" rx="1.65" ry="1.85" fill="#22e05a" transform="rotate(60 46.3 3.4)" opacity="0.93"/>
<ellipse cx="28.0" cy="36.7" rx="1.32" ry="1.65" fill="#22e05a" transform="rotate(30 28.0 36.7)" opacity="0.95"/>
<ellipse cx="51.7" cy="34.3" rx="1.41" ry="1.47" fill="#159a8a" opacity="0.97"/>
<ellipse cx="2.6" cy="11.4" rx="1.59" ry="1.36" fill="#159a8a" transform="rotate(30 2.6 11.4)" opacity="0.98"/>
<ellipse cx="53.2" cy="2.4" rx="1.71" ry="2.34" fill="#f6e824"/>
<ellipse cx="33.7" cy="7.9" rx="1.34" ry="1.26" fill="#b4f030" transform="rotate(-30 33.7 7.9)" opacity="0.8"/>
<ellipse cx="16.4" cy="30.4" rx="1.75" ry="1.3" fill="#22e05a" transform="rotate(90 16.4 30.4)"/>
<ellipse cx="37.8" cy="4.4" rx="1.59" ry="2.2" fill="#22d8b8" opacity="0.75"/>
<ellipse cx="53.3" cy="34.9" rx="1.22" ry="1.79" fill="#f6e824" transform="rotate(60 53.3 34.9)" opacity="0.97"/>
<ellipse cx="21.9" cy="24.3" rx="1.3" ry="1.09" fill="#ff8a1e" transform="rotate(-30 21.9 24.3)" opacity="0.97"/>
<ellipse cx="3.2" cy="45.1" rx="1.9" ry="2.81" fill="#22e05a" opacity="0.95"/>
<ellipse cx="13.5" cy="25.4" rx="1.66" ry="1.72" fill="#b4f030" transform="rotate(90 13.5 25.4)" opacity="0.83"/>
<ellipse cx="39.8" cy="32.0" rx="1.22" ry="1.65" fill="#b4f030" transform="rotate(-30 39.8 32.0)" opacity="0.92"/>
<ellipse cx="8.5" cy="26.4" rx="1.38" ry="1.34" fill="#f2261e" transform="rotate(90 8.5 26.4)" opacity="0.91"/>
<ellipse cx="28.4" cy="21.9" rx="1.86" ry="1.4" fill="#f2261e" transform="rotate(-30 28.4 21.9)" opacity="0.9"/>
<ellipse cx="11.1" cy="9.2" rx="1.84" ry="2.2" fill="#f6e824" transform="rotate(-30 11.1 9.2)" opacity="0.9"/>
<ellipse cx="10.2" cy="31.9" rx="1.16" ry="1.6" fill="#fff4d8" transform="rotate(60 10.2 31.9)" opacity="0.97"/>
<ellipse cx="40.1" cy="30.8" rx="1.86" ry="1.31" fill="#f2261e" opacity="0.84"/>
<ellipse cx="12.1" cy="8.8" rx="1.22" ry="1.16" fill="#ff8a1e" transform="rotate(90 12.1 8.8)" opacity="0.96"/>
<ellipse cx="2.9" cy="12.4" rx="1.37" ry="1.2" fill="#f2261e" transform="rotate(30 2.9 12.4)" opacity="0.77"/>
<ellipse cx="3.7" cy="24.2" rx="1.61" ry="1.84" fill="#b4f030" transform="rotate(60 3.7 24.2)"/>
<ellipse cx="33.1" cy="43.7" rx="1.12" ry="1.54" fill="#159a8a" transform="rotate(-30 33.1 43.7)" opacity="0.94"/>
<ellipse cx="36.7" cy="34.5" rx="1.16" ry="1.56" fill="#f6e824" opacity="0.75"/>
<ellipse cx="16.8" cy="37.7" rx="1.79" ry="2.35" fill="#f6e824" opacity="0.8"/>
<ellipse cx="10.0" cy="8.0" rx="7.02" ry="5.46" fill="#2a2ae0" opacity="0.5"/>
<ellipse cx="50.0" cy="20.0" rx="7.02" ry="6.24" fill="#02000a" opacity="0.5"/>
<ellipse cx="44.0" cy="40.0" rx="3.9" ry="3.12" fill="#02000a" opacity="0.5"/>
<ellipse cx="30.6" cy="2.5" rx="2.73" ry="1.95" fill="#f6e824"/>
<ellipse cx="37.0" cy="6.9" rx="1.17" ry="1.17" fill="#fff4d8" opacity="0.7"/>
<ellipse cx="33.6" cy="9.4" rx="2.34" ry="0.78" fill="#22d8b8"/>
<ellipse cx="44.9" cy="9.9" rx="2.34" ry="1.95" fill="#ff8a1e"/>
<ellipse cx="44.9" cy="9.5" rx="1.17" ry="0.94" fill="#f6e824"/>
<ellipse cx="50.3" cy="3.5" rx="2.73" ry="2.5" fill="#159a8a" opacity="0.8"/>
<ellipse cx="50.3" cy="3.5" rx="1.56" ry="1.4" fill="#02000a" opacity="0.7"/>
<ellipse cx="55.8" cy="14.8" rx="1.95" ry="2.34" fill="#b4f030"/>
<ellipse cx="34.1" cy="16.8" rx="2.73" ry="2.34" fill="#ff8a1e"/>
<ellipse cx="34.1" cy="17.5" rx="1.56" ry="1.17" fill="#f2261e"/>
<ellipse cx="24.7" cy="21.2" rx="2.34" ry="1.95" fill="#f2261e"/>
<ellipse cx="29.6" cy="23.7" rx="2.34" ry="2.73" fill="#f6e824"/>
<ellipse cx="32.6" cy="27.1" rx="3.12" ry="1.95" fill="#f6e824"/>
<ellipse cx="26.7" cy="29.6" rx="1.95" ry="1.95" fill="#f6e824"/>
<ellipse cx="31.6" cy="30.6" rx="2.73" ry="2.34" fill="#f2261e"/>
<ellipse cx="33.6" cy="32.6" rx="2.34" ry="2.34" fill="#e8309a" opacity="0.9"/>
<ellipse cx="39.0" cy="30.6" rx="1.95" ry="3.12" fill="#f6e824" transform="rotate(-30.0 39.0 30.6)"/>
<ellipse cx="42.9" cy="29.1" rx="1.17" ry="1.17" fill="#fff4d8"/>
<ellipse cx="46.4" cy="28.1" rx="1.95" ry="1.95" fill="#159a8a"/>
<ellipse cx="55.3" cy="29.1" rx="2.34" ry="2.73" fill="#ff8a1e"/>
<ellipse cx="54.3" cy="26.6" rx="1.56" ry="1.17" fill="#f6e824"/>
<ellipse cx="54.8" cy="20.2" rx="1.17" ry="1.17" fill="#22e05a"/>
<ellipse cx="13.3" cy="18.3" rx="3.9" ry="1.56" fill="#159a8a" transform="rotate(-30.0 13.3 18.3)"/>
<ellipse cx="18.8" cy="14.8" rx="1.56" ry="1.56" fill="#159a8a"/>
<ellipse cx="21.2" cy="6.9" rx="1.56" ry="2.34" fill="#159a8a"/>
<ellipse cx="6.9" cy="26.2" rx="2.73" ry="1.95" fill="#f6e824"/>
<ellipse cx="10.9" cy="30.6" rx="2.34" ry="1.95" fill="#ff8a1e"/>
<ellipse cx="2.5" cy="32.6" rx="2.73" ry="2.34" fill="#f6e824"/>
<ellipse cx="3.0" cy="35.5" rx="1.95" ry="1.17" fill="#f2261e"/>
<ellipse cx="10.4" cy="36.5" rx="2.34" ry="2.34" fill="#e8309a" opacity="0.8"/>
<ellipse cx="3.5" cy="41.5" rx="3.12" ry="2.34" fill="#22e05a"/>
<ellipse cx="8.9" cy="42.4" rx="1.95" ry="1.95" fill="#22e05a"/>
<ellipse cx="16.3" cy="42.9" rx="1.95" ry="1.95" fill="#f6e824"/>
<ellipse cx="19.7" cy="42.4" rx="2.34" ry="2.34" fill="#22e05a"/>
<ellipse cx="35.5" cy="39.5" rx="2.34" ry="1.95" fill="#ff8a1e"/>
<ellipse cx="36.0" cy="40.0" rx="1.4" ry="1.17" fill="#f2261e"/>
<ellipse cx="42.4" cy="39.5" rx="1.95" ry="1.56" fill="#159a8a"/>
<ellipse cx="28.6" cy="41.5" rx="1.56" ry="1.56" fill="#22e05a" opacity="0.7"/>
<ellipse cx="26.2" cy="37.0" rx="1.56" ry="1.56" fill="#e8309a" opacity="0.6"/>
<ellipse cx="1.0" cy="28.6" rx="1.56" ry="1.56" fill="#22e05a"/>
<ellipse cx="22.0" cy="28.0" rx="1.56" ry="1.56" fill="#22d8b8" opacity="0.6"/>
<ellipse cx="15.0" cy="24.0" rx="1.56" ry="1.17" fill="#159a8a" opacity="0.7"/>
</g>
<g filter="url(#tb)"><rect x="92.80" y="432.60" width="9.7" height="0.85" fill="#fff" opacity="0.95"/><text x="97.65" y="436.80" font-size="3.2" text-anchor="middle" fill="#fff" opacity="0.85">20 μm</text></g>
</g>
<g clip-path="url(#c21)">
<rect x="108.0" y="391.8" width="59.00" height="47.40" fill="#000" filter="url(#f21)"/>
<g filter="url(#bl)" transform="translate(108.0 391.8)" opacity="1">
<ellipse cx="26.4" cy="32.7" rx="0.87" ry="1.19" fill="#f6e824" transform="rotate(30 26.4 32.7)" opacity="0.76"/>
<ellipse cx="31.6" cy="23.8" rx="0.94" ry="0.69" fill="#a05a20" opacity="0.78"/>
<ellipse cx="36.0" cy="37.9" rx="1.06" ry="0.88" fill="#a05a20" transform="rotate(90 36.0 37.9)" opacity="0.91"/>
<ellipse cx="46.6" cy="41.2" rx="1.32" ry="1.46" fill="#ff8a1e" transform="rotate(-30 46.6 41.2)" opacity="0.76"/>
<ellipse cx="26.6" cy="13.3" rx="1.54" ry="1.41" fill="#f2261e" opacity="0.82"/>
<ellipse cx="46.9" cy="35.9" rx="1.14" ry="0.98" fill="#ff8a1e" opacity="0.82"/>
<ellipse cx="52.7" cy="28.1" rx="1.16" ry="1.47" fill="#f2261e" transform="rotate(30 52.7 28.1)" opacity="0.85"/>
<ellipse cx="27.0" cy="29.1" rx="1.16" ry="1.16" fill="#f6e824" transform="rotate(30 27.0 29.1)" opacity="0.89"/>
<ellipse cx="27.0" cy="4.2" rx="1.11" ry="0.94" fill="#f6e824" transform="rotate(90 27.0 4.2)" opacity="0.92"/>
<ellipse cx="42.1" cy="28.2" rx="0.87" ry="0.97" fill="#f6e824" transform="rotate(60 42.1 28.2)" opacity="0.96"/>
<ellipse cx="9.4" cy="7.1" rx="1.53" ry="1.64" fill="#f6e824" transform="rotate(90 9.4 7.1)" opacity="0.83"/>
<ellipse cx="42.4" cy="40.9" rx="1.33" ry="1.07" fill="#f2261e" transform="rotate(60 42.4 40.9)" opacity="0.85"/>
<ellipse cx="19.7" cy="19.5" rx="1.1" ry="1.26" fill="#a05a20" transform="rotate(30 19.7 19.5)" opacity="0.98"/>
<ellipse cx="20.4" cy="9.8" rx="1.38" ry="1.73" fill="#ff8a1e" transform="rotate(-30 20.4 9.8)" opacity="0.98"/>
<ellipse cx="40.0" cy="15.7" rx="1.11" ry="1.38" fill="#f2261e" transform="rotate(60 40.0 15.7)" opacity="0.83"/>
<ellipse cx="29.6" cy="8.7" rx="0.92" ry="0.73" fill="#f2261e" transform="rotate(30 29.6 8.7)" opacity="0.83"/>
<ellipse cx="21.3" cy="20.9" rx="1.13" ry="1.38" fill="#f6e824" transform="rotate(30 21.3 20.9)" opacity="0.79"/>
<ellipse cx="26.2" cy="41.3" rx="1.12" ry="1.14" fill="#ff8a1e" transform="rotate(-30 26.2 41.3)" opacity="0.97"/>
<ellipse cx="5.3" cy="33.1" rx="0.93" ry="0.87" fill="#f2261e" transform="rotate(30 5.3 33.1)" opacity="0.79"/>
<ellipse cx="37.9" cy="11.2" rx="1.38" ry="1.04" fill="#f6e824" transform="rotate(90 37.9 11.2)" opacity="0.95"/>
<ellipse cx="49.2" cy="9.3" rx="1.02" ry="0.88" fill="#f2261e" transform="rotate(30 49.2 9.3)" opacity="0.95"/>
<ellipse cx="20.9" cy="38.3" rx="1.39" ry="1.44" fill="#a05a20" transform="rotate(60 20.9 38.3)" opacity="0.99"/>
<ellipse cx="49.2" cy="24.9" rx="0.96" ry="1.23" fill="#f6e824" transform="rotate(-30 49.2 24.9)" opacity="0.84"/>
<ellipse cx="11.7" cy="18.4" rx="1.34" ry="1.61" fill="#a05a20" transform="rotate(-30 11.7 18.4)" opacity="0.89"/>
<ellipse cx="12.1" cy="28.2" rx="1.95" ry="2.73" fill="#f6e824"/>
<ellipse cx="31.1" cy="15.5" rx="2.34" ry="1.72" fill="#b4f030" transform="rotate(-20.0 31.1 15.5)"/>
<ellipse cx="31.1" cy="15.5" rx="1.17" ry="0.78" fill="#fff4d8" opacity="0.5"/>
<ellipse cx="22.3" cy="15.0" rx="1.56" ry="1.17" fill="#ff8a1e"/>
<ellipse cx="49.0" cy="2.9" rx="2.34" ry="1.56" fill="#ff8a1e"/>
<ellipse cx="49.5" cy="2.7" rx="1.4" ry="0.94" fill="#f6e824"/>
<ellipse cx="41.3" cy="20.9" rx="1.95" ry="1.17" fill="#ff8a1e"/>
<ellipse cx="42.7" cy="28.2" rx="2.73" ry="1.56" fill="#ff8a1e"/>
<ellipse cx="41.5" cy="27.5" rx="1.4" ry="0.94" fill="#f6e824"/>
<ellipse cx="44.5" cy="29.0" rx="1.17" ry="0.94" fill="#f2261e"/>
<ellipse cx="29.1" cy="33.5" rx="1.4" ry="1.4" fill="#fff4d8" opacity="0.9"/>
<ellipse cx="1.9" cy="21.8" rx="1.95" ry="1.56" fill="#ff8a1e"/>
<ellipse cx="5.3" cy="42.7" rx="2.34" ry="1.56" fill="#ff8a1e"/>
<ellipse cx="5.3" cy="42.7" rx="1.17" ry="0.78" fill="#fff4d8" opacity="0.6"/>
<ellipse cx="24.8" cy="38.3" rx="1.17" ry="1.95" fill="#ff8a1e"/>
<ellipse cx="24.3" cy="24.8" rx="1.17" ry="1.17" fill="#f6e824" opacity="0.7"/>
<ellipse cx="53.9" cy="22.8" rx="1.17" ry="1.17" fill="#fff4d8" opacity="0.6"/>
<ellipse cx="57.3" cy="27.2" rx="1.56" ry="1.56" fill="#f2261e"/>
<ellipse cx="20.9" cy="12.1" rx="0.94" ry="0.94" fill="#22e05a" opacity="0.8"/>
<ellipse cx="48.5" cy="19.4" rx="0.78" ry="0.78" fill="#fff4d8" opacity="0.6"/>
<ellipse cx="15.0" cy="10.0" rx="2.34" ry="2.34" fill="#2a2ae0" opacity="0.4"/>
<ellipse cx="47.0" cy="12.0" rx="3.12" ry="2.34" fill="#2a2ae0" opacity="0.4"/>
<ellipse cx="25.0" cy="30.0" rx="3.12" ry="2.34" fill="#2a2ae0" opacity="0.35"/>
</g>
<g filter="url(#tb)"><rect x="154.30" y="432.60" width="9.7" height="0.85" fill="#fff" opacity="0.95"/><text x="159.15" y="436.80" font-size="3.2" text-anchor="middle" fill="#fff" opacity="0.85">20 μm</text></g>
</g>
<g clip-path="url(#c22)">
<rect x="169.5" y="391.8" width="58.90" height="47.40" fill="#000" filter="url(#f22)"/>
<g filter="url(#bl)" transform="translate(169.5 391.8)" opacity="0.9">
<ellipse cx="17.2" cy="8.5" rx="1.47" ry="1.55" fill="#f2261e" opacity="0.91"/>
<ellipse cx="27.5" cy="26.1" rx="1.05" ry="1.1" fill="#f2261e" transform="rotate(60 27.5 26.1)" opacity="0.98"/>
<ellipse cx="42.0" cy="30.9" rx="1.22" ry="1.38" fill="#f2261e" transform="rotate(-30 42.0 30.9)" opacity="0.89"/>
<ellipse cx="43.6" cy="41.7" rx="1.38" ry="1.61" fill="#f2261e" opacity="0.92"/>
<ellipse cx="33.8" cy="39.1" rx="0.98" ry="1.4" fill="#f2261e" transform="rotate(90 33.8 39.1)" opacity="0.81"/>
<ellipse cx="56.6" cy="13.5" rx="1.49" ry="1.61" fill="#f2261e" transform="rotate(30 56.6 13.5)" opacity="0.95"/>
<ellipse cx="28.2" cy="6.9" rx="1.56" ry="2.34" fill="#ff4a6a" transform="rotate(30 28.2 6.9)" opacity="0.95"/>
<ellipse cx="32.3" cy="29.0" rx="1.53" ry="2.1" fill="#ff4a6a" transform="rotate(-30 32.3 29.0)" opacity="0.94"/>
<ellipse cx="28.1" cy="7.4" rx="5.36" ry="3.21" fill="#f2261e" fill-opacity="0.12" stroke="#f2261e" stroke-width="1.3" stroke-dasharray="17.8 6.2" stroke-dashoffset="8.9"/>
<ellipse cx="21.2" cy="13.3" rx="3.80" ry="2.15" fill="#f2261e" fill-opacity="0.12" stroke="#f2261e" stroke-width="1.3" stroke-dasharray="12.4 4.3" stroke-dashoffset="8.3" transform="rotate(40.0 21.2 13.3)"/>
<ellipse cx="19.2" cy="19.7" rx="3.80" ry="2.73" fill="#f2261e" fill-opacity="0.12" stroke="#f2261e" stroke-width="1.3" stroke-dasharray="13.6 4.7" stroke-dashoffset="3.5"/>
<ellipse cx="35.5" cy="14.8" rx="2.15" ry="4.29" fill="#f2261e" fill-opacity="0.12" stroke="#f2261e" stroke-width="1.3" stroke-dasharray="13.4 4.6" stroke-dashoffset="2.9"/>
<ellipse cx="46.4" cy="17.8" rx="3.80" ry="2.73" fill="#f2261e" fill-opacity="0.12" stroke="#f2261e" stroke-width="1.3" stroke-dasharray="13.6 4.7" stroke-dashoffset="8.2"/>
<ellipse cx="48.4" cy="5.4" rx="4.29" ry="1.66" fill="#f2261e" fill-opacity="0.12" stroke="#f2261e" stroke-width="1.3" stroke-dasharray="12.4 4.3" stroke-dashoffset="5.0" transform="rotate(-50.0 48.4 5.4)"/>
<ellipse cx="54.8" cy="9.4" rx="3.80" ry="2.15" fill="#f2261e" fill-opacity="0.12" stroke="#f2261e" stroke-width="1.3" stroke-dasharray="12.4 4.3" stroke-dashoffset="1.8"/>
<ellipse cx="37.0" cy="26.2" rx="4.29" ry="5.36" fill="#ff4a6a" fill-opacity="0.12" stroke="#ff4a6a" stroke-width="1.3" stroke-dasharray="20.1 6.9" stroke-dashoffset="7.6"/>
<ellipse cx="37.0" cy="26.2" rx="2.73" ry="3.21" fill="#f2261e" fill-opacity="0.12" stroke="#f2261e" stroke-width="1.3" stroke-dasharray="12.3 4.3" stroke-dashoffset="7.6" opacity="0.8"/>
<ellipse cx="36.0" cy="31.6" rx="3.21" ry="3.21" fill="#f2261e" fill-opacity="0.12" stroke="#f2261e" stroke-width="1.3" stroke-dasharray="13.4 4.6" stroke-dashoffset="6.8"/>
<ellipse cx="27.1" cy="23.7" rx="2.15" ry="2.73" fill="#f2261e" fill-opacity="0.12" stroke="#f2261e" stroke-width="1.3" stroke-dasharray="10.1 3.5" stroke-dashoffset="0.8"/>
<ellipse cx="9.9" cy="27.6" rx="2.73" ry="2.15" fill="#f2261e" fill-opacity="0.12" stroke="#f2261e" stroke-width="1.3" stroke-dasharray="10.1 3.5" stroke-dashoffset="2.1"/>
<ellipse cx="11.8" cy="18.3" rx="3.21" ry="2.15" fill="#f2261e" fill-opacity="0.12" stroke="#f2261e" stroke-width="1.3" stroke-dasharray="11.2 3.9" stroke-dashoffset="7.5" opacity="0.7"/>
<ellipse cx="25.2" cy="40.5" rx="3.21" ry="4.29" fill="#f2261e" fill-opacity="0.12" stroke="#f2261e" stroke-width="1.3" stroke-dasharray="15.6 5.4" stroke-dashoffset="7.9"/>
<ellipse cx="28.9" cy="37.3" rx="1.64" ry="1.64" fill="#fff4d8"/>
<ellipse cx="28.9" cy="37.3" rx="0.7" ry="0.7" fill="#02000a"/>
<ellipse cx="26.5" cy="19.2" rx="1.17" ry="1.17" fill="#22e05a"/>
<ellipse cx="14.8" cy="41.0" rx="3.80" ry="1.66" fill="#f2261e" fill-opacity="0.12" stroke="#f2261e" stroke-width="1.3" stroke-dasharray="11.4 3.9" stroke-dashoffset="6.6"/>
<ellipse cx="52.3" cy="37.5" rx="2.73" ry="3.21" fill="#f2261e" fill-opacity="0.12" stroke="#f2261e" stroke-width="1.3" stroke-dasharray="12.3 4.3" stroke-dashoffset="8.6"/>
<ellipse cx="45.9" cy="31.6" rx="2.15" ry="3.80" fill="#f2261e" fill-opacity="0.12" stroke="#f2261e" stroke-width="1.3" stroke-dasharray="12.4 4.3" stroke-dashoffset="6.1"/>
<ellipse cx="58.2" cy="29.6" rx="2.73" ry="2.73" fill="#f2261e" fill-opacity="0.12" stroke="#f2261e" stroke-width="1.3" stroke-dasharray="11.3 3.9" stroke-dashoffset="6.2"/>
<ellipse cx="5.9" cy="5.9" rx="1.17" ry="1.17" fill="#ff4a6a"/>
<ellipse cx="2.0" cy="2.0" rx="1.56" ry="1.56" fill="#f2261e"/>
<ellipse cx="30.0" cy="33.0" rx="1.56" ry="1.56" fill="#f2261e" opacity="0.8"/>
<ellipse cx="42.0" cy="38.0" rx="1.56" ry="1.56" fill="#f2261e" opacity="0.7"/>
</g>
<g filter="url(#tb)"><rect x="215.70" y="432.60" width="9.7" height="0.85" fill="#fff" opacity="0.95"/><text x="220.55" y="436.80" font-size="3.2" text-anchor="middle" fill="#fff" opacity="0.85">20 μm</text></g>
</g>
<g clip-path="url(#c23)">
<rect x="231.0" y="391.8" width="58.10" height="47.40" fill="#000" filter="url(#f23)"/>
<g filter="url(#bl)" transform="translate(231.0 391.8)" opacity="0.88">
<ellipse cx="54.6" cy="16.2" rx="0.9" ry="1.11" fill="#f2261e" transform="rotate(60 54.6 16.2)" opacity="0.91"/>
<ellipse cx="11.1" cy="36.6" rx="0.74" ry="0.78" fill="#f2261e" opacity="0.77"/>
<ellipse cx="55.3" cy="19.8" rx="1.07" ry="1.28" fill="#f2261e" transform="rotate(60 55.3 19.8)" opacity="0.91"/>
<ellipse cx="49.0" cy="40.8" rx="1.07" ry="1.32" fill="#f2261e" opacity="0.79"/>
<ellipse cx="15.9" cy="9.8" rx="0.95" ry="0.9" fill="#e8309a" transform="rotate(30 15.9 9.8)" opacity="0.95"/>
<ellipse cx="31.0" cy="31.7" rx="1.1" ry="0.93" fill="#f2261e" opacity="0.9"/>
<ellipse cx="35.4" cy="17.1" rx="1.19" ry="1.33" fill="#f2261e" transform="rotate(90 35.4 17.1)" opacity="0.87"/>
<ellipse cx="29.7" cy="12.0" rx="0.72" ry="0.93" fill="#e8309a" transform="rotate(90 29.7 12.0)" opacity="0.89"/>
<ellipse cx="11.2" cy="8.7" rx="1.33" ry="1.33" fill="#ff8a1e" opacity="0.9"/>
<ellipse cx="34.5" cy="30.1" rx="1.99" ry="1.86" fill="#ff4a6a"/>
<ellipse cx="34.5" cy="30.1" rx="0.86" ry="0.8" fill="#2a2ae0" opacity="0.6"/>
<ellipse cx="23.8" cy="41.7" rx="1.66" ry="1.99" fill="#f2261e"/>
<ellipse cx="15.0" cy="20.4" rx="1.33" ry="1.66" fill="#e8309a" opacity="0.5"/>
<ellipse cx="23.3" cy="28.6" rx="1.33" ry="1.99" fill="#f2261e" opacity="0.6"/>
<ellipse cx="27.7" cy="23.8" rx="0.99" ry="0.99" fill="#f2261e" opacity="0.6"/>
<ellipse cx="43.2" cy="45.1" rx="1.99" ry="0.99" fill="#f2261e" opacity="0.9"/>
<ellipse cx="49.5" cy="4.9" rx="1.99" ry="0.99" fill="#e8309a" opacity="0.4"/>
</g>
<g filter="url(#tb)"><rect x="279.50" y="433.30" width="7.2" height="3.9" fill="#f4f4f8" opacity="0.88"/><rect x="280.70" y="434.80" width="4.8" height="1.2" fill="#223" opacity="0.5"/></g>
</g>
<g clip-path="url(#c24)">
<rect x="46.3" y="441.8" width="59.20" height="46.20" fill="#000" filter="url(#f24)"/>
<g filter="url(#bl)" transform="translate(46.3 441.8)" opacity="1">
<ellipse cx="15.1" cy="2.5" rx="1.08" ry="0.98" fill="#fff4d8" opacity="0.99"/>
<ellipse cx="34.0" cy="36.2" rx="1.53" ry="1.91" fill="#ff4a6a" transform="rotate(-30 34.0 36.2)" opacity="0.79"/>
<ellipse cx="23.4" cy="43.0" rx="1.01" ry="1.34" fill="#fff4d8" transform="rotate(30 23.4 43.0)" opacity="0.86"/>
<ellipse cx="27.4" cy="8.9" rx="1.44" ry="1.7" fill="#f2261e" transform="rotate(-30 27.4 8.9)" opacity="0.89"/>
<ellipse cx="24.3" cy="29.7" rx="1.15" ry="1.34" fill="#f2261e" transform="rotate(-30 24.3 29.7)" opacity="0.85"/>
<ellipse cx="55.5" cy="44.4" rx="1.49" ry="1.17" fill="#ff4a6a" transform="rotate(30 55.5 44.4)" opacity="0.85"/>
<ellipse cx="40.8" cy="24.6" rx="1.26" ry="1.22" fill="#f2261e" transform="rotate(60 40.8 24.6)" opacity="0.83"/>
<ellipse cx="11.7" cy="11.3" rx="1.5" ry="1.38" fill="#f2261e" transform="rotate(60 11.7 11.3)" opacity="0.86"/>
<ellipse cx="52.9" cy="42.7" rx="1.07" ry="1.44" fill="#f2261e" opacity="0.83"/>
<ellipse cx="21.4" cy="9.3" rx="1.46" ry="1.99" fill="#ff4a6a" transform="rotate(-30 21.4 9.3)" opacity="0.96"/>
<ellipse cx="8.9" cy="19.7" rx="4.88" ry="5.36" fill="#ff4a6a" fill-opacity="0.12" stroke="#ff4a6a" stroke-width="1.3" stroke-dasharray="21.3 7.4" stroke-dashoffset="1.4"/>
<ellipse cx="7.4" cy="14.8" rx="2.73" ry="2.73" fill="#f2261e" fill-opacity="0.12" stroke="#f2261e" stroke-width="1.3" stroke-dasharray="11.3 3.9" stroke-dashoffset="6.2"/>
<ellipse cx="12.8" cy="14.8" rx="2.15" ry="3.21" fill="#ff4a6a" fill-opacity="0.12" stroke="#ff4a6a" stroke-width="1.3" stroke-dasharray="11.2 3.9" stroke-dashoffset="4.0"/>
<ellipse cx="16.8" cy="29.6" rx="4.88" ry="2.15" fill="#ff4a6a" fill-opacity="0.12" stroke="#ff4a6a" stroke-width="1.3" stroke-dasharray="14.6 5.1" stroke-dashoffset="6.4"/>
<ellipse cx="19.2" cy="34.5" rx="3.21" ry="2.73" fill="#f2261e" fill-opacity="0.12" stroke="#f2261e" stroke-width="1.3" stroke-dasharray="12.3 4.3" stroke-dashoffset="7.9"/>
<ellipse cx="18.8" cy="9.9" rx="2.15" ry="3.21" fill="#f2261e" fill-opacity="0.12" stroke="#f2261e" stroke-width="1.3" stroke-dasharray="11.2 3.9" stroke-dashoffset="1.3"/>
<ellipse cx="16.3" cy="11.8" rx="1.17" ry="1.17" fill="#fff4d8"/>
<ellipse cx="27.6" cy="4.9" rx="0.94" ry="2.73" fill="#b4f030"/>
<ellipse cx="36.5" cy="8.9" rx="2.15" ry="5.36" fill="#f2261e" fill-opacity="0.12" stroke="#f2261e" stroke-width="1.3" stroke-dasharray="15.6 5.4" stroke-dashoffset="2.2" transform="rotate(-20.0 36.5 8.9)"/>
<ellipse cx="40.5" cy="21.2" rx="2.34" ry="2.34" fill="#ff8a1e"/>
<ellipse cx="40.5" cy="21.2" rx="1.17" ry="1.17" fill="#fff4d8" opacity="0.7"/>
<ellipse cx="56.3" cy="12.8" rx="2.15" ry="5.36" fill="#f2261e" fill-opacity="0.12" stroke="#f2261e" stroke-width="1.3" stroke-dasharray="15.6 5.4" stroke-dashoffset="2.5"/>
<ellipse cx="53.3" cy="16.8" rx="1.56" ry="1.56" fill="#f2261e"/>
<ellipse cx="56.8" cy="26.2" rx="2.73" ry="4.29" fill="#f2261e" fill-opacity="0.12" stroke="#f2261e" stroke-width="1.3" stroke-dasharray="14.6 5.0" stroke-dashoffset="6.2"/>
<ellipse cx="56.5" cy="25.0" rx="0.78" ry="0.78" fill="#fff4d8"/>
<ellipse cx="57.0" cy="28.0" rx="0.78" ry="0.78" fill="#fff4d8"/>
<ellipse cx="44.4" cy="36.5" rx="4.88" ry="4.29" fill="#f2261e" fill-opacity="0.12" stroke="#f2261e" stroke-width="1.3" stroke-dasharray="19.1 6.6" stroke-dashoffset="0.3" transform="rotate(45.0 44.4 36.5)"/>
<ellipse cx="47.4" cy="37.0" rx="0.94" ry="0.94" fill="#fff4d8"/>
<ellipse cx="45.5" cy="39.0" rx="0.78" ry="0.78" fill="#f6e824"/>
<ellipse cx="1.0" cy="7.4" rx="1.56" ry="1.56" fill="#f2261e"/>
<ellipse cx="31.6" cy="17.8" rx="0.94" ry="0.94" fill="#fff4d8"/>
<ellipse cx="24.2" cy="17.8" rx="0.78" ry="0.78" fill="#fff4d8" opacity="0.8"/>
<ellipse cx="34.1" cy="21.2" rx="0.78" ry="0.78" fill="#fff4d8" opacity="0.8"/>
<ellipse cx="31.6" cy="35.5" rx="2.73" ry="1.56" fill="#e8309a"/>
<ellipse cx="24.2" cy="36.0" rx="1.17" ry="1.17" fill="#fff4d8"/>
<ellipse cx="42.4" cy="43.9" rx="2.73" ry="2.73" fill="#f2261e" fill-opacity="0.12" stroke="#f2261e" stroke-width="1.3" stroke-dasharray="11.3 3.9" stroke-dashoffset="8.5"/>
<ellipse cx="27.6" cy="20.7" rx="1.17" ry="1.17" fill="#f2261e"/>
<ellipse cx="48.4" cy="3.9" rx="1.56" ry="1.56" fill="#f2261e" opacity="0.6"/>
<ellipse cx="5.0" cy="27.0" rx="3.21" ry="3.21" fill="#f2261e" fill-opacity="0.12" stroke="#f2261e" stroke-width="1.3" stroke-dasharray="13.4 4.6" stroke-dashoffset="6.0" opacity="0.8"/>
<ellipse cx="12.0" cy="24.0" rx="1.56" ry="1.56" fill="#e8309a" opacity="0.7"/>
<ellipse cx="2.5" cy="37.0" rx="0.94" ry="0.94" fill="#22d8b8" opacity="0.6"/>
</g>
<g filter="url(#tb)"><rect x="92.80" y="481.40" width="9.7" height="0.85" fill="#fff" opacity="0.95"/><text x="97.65" y="485.60" font-size="3.2" text-anchor="middle" fill="#fff" opacity="0.85">20 μm</text></g>
</g>
<g clip-path="url(#c25)">
<rect x="108.0" y="441.8" width="59.00" height="46.20" fill="#000" filter="url(#f25)"/>
<g filter="url(#bl)" transform="translate(108.0 441.8)" opacity="0.88">
<ellipse cx="29.9" cy="25.4" rx="0.82" ry="0.99" fill="#f2261e" transform="rotate(30 29.9 25.4)" opacity="0.79"/>
<ellipse cx="48.8" cy="42.0" rx="0.95" ry="1.15" fill="#e8309a" transform="rotate(30 48.8 42.0)" opacity="0.91"/>
<ellipse cx="33.5" cy="18.2" rx="0.99" ry="1.22" fill="#ff4a6a" opacity="0.87"/>
<ellipse cx="10.1" cy="25.6" rx="1.19" ry="1.21" fill="#e8309a" opacity="0.88"/>
<ellipse cx="34.2" cy="17.7" rx="1.07" ry="1.06" fill="#e8309a" transform="rotate(90 34.2 17.7)" opacity="0.94"/>
<ellipse cx="22.6" cy="8.3" rx="1.11" ry="1.28" fill="#f2261e" transform="rotate(-30 22.6 8.3)" opacity="0.77"/>
<ellipse cx="29.6" cy="10.9" rx="0.91" ry="0.84" fill="#e8309a" opacity="0.87"/>
<ellipse cx="27.0" cy="40.8" rx="1.03" ry="1.31" fill="#e8309a" transform="rotate(60 27.0 40.8)" opacity="0.96"/>
<ellipse cx="5.7" cy="17.8" rx="0.81" ry="0.69" fill="#ff4a6a" transform="rotate(60 5.7 17.8)" opacity="0.78"/>
<ellipse cx="31.6" cy="2.9" rx="1.46" ry="1.46" fill="#e8309a"/>
<ellipse cx="7.3" cy="20.4" rx="1.33" ry="1.33" fill="#ff4a6a"/>
<ellipse cx="30.1" cy="25.7" rx="1.33" ry="1.33" fill="#e8309a" opacity="0.7"/>
<ellipse cx="2.9" cy="29.6" rx="0.99" ry="1.66" fill="#f2261e"/>
<ellipse cx="37.9" cy="16.0" rx="0.99" ry="0.99" fill="#e8309a" opacity="0.6"/>
<ellipse cx="16.5" cy="26.7" rx="0.99" ry="0.99" fill="#e8309a" opacity="0.5"/>
<ellipse cx="18.4" cy="7.8" rx="0.8" ry="0.8" fill="#fff4d8" opacity="0.7"/>
<ellipse cx="54.9" cy="5.3" rx="0.8" ry="0.8" fill="#22d8b8" opacity="0.5"/>
<ellipse cx="1.9" cy="39.8" rx="0.99" ry="0.99" fill="#f2261e" opacity="0.6"/>
</g>
<g filter="url(#tb)"><rect x="154.30" y="481.40" width="9.7" height="0.85" fill="#fff" opacity="0.95"/><text x="159.15" y="485.60" font-size="3.2" text-anchor="middle" fill="#fff" opacity="0.85">20 μm</text></g>
</g>
<g clip-path="url(#c26)">
<rect x="169.5" y="441.8" width="58.90" height="46.20" fill="#000" filter="url(#f26)"/>
<g filter="url(#bl)" transform="translate(169.5 441.8)" opacity="1">
<ellipse cx="1.5" cy="21.1" rx="1.22" ry="1.76" fill="#22e05a" transform="rotate(-30 1.5 21.1)" opacity="0.94"/>
<ellipse cx="11.0" cy="28.9" rx="1.49" ry="2.15" fill="#f2261e" transform="rotate(90 11.0 28.9)" opacity="0.83"/>
<ellipse cx="54.8" cy="12.5" rx="1.3" ry="1.79" fill="#ff8a1e" transform="rotate(30 54.8 12.5)" opacity="0.94"/>
<ellipse cx="3.5" cy="21.6" rx="1.39" ry="1.97" fill="#f2261e" transform="rotate(60 3.5 21.6)" opacity="0.93"/>
<ellipse cx="6.0" cy="24.1" rx="0.98" ry="1.07" fill="#f2261e" transform="rotate(60 6.0 24.1)" opacity="0.95"/>
<ellipse cx="26.9" cy="21.7" rx="1.13" ry="1.04" fill="#ff8a1e"/>
<ellipse cx="21.6" cy="17.9" rx="1.02" ry="0.85" fill="#f6e824" opacity="0.77"/>
<ellipse cx="9.8" cy="29.6" rx="1.45" ry="1.05" fill="#ff8a1e" transform="rotate(30 9.8 29.6)" opacity="0.83"/>
<ellipse cx="28.2" cy="5.9" rx="1.27" ry="1.33" fill="#a05a20" transform="rotate(30 28.2 5.9)" opacity="0.96"/>
<ellipse cx="40.7" cy="2.4" rx="1.67" ry="2.0" fill="#ff8a1e" transform="rotate(60 40.7 2.4)" opacity="0.89"/>
<ellipse cx="55.5" cy="35.8" rx="1.65" ry="1.39" fill="#f2261e" transform="rotate(-30 55.5 35.8)" opacity="0.81"/>
<ellipse cx="15.6" cy="19.0" rx="1.1" ry="1.57" fill="#ff8a1e" transform="rotate(-30 15.6 19.0)" opacity="0.94"/>
<ellipse cx="49.5" cy="27.0" rx="1.33" ry="1.26" fill="#ff8a1e" opacity="0.75"/>
<ellipse cx="28.9" cy="15.1" rx="1.35" ry="1.01" fill="#ff8a1e" transform="rotate(-30 28.9 15.1)" opacity="0.87"/>
<ellipse cx="38.6" cy="11.9" rx="1.01" ry="1.08" fill="#b4f030" transform="rotate(-30 38.6 11.9)" opacity="0.85"/>
<ellipse cx="37.5" cy="33.6" rx="1.43" ry="1.21" fill="#b4f030" transform="rotate(60 37.5 33.6)" opacity="0.89"/>
<ellipse cx="23.2" cy="39.2" rx="1.68" ry="2.0" fill="#22e05a" transform="rotate(30 23.2 39.2)" opacity="0.77"/>
<ellipse cx="4.7" cy="27.8" rx="1.11" ry="0.98" fill="#ff8a1e" transform="rotate(60 4.7 27.8)" opacity="0.88"/>
<ellipse cx="12.3" cy="18.4" rx="1.43" ry="1.86" fill="#b4f030" transform="rotate(60 12.3 18.4)" opacity="0.89"/>
<ellipse cx="29.0" cy="13.7" rx="1.5" ry="2.04" fill="#a05a20" transform="rotate(30 29.0 13.7)" opacity="0.83"/>
<ellipse cx="14.8" cy="31.0" rx="1.41" ry="1.18" fill="#ff8a1e" transform="rotate(90 14.8 31.0)" opacity="0.88"/>
<ellipse cx="46.3" cy="30.2" rx="1.22" ry="0.91" fill="#a05a20" opacity="0.87"/>
<ellipse cx="34.1" cy="10.4" rx="2.34" ry="3.51" fill="#f6e824"/>
<ellipse cx="33.1" cy="6.4" rx="1.56" ry="1.17" fill="#b4f030"/>
<ellipse cx="29.6" cy="14.3" rx="2.34" ry="1.17" fill="#22e05a" transform="rotate(30.0 29.6 14.3)"/>
<ellipse cx="50.3" cy="19.2" rx="3.9" ry="1.95" fill="#ff8a1e" transform="rotate(-20.0 50.3 19.2)"/>
<ellipse cx="50.3" cy="19.5" rx="2.34" ry="0.94" fill="#f2261e" transform="rotate(-20.0 50.3 19.5)"/>
<ellipse cx="52.3" cy="9.9" rx="2.34" ry="1.95" fill="#f2261e" opacity="0.9"/>
<ellipse cx="43.4" cy="14.8" rx="1.56" ry="1.56" fill="#ff8a1e"/>
<ellipse cx="5.4" cy="12.3" rx="1.56" ry="3.51" fill="#ff8a1e" transform="rotate(-30.0 5.4 12.3)"/>
<ellipse cx="14.8" cy="17.3" rx="3.9" ry="0.94" fill="#a05a20" transform="rotate(-30.0 14.8 17.3)"/>
<ellipse cx="21.2" cy="8.4" rx="1.95" ry="1.17" fill="#ff8a1e"/>
<ellipse cx="21.2" cy="24.2" rx="2.73" ry="1.95" fill="#f2261e"/>
<ellipse cx="20.5" cy="24.0" rx="1.56" ry="1.17" fill="#ff8a1e"/>
<ellipse cx="26.7" cy="23.2" rx="2.34" ry="1.17" fill="#22d8b8" transform="rotate(-30.0 26.7 23.2)"/>
<ellipse cx="14.8" cy="26.2" rx="1.56" ry="1.56" fill="#ff4a6a" opacity="0.7"/>
<ellipse cx="30.6" cy="30.1" rx="2.34" ry="2.34" fill="#f6e824"/>
<ellipse cx="28.1" cy="34.5" rx="3.12" ry="2.73" fill="#f6e824"/>
<ellipse cx="25.7" cy="38.0" rx="2.73" ry="2.73" fill="#ff8a1e"/>
<ellipse cx="25.7" cy="38.0" rx="1.17" ry="1.17" fill="#02000a" opacity="0.7"/>
<ellipse cx="34.1" cy="37.0" rx="1.17" ry="3.9" fill="#b4f030" transform="rotate(30.0 34.1 37.0)"/>
<ellipse cx="40.0" cy="31.6" rx="1.56" ry="2.34" fill="#ff8a1e" opacity="0.7"/>
<ellipse cx="8.4" cy="38.5" rx="4.68" ry="1.56" fill="#22e05a" transform="rotate(25.0 8.4 38.5)"/>
<ellipse cx="4.9" cy="41.5" rx="2.73" ry="1.56" fill="#22e05a"/>
<ellipse cx="13.8" cy="41.5" rx="3.12" ry="0.94" fill="#b4f030" transform="rotate(20.0 13.8 41.5)"/>
<ellipse cx="4.4" cy="33.1" rx="1.95" ry="1.56" fill="#ff8a1e"/>
<ellipse cx="46.9" cy="36.0" rx="1.56" ry="1.56" fill="#f2261e" opacity="0.6"/>
<ellipse cx="23.7" cy="1.5" rx="1.56" ry="1.56" fill="#ff8a1e"/>
<ellipse cx="50.0" cy="6.0" rx="4.68" ry="3.9" fill="#7a20c0" opacity="0.3"/>
<ellipse cx="36.0" cy="25.0" rx="2.34" ry="1.56" fill="#159a8a" opacity="0.6"/>
</g>
<g filter="url(#tb)"><rect x="215.70" y="481.40" width="9.7" height="0.85" fill="#fff" opacity="0.95"/><text x="220.55" y="485.60" font-size="3.2" text-anchor="middle" fill="#fff" opacity="0.85">20 μm</text></g>
</g>
<g clip-path="url(#c27)">
<rect x="231.0" y="441.8" width="58.10" height="46.20" fill="#000" filter="url(#f27)"/>
<g filter="url(#bl)" transform="translate(231.0 441.8)" opacity="0.95">
<ellipse cx="13.1" cy="2.1" rx="1.24" ry="1.85" fill="#f2261e" transform="rotate(60 13.1 2.1)" opacity="0.77"/>
<ellipse cx="47.3" cy="39.1" rx="1.21" ry="1.33" fill="#f2261e" transform="rotate(60 47.3 39.1)" opacity="0.83"/>
<ellipse cx="38.0" cy="41.5" rx="0.98" ry="1.24" fill="#f2261e" opacity="0.94"/>
<ellipse cx="49.0" cy="14.4" rx="1.05" ry="1.07" fill="#ff4a6a" transform="rotate(60 49.0 14.4)" opacity="0.9"/>
<ellipse cx="47.7" cy="4.2" rx="1.02" ry="1.18" fill="#ff4a6a" transform="rotate(30 47.7 4.2)" opacity="0.78"/>
<ellipse cx="3.6" cy="24.3" rx="1.07" ry="0.97" fill="#f2261e" transform="rotate(60 3.6 24.3)" opacity="0.81"/>
<ellipse cx="23.0" cy="6.1" rx="1.44" ry="1.68" fill="#f2261e" transform="rotate(60 23.0 6.1)" opacity="0.92"/>
<ellipse cx="14.5" cy="30.5" rx="1.33" ry="1.62" fill="#f2261e" transform="rotate(60 14.5 30.5)" opacity="0.76"/>
<ellipse cx="28.5" cy="16.4" rx="1.21" ry="1.3" fill="#f2261e" transform="rotate(90 28.5 16.4)" opacity="0.88"/>
<ellipse cx="18.5" cy="28.3" rx="1.48" ry="1.25" fill="#f2261e" transform="rotate(30 18.5 28.3)" opacity="0.83"/>
<ellipse cx="40.2" cy="29.7" rx="1.02" ry="0.88" fill="#f2261e" opacity="0.81"/>
<ellipse cx="6.7" cy="8.8" rx="1.03" ry="0.93" fill="#f2261e" transform="rotate(90 6.7 8.8)" opacity="0.98"/>
<ellipse cx="18.4" cy="1.9" rx="1.85" ry="1.85" fill="#f2261e"/>
<ellipse cx="2.4" cy="12.6" rx="2.22" ry="2.22" fill="#f2261e"/>
<ellipse cx="38.3" cy="5.8" rx="2.22" ry="1.85" fill="#f2261e"/>
<ellipse cx="52.4" cy="3.4" rx="1.48" ry="1.85" fill="#f2261e"/>
<ellipse cx="26.2" cy="6.3" rx="2.22" ry="1.48" fill="#f2261e" opacity="0.7"/>
<ellipse cx="13.1" cy="8.3" rx="1.48" ry="1.48" fill="#f2261e" opacity="0.7"/>
<ellipse cx="18.0" cy="10.2" rx="1.11" ry="1.11" fill="#f2261e"/>
<ellipse cx="31.1" cy="17.5" rx="1.85" ry="1.48" fill="#f2261e"/>
<ellipse cx="36.4" cy="20.9" rx="1.85" ry="2.59" fill="#f2261e"/>
<ellipse cx="22.3" cy="23.8" rx="1.85" ry="1.85" fill="#f2261e"/>
<ellipse cx="11.7" cy="30.1" rx="2.59" ry="2.22" fill="#f2261e"/>
<ellipse cx="24.3" cy="34.0" rx="1.85" ry="1.48" fill="#f2261e"/>
<ellipse cx="41.3" cy="36.9" rx="1.48" ry="1.48" fill="#f2261e"/>
<ellipse cx="22.8" cy="41.7" rx="1.85" ry="1.85" fill="#f2261e"/>
<ellipse cx="35.9" cy="40.8" rx="1.11" ry="1.11" fill="#f2261e" opacity="0.6"/>
<ellipse cx="45.6" cy="8.3" rx="1.11" ry="1.11" fill="#ff4a6a"/>
<ellipse cx="50.5" cy="37.9" rx="1.11" ry="1.11" fill="#f2261e" opacity="0.6"/>
<ellipse cx="3.4" cy="5.3" rx="1.48" ry="0.59" fill="#fff4d8" opacity="0.6"/>
<ellipse cx="8.0" cy="20.0" rx="1.33" ry="1.33" fill="#f2261e"/>
<ellipse cx="30.0" cy="28.0" rx="1.33" ry="1.11" fill="#f2261e"/>
<ellipse cx="44.0" cy="16.0" rx="1.11" ry="1.11" fill="#f2261e"/>
<ellipse cx="48.0" cy="26.0" rx="1.33" ry="1.33" fill="#f2261e"/>
<ellipse cx="54.0" cy="14.0" rx="1.11" ry="1.11" fill="#f2261e" opacity="0.8"/>
<ellipse cx="6.0" cy="38.0" rx="1.11" ry="1.11" fill="#f2261e" opacity="0.8"/>
<ellipse cx="32.0" cy="10.0" rx="1.11" ry="1.11" fill="#f2261e" opacity="0.8"/>
<ellipse cx="16.0" cy="18.0" rx="1.11" ry="1.11" fill="#f2261e" opacity="0.8"/>
<ellipse cx="44.0" cy="30.0" rx="1.11" ry="1.11" fill="#f2261e" opacity="0.8"/>
<ellipse cx="30.0" cy="38.0" rx="1.11" ry="1.11" fill="#f2261e" opacity="0.8"/>
<ellipse cx="53.0" cy="28.0" rx="0.89" ry="0.89" fill="#f2261e" opacity="0.7"/>
</g>
<g filter="url(#tb)"><rect x="279.50" y="482.10" width="7.2" height="3.9" fill="#f4f4f8" opacity="0.88"/><rect x="280.70" y="483.60" width="4.8" height="1.2" fill="#223" opacity="0.5"/></g>
</g>
<text x="28.6" y="22" font-size="16" text-anchor="start" fill="#000">Fig. 6</text>
<text x="24.2" y="56.2" font-size="13" text-anchor="start" fill="#000">A</text>
<text x="26.2" y="211.4" font-size="13" text-anchor="start" fill="#000">B</text>
<text x="25.4" y="375.2" font-size="13" text-anchor="start" fill="#000">C</text>
<text x="79.3" y="57.4" font-size="9" text-anchor="middle" fill="#111">Vehicle</text>
<text x="145.2" y="57.2" font-size="9" text-anchor="middle" fill="#111">hIgG1</text>
<text x="208.6" y="56.1" font-size="9" text-anchor="middle" fill="#111">HuSC1-39</text>
<text x="272.2" y="56.1" font-size="9" text-anchor="middle" fill="#111">MRTX849</text>
<text x="338.6" y="49.1" font-size="9" text-anchor="middle" fill="#111">HuSC1-39</text>
<text x="338.2" y="60.3" font-size="9" text-anchor="middle" fill="#111">+MRTX849</text>
<text x="80.6" y="210.8" font-size="9" text-anchor="middle" fill="#111">Vehicle</text>
<text x="144.5" y="210.6" font-size="9" text-anchor="middle" fill="#111">hIgG1</text>
<text x="207.5" y="209.6" font-size="9" text-anchor="middle" fill="#111">HuSC1-39</text>
<text x="271.3" y="210.0" font-size="9" text-anchor="middle" fill="#111">MRTX849</text>
<text x="337.8" y="203.1" font-size="9" text-anchor="middle" fill="#111">HuSC1-39</text>
<text x="337.9" y="214.3" font-size="9" text-anchor="middle" fill="#111">+MRTX849</text>
<text x="32.2" y="112.8" font-size="9.3" fill="#2aa84a" transform="rotate(-90 32.2 112.8)">CD206<tspan fill="#2a2a2a">/</tspan></text>
<text x="43.0" y="112.8" font-size="9.3" text-anchor="start" fill="#ec2428" transform="rotate(-90 43.0 112.8)">F480</text>
<text x="32.2" y="167.4" font-size="9.3" fill="#2aa84a" transform="rotate(-90 32.2 167.4)">CSF1<tspan fill="#2a2a2a">/</tspan></text>
<text x="43.0" y="167.4" font-size="9.3" text-anchor="start" fill="#ec2428" transform="rotate(-90 43.0 167.4)">CD206</text>
<text x="34.5" y="257.7" font-size="9.3" fill="#2aa84a" transform="rotate(-90 34.5 257.7)">CD86<tspan fill="#2a2a2a">/</tspan></text>
<text x="45.6" y="257.7" font-size="9.3" text-anchor="start" fill="#ec2428" transform="rotate(-90 45.6 257.7)">F480</text>
<text x="41.2" y="313.2" font-size="9.3" text-anchor="start" fill="#ec2428" transform="rotate(-90 41.2 313.2)">TNFα</text>
<text x="76.0" y="377.4" font-size="9" text-anchor="middle" fill="#26ac6c">CD206<tspan fill="#2c3c34">/</tspan></text>
<text x="76.0" y="388.0" font-size="9" text-anchor="middle" fill="#e23434">F480</text>
<text x="138.6" y="378.7" font-size="9" text-anchor="middle" fill="#26ac6c">CSF1<tspan fill="#2c3c34">/</tspan></text>
<text x="138.8" y="389.6" font-size="9" text-anchor="middle" fill="#e23434">CD206</text>
<text x="204.0" y="376.9" font-size="9" text-anchor="middle" fill="#26ac6c">CD86<tspan fill="#2c3c34">/</tspan></text>
<text x="202.0" y="388.0" font-size="9" text-anchor="middle" fill="#e23434">F480</text>
<text x="261.6" y="382.0" font-size="9" text-anchor="middle" fill="#e23434">TNFα</text>
<text x="42.2" y="417.2" font-size="9" text-anchor="middle" fill="#111" transform="rotate(-90 42.2 417.2)">sh-NT</text>
<text x="42.2" y="465.0" font-size="9" text-anchor="middle" fill="#111" transform="rotate(-90 42.2 465.0)">sh-TF</text>
<path d="M411.5 73.1V177.0H531.5" fill="none" stroke="#000" stroke-width="0.9"/>
<line x1="407.1" y1="73.5" x2="411.5" y2="73.5" stroke="#000" stroke-width="0.9"/>
<text x="404.7" y="75.98" font-size="6.9" text-anchor="end" fill="#111">1.5</text>
<line x1="407.1" y1="107.9" x2="411.5" y2="107.9" stroke="#000" stroke-width="0.9"/>
<text x="404.7" y="110.38" font-size="6.9" text-anchor="end" fill="#111">1.0</text>
<line x1="407.1" y1="142.3" x2="411.5" y2="142.3" stroke="#000" stroke-width="0.9"/>
<text x="404.7" y="144.78" font-size="6.9" text-anchor="end" fill="#111">0.5</text>
<line x1="407.1" y1="176.8" x2="411.5" y2="176.8" stroke="#000" stroke-width="0.9"/>
<text x="404.7" y="179.28" font-size="6.9" text-anchor="end" fill="#111">0.0</text>
<line x1="420.00" y1="106.50" x2="420.00" y2="101.00" stroke="#222222" stroke-width="0.7"/>
<line x1="417.80" y1="101.00" x2="422.20" y2="101.00" stroke="#222222" stroke-width="0.7"/>
<rect x="416.00" y="106.50" width="8.00" height="70.50" fill="#2a2a2a" stroke="#000000" stroke-width="0.6"/>
<line x1="430.60" y1="109.00" x2="430.60" y2="97.00" stroke="#d4d4d4" stroke-width="0.7"/>
<line x1="428.40" y1="97.00" x2="432.80" y2="97.00" stroke="#d4d4d4" stroke-width="0.7"/>
<rect x="426.50" y="109.00" width="8.20" height="68.00" fill="#ebebeb" stroke="#d6d6d6" stroke-width="0.6"/>
<line x1="441.20" y1="150.20" x2="441.20" y2="145.20" stroke="#f08c8c" stroke-width="0.7"/>
<line x1="439.00" y1="145.20" x2="443.40" y2="145.20" stroke="#f08c8c" stroke-width="0.7"/>
<rect x="437.20" y="150.20" width="8.00" height="26.80" fill="#fb7a7a" stroke="#e24848" stroke-width="0.6"/>
<line x1="451.90" y1="119.50" x2="451.90" y2="115.20" stroke="#7c7cec" stroke-width="0.7"/>
<line x1="449.70" y1="115.20" x2="454.10" y2="115.20" stroke="#7c7cec" stroke-width="0.7"/>
<rect x="447.80" y="119.50" width="8.20" height="57.50" fill="#7a7ef8" stroke="#4b4bd8" stroke-width="0.6"/>
<line x1="462.50" y1="169.70" x2="462.50" y2="165.20" stroke="#7cecf2" stroke-width="0.7"/>
<line x1="460.30" y1="165.20" x2="464.70" y2="165.20" stroke="#7cecf2" stroke-width="0.7"/>
<rect x="458.50" y="169.70" width="8.00" height="7.30" fill="#48eef0" stroke="#34e2ea" stroke-width="0.6"/>
<line x1="479.35" y1="107.30" x2="479.35" y2="101.00" stroke="#222222" stroke-width="0.7"/>
<line x1="477.15" y1="101.00" x2="481.55" y2="101.00" stroke="#222222" stroke-width="0.7"/>
<rect x="475.30" y="107.30" width="8.10" height="69.70" fill="#2a2a2a" stroke="#000000" stroke-width="0.6"/>
<line x1="490.00" y1="108.50" x2="490.00" y2="101.50" stroke="#d4d4d4" stroke-width="0.7"/>
<line x1="487.80" y1="101.50" x2="492.20" y2="101.50" stroke="#d4d4d4" stroke-width="0.7"/>
<rect x="486.00" y="108.50" width="8.00" height="68.50" fill="#ebebeb" stroke="#d6d6d6" stroke-width="0.6"/>
<line x1="500.50" y1="148.00" x2="500.50" y2="143.00" stroke="#f08c8c" stroke-width="0.7"/>
<line x1="498.30" y1="143.00" x2="502.70" y2="143.00" stroke="#f08c8c" stroke-width="0.7"/>
<rect x="496.50" y="148.00" width="8.00" height="29.00" fill="#fb7a7a" stroke="#e24848" stroke-width="0.6"/>
<line x1="511.35" y1="118.00" x2="511.35" y2="114.00" stroke="#7c7cec" stroke-width="0.7"/>
<line x1="509.15" y1="114.00" x2="513.55" y2="114.00" stroke="#7c7cec" stroke-width="0.7"/>
<rect x="507.30" y="118.00" width="8.10" height="59.00" fill="#7a7ef8" stroke="#4b4bd8" stroke-width="0.6"/>
<line x1="521.90" y1="167.80" x2="521.90" y2="164.00" stroke="#7cecf2" stroke-width="0.7"/>
<line x1="519.70" y1="164.00" x2="524.10" y2="164.00" stroke="#7cecf2" stroke-width="0.7"/>
<rect x="517.80" y="167.80" width="8.20" height="9.20" fill="#48eef0" stroke="#34e2ea" stroke-width="0.6"/>
<line x1="420.00" y1="177.0" x2="420.00" y2="180.4" stroke="#000" stroke-width="0.9"/>
<line x1="430.60" y1="177.0" x2="430.60" y2="180.4" stroke="#000" stroke-width="0.9"/>
<line x1="441.20" y1="177.0" x2="441.20" y2="180.4" stroke="#000" stroke-width="0.9"/>
<line x1="451.90" y1="177.0" x2="451.90" y2="180.4" stroke="#000" stroke-width="0.9"/>
<line x1="462.50" y1="177.0" x2="462.50" y2="180.4" stroke="#000" stroke-width="0.9"/>
<line x1="479.35" y1="177.0" x2="479.35" y2="180.4" stroke="#000" stroke-width="0.9"/>
<line x1="490.00" y1="177.0" x2="490.00" y2="180.4" stroke="#000" stroke-width="0.9"/>
<line x1="500.50" y1="177.0" x2="500.50" y2="180.4" stroke="#000" stroke-width="0.9"/>
<line x1="511.35" y1="177.0" x2="511.35" y2="180.4" stroke="#000" stroke-width="0.9"/>
<line x1="521.90" y1="177.0" x2="521.90" y2="180.4" stroke="#000" stroke-width="0.9"/>
<path d="M430.50 84.50V80.50H463.50V163.50" fill="none" stroke="#000" stroke-width="1.0"/>
<text x="447.8" y="79.5" font-size="7.5" text-anchor="middle" fill="#000">**</text>
<path d="M430.50 95.00V90.70H441.50V140.30" fill="none" stroke="#000" stroke-width="1.0"/>
<text x="435.8" y="91.4" font-size="7.5" text-anchor="middle" fill="#000">**</text>
<path d="M490.30 87.00V82.30H523.00V161.50" fill="none" stroke="#000" stroke-width="1.0"/>
<text x="506.5" y="81.8" font-size="7.5" text-anchor="middle" fill="#000">****</text>
<path d="M490.30 100.40V96.50H501.50V139.00" fill="none" stroke="#000" stroke-width="1.0"/>
<text x="495.8" y="96.6" font-size="7.5" text-anchor="middle" fill="#000">***</text>
<text x="390.4" y="124.3" font-size="8.4" text-anchor="middle" fill="#111" transform="rotate(-90 390.4 124.3)">Relative area</text>
<text x="414.3" y="193.0" font-size="8.6" fill="#111">CD206<tspan dy="-4.73" font-size="4.99">+</tspan><tspan dy="4.73">F480</tspan><tspan dy="-4.73" font-size="4.99">+</tspan></text>
<text x="473.0" y="193.0" font-size="8.6" fill="#111">CSF1<tspan dy="-4.73" font-size="4.99">+</tspan><tspan dy="4.73">CD206</tspan><tspan dy="-4.73" font-size="4.99">+</tspan></text>
<rect x="530.6" y="63.3" width="11" height="4.4" fill="#2a2a2a" stroke="#000000" stroke-width="0.6"/>
<text x="548.0" y="68.7" font-size="8.4" text-anchor="start" fill="#111">Vehicle</text>
<rect x="530.6" y="73.1" width="11" height="4.4" fill="#ebebeb" stroke="#d6d6d6" stroke-width="0.6"/>
<text x="548.0" y="78.2" font-size="8.4" text-anchor="start" fill="#111">hIgG1</text>
<rect x="530.6" y="83.7" width="11" height="4.4" fill="#fb7a7a" stroke="#e24848" stroke-width="0.6"/>
<text x="548.0" y="88.8" font-size="8.4" text-anchor="start" fill="#111">HuSC1-39</text>
<rect x="530.6" y="94.4" width="11" height="4.4" fill="#7a7ef8" stroke="#4b4bd8" stroke-width="0.6"/>
<text x="548.0" y="99.4" font-size="8.4" text-anchor="start" fill="#111">MRTX849</text>
<rect x="530.6" y="108.6" width="11" height="4.4" fill="#48eef0" stroke="#34e2ea" stroke-width="0.6"/>
<text x="548.0" y="108.4" font-size="8.4" text-anchor="start" fill="#111">HuSC1-39+</text>
<text x="548.0" y="118.9" font-size="8.4" text-anchor="start" fill="#111">MRTX849</text>
<path d="M407.6 209.6V306.5H523.0" fill="none" stroke="#000" stroke-width="0.9"/>
<line x1="403.0" y1="210.0" x2="407.6" y2="210.0" stroke="#000" stroke-width="0.9"/>
<text x="401.8" y="212.52" font-size="7" text-anchor="end" fill="#111">10</text>
<line x1="403.0" y1="229.3" x2="407.6" y2="229.3" stroke="#000" stroke-width="0.9"/>
<text x="401.8" y="231.82" font-size="7" text-anchor="end" fill="#111">8</text>
<line x1="403.0" y1="248.6" x2="407.6" y2="248.6" stroke="#000" stroke-width="0.9"/>
<text x="401.8" y="251.12" font-size="7" text-anchor="end" fill="#111">6</text>
<line x1="403.0" y1="267.9" x2="407.6" y2="267.9" stroke="#000" stroke-width="0.9"/>
<text x="401.8" y="270.42" font-size="7" text-anchor="end" fill="#111">4</text>
<line x1="403.0" y1="287.2" x2="407.6" y2="287.2" stroke="#000" stroke-width="0.9"/>
<text x="401.8" y="289.72" font-size="7" text-anchor="end" fill="#111">2</text>
<line x1="403.0" y1="306.4" x2="407.6" y2="306.4" stroke="#000" stroke-width="0.9"/>
<text x="401.8" y="308.92" font-size="7" text-anchor="end" fill="#111">0</text>
<line x1="415.60" y1="297.80" x2="415.60" y2="295.00" stroke="#222222" stroke-width="0.7"/>
<line x1="413.40" y1="295.00" x2="417.80" y2="295.00" stroke="#222222" stroke-width="0.7"/>
<rect x="411.50" y="297.80" width="8.20" height="8.70" fill="#2a2a2a" stroke="#000000" stroke-width="0.6"/>
<line x1="426.25" y1="296.80" x2="426.25" y2="293.50" stroke="#d4d4d4" stroke-width="0.7"/>
<line x1="424.05" y1="293.50" x2="428.45" y2="293.50" stroke="#d4d4d4" stroke-width="0.7"/>
<rect x="422.20" y="296.80" width="8.10" height="9.70" fill="#ebebeb" stroke="#d6d6d6" stroke-width="0.6"/>
<line x1="436.80" y1="260.00" x2="436.80" y2="256.80" stroke="#f08c8c" stroke-width="0.7"/>
<line x1="434.60" y1="256.80" x2="439.00" y2="256.80" stroke="#f08c8c" stroke-width="0.7"/>
<rect x="432.80" y="260.00" width="8.00" height="46.50" fill="#fb7a7a" stroke="#e24848" stroke-width="0.6"/>
<line x1="447.40" y1="288.00" x2="447.40" y2="282.20" stroke="#7c7cec" stroke-width="0.7"/>
<line x1="445.20" y1="282.20" x2="449.60" y2="282.20" stroke="#7c7cec" stroke-width="0.7"/>
<rect x="443.30" y="288.00" width="8.20" height="18.50" fill="#7a7ef8" stroke="#4b4bd8" stroke-width="0.6"/>
<line x1="458.00" y1="229.30" x2="458.00" y2="219.80" stroke="#7cecf2" stroke-width="0.7"/>
<line x1="455.80" y1="219.80" x2="460.20" y2="219.80" stroke="#7cecf2" stroke-width="0.7"/>
<rect x="454.00" y="229.30" width="8.00" height="77.20" fill="#48eef0" stroke="#34e2ea" stroke-width="0.6"/>
<line x1="474.40" y1="296.00" x2="474.40" y2="293.00" stroke="#222222" stroke-width="0.7"/>
<line x1="472.20" y1="293.00" x2="476.60" y2="293.00" stroke="#222222" stroke-width="0.7"/>
<rect x="470.30" y="296.00" width="8.20" height="10.50" fill="#2a2a2a" stroke="#000000" stroke-width="0.6"/>
<line x1="485.00" y1="298.00" x2="485.00" y2="296.60" stroke="#d4d4d4" stroke-width="0.7"/>
<line x1="482.80" y1="296.60" x2="487.20" y2="296.60" stroke="#d4d4d4" stroke-width="0.7"/>
<rect x="481.00" y="298.00" width="8.00" height="8.50" fill="#ebebeb" stroke="#d6d6d6" stroke-width="0.6"/>
<line x1="495.60" y1="259.20" x2="495.60" y2="249.00" stroke="#f08c8c" stroke-width="0.7"/>
<line x1="493.40" y1="249.00" x2="497.80" y2="249.00" stroke="#f08c8c" stroke-width="0.7"/>
<rect x="491.50" y="259.20" width="8.20" height="47.30" fill="#fb7a7a" stroke="#e24848" stroke-width="0.6"/>
<line x1="506.25" y1="289.00" x2="506.25" y2="284.00" stroke="#7c7cec" stroke-width="0.7"/>
<line x1="504.05" y1="284.00" x2="508.45" y2="284.00" stroke="#7c7cec" stroke-width="0.7"/>
<rect x="502.20" y="289.00" width="8.10" height="17.50" fill="#7a7ef8" stroke="#4b4bd8" stroke-width="0.6"/>
<line x1="516.90" y1="242.20" x2="516.90" y2="229.00" stroke="#7cecf2" stroke-width="0.7"/>
<line x1="514.70" y1="229.00" x2="519.10" y2="229.00" stroke="#7cecf2" stroke-width="0.7"/>
<rect x="512.80" y="242.20" width="8.20" height="64.30" fill="#48eef0" stroke="#34e2ea" stroke-width="0.6"/>
<line x1="415.60" y1="306.5" x2="415.60" y2="310.3" stroke="#000" stroke-width="0.9"/>
<line x1="426.25" y1="306.5" x2="426.25" y2="310.3" stroke="#000" stroke-width="0.9"/>
<line x1="436.80" y1="306.5" x2="436.80" y2="310.3" stroke="#000" stroke-width="0.9"/>
<line x1="447.40" y1="306.5" x2="447.40" y2="310.3" stroke="#000" stroke-width="0.9"/>
<line x1="458.00" y1="306.5" x2="458.00" y2="310.3" stroke="#000" stroke-width="0.9"/>
<line x1="474.40" y1="306.5" x2="474.40" y2="310.3" stroke="#000" stroke-width="0.9"/>
<line x1="485.00" y1="306.5" x2="485.00" y2="310.3" stroke="#000" stroke-width="0.9"/>
<line x1="495.60" y1="306.5" x2="495.60" y2="310.3" stroke="#000" stroke-width="0.9"/>
<line x1="506.25" y1="306.5" x2="506.25" y2="310.3" stroke="#000" stroke-width="0.9"/>
<line x1="516.90" y1="306.5" x2="516.90" y2="310.3" stroke="#000" stroke-width="0.9"/>
<path d="M425.40 240.00V216.40H457.60V220.00" fill="none" stroke="#000" stroke-width="1.0"/>
<text x="441.5" y="216.2" font-size="7.5" text-anchor="middle" fill="#000">***</text>
<path d="M425.40 291.00V247.90H436.20V252.80" fill="none" stroke="#000" stroke-width="1.0"/>
<text x="430.8" y="248.4" font-size="7.5" text-anchor="middle" fill="#000">***</text>
<path d="M484.80 239.00V221.80H517.80V227.30" fill="none" stroke="#000" stroke-width="1.0"/>
<text x="502.6" y="221.6" font-size="7.5" text-anchor="middle" fill="#000">**</text>
<path d="M484.80 294.80V241.00H495.80V247.30" fill="none" stroke="#000" stroke-width="1.0"/>
<text x="490.3" y="240.8" font-size="7.5" text-anchor="middle" fill="#000">**</text>
<text x="389.4" y="258.1" font-size="7.7" text-anchor="middle" fill="#111" transform="rotate(-90 389.4 258.1)">Relative area</text>
<text x="413.8" y="319.2" font-size="8.2" fill="#111">CD86<tspan dy="-4.51" font-size="4.76">+</tspan><tspan dy="4.51">F480</tspan><tspan dy="-4.51" font-size="4.76">+</tspan></text>
<text x="495.0" y="319.2" font-size="8.2" text-anchor="middle" fill="#111">TNFα</text>
<rect x="529.4" y="201.5" width="10.6" height="4.1" fill="#2a2a2a" stroke="#000000" stroke-width="0.6"/>
<text x="546.2" y="206.3" font-size="7.8" text-anchor="start" fill="#111">Vehicle</text>
<rect x="529.4" y="209.9" width="10.6" height="4.1" fill="#ebebeb" stroke="#d6d6d6" stroke-width="0.6"/>
<text x="546.2" y="214.9" font-size="7.8" text-anchor="start" fill="#111">hIgG1</text>
<rect x="529.4" y="218.8" width="10.6" height="4.1" fill="#fb7a7a" stroke="#e24848" stroke-width="0.6"/>
<text x="546.2" y="223.4" font-size="7.8" text-anchor="start" fill="#111">HuSC1-39</text>
<rect x="529.4" y="227.7" width="10.6" height="4.1" fill="#7a7ef8" stroke="#4b4bd8" stroke-width="0.6"/>
<text x="546.2" y="232.3" font-size="7.8" text-anchor="start" fill="#111">MRTX849</text>
<rect x="529.4" y="241.5" width="10.6" height="5.0" fill="#48eef0" stroke="#34e2ea" stroke-width="0.6"/>
<text x="546.2" y="241.6" font-size="7.8" text-anchor="start" fill="#111">HuSC1-39+</text>
<text x="546.2" y="251.3" font-size="7.8" text-anchor="start" fill="#111">MRTX849</text>
<path d="M342.6 375.1V473.3H412.0" fill="none" stroke="#000" stroke-width="0.9"/>
<line x1="339.40000000000003" y1="375.5" x2="342.6" y2="375.5" stroke="#000" stroke-width="0.9"/>
<text x="337.9" y="377.73" font-size="6.2" text-anchor="end" fill="#111">1.5</text>
<line x1="339.40000000000003" y1="408.2" x2="342.6" y2="408.2" stroke="#000" stroke-width="0.9"/>
<text x="337.9" y="410.43" font-size="6.2" text-anchor="end" fill="#111">1.0</text>
<line x1="339.40000000000003" y1="441.0" x2="342.6" y2="441.0" stroke="#000" stroke-width="0.9"/>
<text x="337.9" y="443.23" font-size="6.2" text-anchor="end" fill="#111">0.5</text>
<line x1="339.40000000000003" y1="473.2" x2="342.6" y2="473.2" stroke="#000" stroke-width="0.9"/>
<text x="337.9" y="475.43" font-size="6.2" text-anchor="end" fill="#111">0.0</text>
<line x1="355.65" y1="408.20" x2="355.65" y2="400.10" stroke="#222222" stroke-width="0.7"/>
<line x1="352.65" y1="400.10" x2="358.65" y2="400.10" stroke="#222222" stroke-width="0.7"/>
<rect x="349.80" y="408.20" width="11.70" height="65.10" fill="#2a2a2a" stroke="#000000" stroke-width="0.6"/>
<line x1="371.20" y1="450.00" x2="371.20" y2="445.60" stroke="#f08c8c" stroke-width="0.7"/>
<line x1="368.20" y1="445.60" x2="374.20" y2="445.60" stroke="#f08c8c" stroke-width="0.7"/>
<rect x="365.20" y="450.00" width="12.00" height="23.30" fill="#fb7a7a" stroke="#e24848" stroke-width="0.6"/>
<line x1="386.85" y1="408.20" x2="386.85" y2="399.00" stroke="#222222" stroke-width="0.7"/>
<line x1="383.85" y1="399.00" x2="389.85" y2="399.00" stroke="#222222" stroke-width="0.7"/>
<rect x="380.80" y="408.20" width="12.10" height="65.10" fill="#2a2a2a" stroke="#000000" stroke-width="0.6"/>
<line x1="402.30" y1="448.50" x2="402.30" y2="445.30" stroke="#f08c8c" stroke-width="0.7"/>
<line x1="399.30" y1="445.30" x2="405.30" y2="445.30" stroke="#f08c8c" stroke-width="0.7"/>
<rect x="396.20" y="448.50" width="12.20" height="24.80" fill="#fb7a7a" stroke="#e24848" stroke-width="0.6"/>
<line x1="355.40" y1="473.3" x2="355.40" y2="476.7" stroke="#000" stroke-width="0.9"/>
<line x1="371.20" y1="473.3" x2="371.20" y2="476.7" stroke="#000" stroke-width="0.9"/>
<line x1="386.90" y1="473.3" x2="386.90" y2="476.7" stroke="#000" stroke-width="0.9"/>
<line x1="402.30" y1="473.3" x2="402.30" y2="476.7" stroke="#000" stroke-width="0.9"/>
<path d="M356.00 395.10V391.20H371.70V443.10" fill="none" stroke="#000" stroke-width="1.0"/>
<text x="364.2" y="390.8" font-size="7" text-anchor="middle" fill="#000">**</text>
<path d="M387.00 394.70V391.20H402.20V443.10" fill="none" stroke="#000" stroke-width="1.0"/>
<text x="394.9" y="390.8" font-size="7" text-anchor="middle" fill="#000">***</text>
<text x="324.4" y="426.2" font-size="7.15" text-anchor="middle" fill="#111" transform="rotate(-90 324.4 426.2)">Relative area</text>
<text x="363.6" y="486.2" font-size="7.55" text-anchor="middle" fill="#111">CD206<tspan font-size="5.2" dy="-1.6" dx="0.8">+</tspan></text>
<text x="362.8" y="495.8" font-size="7.55" text-anchor="middle" fill="#111">F480<tspan font-size="5.2" dy="-1.2" dx="0.4">+</tspan></text>
<text x="397.0" y="485.5" font-size="7.55" text-anchor="middle" fill="#111">CSF1<tspan font-size="5.2" dy="-1.8" dx="0.3">+</tspan><tspan dy="1.8">/</tspan></text>
<text x="396.8" y="495.4" font-size="7.55" text-anchor="middle" fill="#111">CD206<tspan font-size="5.2" dy="-1.4" dx="1.8">+</tspan></text>
<path d="M453.6 382.3V472.6H519.5" fill="none" stroke="#000" stroke-width="0.9"/>
<line x1="451.0" y1="382.7" x2="453.6" y2="382.7" stroke="#000" stroke-width="0.9"/>
<text x="450.4" y="385.0" font-size="6.4" text-anchor="end" fill="#111">10</text>
<line x1="451.0" y1="400.6" x2="453.6" y2="400.6" stroke="#000" stroke-width="0.9"/>
<text x="450.4" y="402.9" font-size="6.4" text-anchor="end" fill="#111">8</text>
<line x1="451.0" y1="418.7" x2="453.6" y2="418.7" stroke="#000" stroke-width="0.9"/>
<text x="450.4" y="421.0" font-size="6.4" text-anchor="end" fill="#111">6</text>
<line x1="451.0" y1="436.6" x2="453.6" y2="436.6" stroke="#000" stroke-width="0.9"/>
<text x="450.4" y="438.9" font-size="6.4" text-anchor="end" fill="#111">4</text>
<line x1="451.0" y1="454.7" x2="453.6" y2="454.7" stroke="#000" stroke-width="0.9"/>
<text x="450.4" y="457.0" font-size="6.4" text-anchor="end" fill="#111">2</text>
<line x1="451.0" y1="472.5" x2="453.6" y2="472.5" stroke="#000" stroke-width="0.9"/>
<text x="450.4" y="474.8" font-size="6.4" text-anchor="end" fill="#111">0</text>
<line x1="465.80" y1="463.90" x2="465.80" y2="460.60" stroke="#222222" stroke-width="0.7"/>
<line x1="462.80" y1="460.60" x2="468.80" y2="460.60" stroke="#222222" stroke-width="0.7"/>
<rect x="460.10" y="463.90" width="11.40" height="8.70" fill="#2a2a2a" stroke="#000000" stroke-width="0.6"/>
<line x1="481.20" y1="403.80" x2="481.20" y2="387.00" stroke="#f08c8c" stroke-width="0.7"/>
<line x1="478.20" y1="387.00" x2="484.20" y2="387.00" stroke="#f08c8c" stroke-width="0.7"/>
<rect x="475.20" y="403.80" width="12.00" height="68.80" fill="#fb7a7a" stroke="#e24848" stroke-width="0.6"/>
<line x1="496.30" y1="463.90" x2="496.30" y2="460.60" stroke="#222222" stroke-width="0.7"/>
<line x1="493.30" y1="460.60" x2="499.30" y2="460.60" stroke="#222222" stroke-width="0.7"/>
<rect x="490.50" y="463.90" width="11.60" height="8.70" fill="#2a2a2a" stroke="#000000" stroke-width="0.6"/>
<line x1="511.30" y1="432.70" x2="511.30" y2="426.30" stroke="#f08c8c" stroke-width="0.7"/>
<line x1="508.30" y1="426.30" x2="514.30" y2="426.30" stroke="#f08c8c" stroke-width="0.7"/>
<rect x="505.30" y="432.70" width="12.00" height="39.90" fill="#fb7a7a" stroke="#e24848" stroke-width="0.6"/>
<line x1="465.80" y1="472.6" x2="465.80" y2="476.0" stroke="#000" stroke-width="0.9"/>
<line x1="481.20" y1="472.6" x2="481.20" y2="476.0" stroke="#000" stroke-width="0.9"/>
<line x1="496.30" y1="472.6" x2="496.30" y2="476.0" stroke="#000" stroke-width="0.9"/>
<line x1="511.30" y1="472.6" x2="511.30" y2="476.0" stroke="#000" stroke-width="0.9"/>
<path d="M465.60 456.20V382.70H481.30V386.40" fill="none" stroke="#000" stroke-width="1.0"/>
<text x="473.6" y="382.2" font-size="7" text-anchor="middle" fill="#000">**</text>
<path d="M496.20 456.20V421.30H511.20V424.60" fill="none" stroke="#000" stroke-width="1.0"/>
<text x="504.0" y="421.0" font-size="7" text-anchor="middle" fill="#000">***</text>
<text x="437.1" y="427.1" font-size="7.2" text-anchor="middle" fill="#111" transform="rotate(-90 437.1 427.1)">Relative area</text>
<text x="473.6" y="483.4" font-size="7.4" text-anchor="middle" fill="#111">CD86<tspan font-size="5.2" dy="-1.6" dx="0.5">+</tspan></text>
<text x="473.6" y="494.8" font-size="7.4" text-anchor="middle" fill="#111">F480<tspan font-size="6.4" dy="-1.0" dx="0.3">+</tspan></text>
<text x="506.4" y="487.9" font-size="7.4" text-anchor="middle" fill="#111">TNFα</text>
<rect x="495.6" y="374.9" width="8.2" height="3.5" fill="#2a2a2a" stroke="#000" stroke-width="0.6"/>
<rect x="495.6" y="384.3" width="8.2" height="3.5" fill="#fb7a7a" stroke="#e24848" stroke-width="0.6"/>
<text x="509.7" y="378.8" font-size="7.2" text-anchor="start" fill="#111">sh-NT</text>
<text x="509.7" y="388.6" font-size="7.2" text-anchor="start" fill="#111">sh-TF</text>
</svg></body></html>
